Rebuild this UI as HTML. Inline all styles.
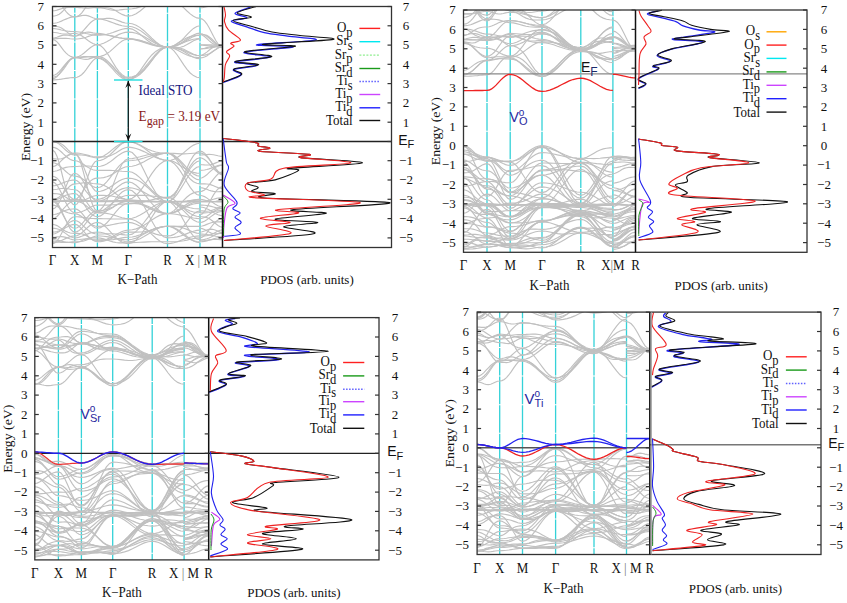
<!DOCTYPE html>
<html><head><meta charset="utf-8"><style>
html,body{margin:0;padding:0;background:#fff;}
body{width:847px;height:603px;position:relative;overflow:hidden;font-family:"Liberation Serif", serif;}
</style></head><body>
<svg width="847" height="603" viewBox="0 0 847 603" style="position:absolute;left:0;top:0"><rect width="847" height="603" fill="#fff"/><line x1="74.8" y1="6.5" x2="74.8" y2="247.5" stroke="#34d2d8" stroke-width="1.3" stroke-dasharray="27.6 1" stroke-dashoffset="21.3"/><line x1="97.4" y1="6.5" x2="97.4" y2="247.5" stroke="#34d2d8" stroke-width="1.3" stroke-dasharray="27.6 1" stroke-dashoffset="21.3"/><line x1="128.3" y1="6.5" x2="128.3" y2="247.5" stroke="#34d2d8" stroke-width="1.3" stroke-dasharray="27.6 1" stroke-dashoffset="21.3"/><line x1="167.5" y1="6.5" x2="167.5" y2="247.5" stroke="#34d2d8" stroke-width="1.3" stroke-dasharray="27.6 1" stroke-dashoffset="21.3"/><line x1="200.0" y1="6.5" x2="200.0" y2="247.5" stroke="#34d2d8" stroke-width="1.3" stroke-dasharray="27.6 1" stroke-dashoffset="21.3"/><line x1="487.0" y1="10.0" x2="487.0" y2="252.3" stroke="#34d2d8" stroke-width="1.3" stroke-dasharray="27.6 1" stroke-dashoffset="21.3"/><line x1="510.2" y1="10.0" x2="510.2" y2="252.3" stroke="#34d2d8" stroke-width="1.3" stroke-dasharray="27.6 1" stroke-dashoffset="21.3"/><line x1="542.0" y1="10.0" x2="542.0" y2="252.3" stroke="#34d2d8" stroke-width="1.3" stroke-dasharray="27.6 1" stroke-dashoffset="21.3"/><line x1="580.8" y1="10.0" x2="580.8" y2="252.3" stroke="#34d2d8" stroke-width="1.3" stroke-dasharray="27.6 1" stroke-dashoffset="21.3"/><line x1="612.9" y1="10.0" x2="612.9" y2="252.3" stroke="#34d2d8" stroke-width="1.3" stroke-dasharray="27.6 1" stroke-dashoffset="21.3"/><line x1="58.4" y1="317.6" x2="58.4" y2="559.9" stroke="#34d2d8" stroke-width="1.3" stroke-dasharray="27.6 1" stroke-dashoffset="21.3"/><line x1="81.4" y1="317.6" x2="81.4" y2="559.9" stroke="#34d2d8" stroke-width="1.3" stroke-dasharray="27.6 1" stroke-dashoffset="21.3"/><line x1="112.7" y1="317.6" x2="112.7" y2="559.9" stroke="#34d2d8" stroke-width="1.3" stroke-dasharray="27.6 1" stroke-dashoffset="21.3"/><line x1="152.2" y1="317.6" x2="152.2" y2="559.9" stroke="#34d2d8" stroke-width="1.3" stroke-dasharray="27.6 1" stroke-dashoffset="21.3"/><line x1="184.1" y1="317.6" x2="184.1" y2="559.9" stroke="#34d2d8" stroke-width="1.3" stroke-dasharray="27.6 1" stroke-dashoffset="21.3"/><line x1="499.7" y1="312.1" x2="499.7" y2="554.5" stroke="#34d2d8" stroke-width="1.3" stroke-dasharray="27.6 1" stroke-dashoffset="21.3"/><line x1="522.5" y1="312.1" x2="522.5" y2="554.5" stroke="#34d2d8" stroke-width="1.3" stroke-dasharray="27.6 1" stroke-dashoffset="21.3"/><line x1="555.6" y1="312.1" x2="555.6" y2="554.5" stroke="#34d2d8" stroke-width="1.3" stroke-dasharray="27.6 1" stroke-dashoffset="21.3"/><line x1="594.0" y1="312.1" x2="594.0" y2="554.5" stroke="#34d2d8" stroke-width="1.3" stroke-dasharray="27.6 1" stroke-dashoffset="21.3"/><line x1="626.5" y1="312.1" x2="626.5" y2="554.5" stroke="#34d2d8" stroke-width="1.3" stroke-dasharray="27.6 1" stroke-dashoffset="21.3"/><clipPath id="cb0"><rect x="52.5" y="6.5" width="170.0" height="241.0"/></clipPath><g clip-path="url(#cb0)" fill="none" stroke="#c0c0c0" stroke-width="1.15"><path d="M52.5 79.8L54.7 79.8L57.0 79.6L59.2 79.4L61.4 79.1L63.6 78.7L65.9 78.4L68.1 78.1L70.3 77.8L72.6 77.6L74.8 77.6L77.1 77.3L79.3 76.3L81.6 74.7L83.8 72.5L86.1 69.6L88.4 66.4L90.6 63.3L92.9 60.6L95.1 58.8L97.4 58.1L100.5 58.7L103.6 60.2L106.7 62.7L109.8 65.8L112.9 69.2L115.9 72.6L119.0 75.6L122.1 78.0L125.2 79.6L128.3 80.1L132.2 78.9L136.1 75.6L140.1 70.8L144.0 65.2L147.9 59.7L151.8 55.0L155.7 51.4L159.7 48.9L163.6 47.5L167.5 47.1L170.8 48.1L174.0 50.9L177.2 55.0L180.5 59.9L183.8 64.9L187.0 69.4L190.2 73.0L193.5 75.6L196.8 77.2L200.0 77.7M200.0 57.9L202.2 57.7L204.5 57.0L206.8 55.9L209.0 54.4L211.2 52.8L213.5 51.0L215.8 49.4L218.0 48.0L220.2 47.1L222.5 46.8"/><path d="M52.5 78.9L54.7 78.3L57.0 76.6L59.2 73.9L61.4 70.8L63.6 67.4L65.9 64.3L68.1 61.6L70.3 59.6L72.6 58.4L74.8 58.0L77.1 57.9L79.3 57.8L81.6 57.5L83.8 57.3L86.1 57.0L88.4 56.8L90.6 56.6L92.9 56.5L95.1 56.5L97.4 56.4L100.5 56.9L103.6 58.1L106.7 60.2L109.8 63.1L112.9 66.5L115.9 70.1L119.0 73.7L122.1 76.7L125.2 78.7L128.3 79.4L132.2 78.8L136.1 77.1L140.1 74.3L144.0 70.4L147.9 65.6L151.8 60.5L155.7 55.4L159.7 51.1L163.6 48.3L167.5 47.2L170.8 47.4L174.0 47.8L177.2 48.6L180.5 49.8L183.8 51.5L187.0 53.4L190.2 55.4L193.5 57.2L196.8 58.4L200.0 58.8M200.0 55.4L202.2 55.4L204.5 55.1L206.8 54.6L209.0 53.7L211.2 52.5L213.5 51.0L215.8 49.5L218.0 48.1L220.2 47.1L222.5 46.7"/><path d="M52.5 77.3L54.7 76.9L57.0 76.0L59.2 74.3L61.4 72.0L63.6 69.1L65.9 65.9L68.1 62.6L70.3 59.9L72.6 58.0L74.8 57.3L77.1 57.3L79.3 57.1L81.6 56.8L83.8 56.6L86.1 56.6L88.4 56.7L90.6 57.0L92.9 57.3L95.1 57.6L97.4 57.7L100.5 58.1L103.6 59.4L106.7 61.4L109.8 64.1L112.9 67.2L115.9 70.4L119.0 73.5L122.1 76.0L125.2 77.6L128.3 78.2L132.2 77.6L136.1 75.6L140.1 72.5L144.0 68.4L147.9 63.7L151.8 58.8L155.7 54.1L159.7 50.3L163.6 47.9L167.5 47.0L170.8 47.4L174.0 48.4L177.2 50.0L180.5 51.7L183.8 53.5L187.0 55.0L190.2 56.2L193.5 57.0L196.8 57.4L200.0 57.6M200.0 48.7L202.2 48.7L204.5 48.6L206.8 48.4L209.0 48.0L211.2 47.6L213.5 47.2L215.8 46.7L218.0 46.3L220.2 46.1L222.5 46.0"/><path d="M52.5 75.4L54.7 75.0L57.0 73.7L59.2 71.7L61.4 69.2L63.6 66.4L65.9 63.6L68.1 61.1L70.3 59.1L72.6 57.8L74.8 57.4L77.1 57.1L79.3 56.3L81.6 54.9L83.8 53.2L86.1 51.3L88.4 49.3L90.6 47.5L92.9 46.0L95.1 45.0L97.4 44.7L100.5 45.6L103.6 48.3L106.7 52.4L109.8 57.3L112.9 62.5L115.9 67.4L119.0 71.6L122.1 74.7L125.2 76.7L128.3 77.3L132.2 76.9L136.1 75.6L140.1 73.4L144.0 70.0L147.9 65.7L151.8 60.6L155.7 55.5L159.7 51.1L163.6 48.1L167.5 47.0L170.8 47.0L174.0 47.1L177.2 47.4L180.5 48.2L183.8 49.3L187.0 50.9L190.2 52.6L193.5 54.2L196.8 55.3L200.0 55.8M200.0 44.7L202.2 44.7L204.5 44.7L206.8 44.7L209.0 44.8L211.2 44.9L213.5 45.1L215.8 45.3L218.0 45.5L220.2 45.7L222.5 45.7"/><path d="M52.5 39.5L54.7 40.1L57.0 41.9L59.2 44.4L61.4 47.4L63.6 50.3L65.9 52.9L68.1 54.9L70.3 56.3L72.6 57.1L74.8 57.3L77.1 57.5L79.3 58.1L81.6 58.8L83.8 59.3L86.1 59.4L88.4 59.1L90.6 58.4L92.9 57.6L95.1 57.0L97.4 56.8L100.5 56.4L103.6 55.4L106.7 53.8L109.8 51.6L112.9 48.9L115.9 46.1L119.0 43.4L122.1 41.1L125.2 39.6L128.3 39.1L132.2 39.3L136.1 40.1L140.1 41.1L144.0 42.4L147.9 43.7L151.8 44.9L155.7 45.9L159.7 46.6L163.6 47.0L167.5 47.2L170.8 47.3L174.0 47.5L177.2 47.6L180.5 47.2L183.8 46.2L187.0 44.6L190.2 42.7L193.5 40.8L196.8 39.4L200.0 38.8M200.0 34.2L202.2 34.3L204.5 34.7L206.8 35.4L209.0 36.7L211.2 38.5L213.5 40.7L215.8 43.0L218.0 45.1L220.2 46.6L222.5 47.1"/><path d="M52.5 38.9L54.7 38.8L57.0 38.6L59.2 38.4L61.4 38.3L63.6 38.3L65.9 38.3L68.1 38.5L70.3 38.8L72.6 39.0L74.8 39.0L77.1 39.0L79.3 38.7L81.6 38.4L83.8 37.9L86.1 37.2L88.4 36.4L90.6 35.7L92.9 35.0L95.1 34.6L97.4 34.4L100.5 34.5L103.6 34.7L106.7 35.0L109.8 35.5L112.9 36.1L115.9 36.9L119.0 37.7L122.1 38.3L125.2 38.8L128.3 39.0L132.2 39.1L136.1 39.6L140.1 40.4L144.0 41.5L147.9 42.7L151.8 44.0L155.7 45.2L159.7 46.3L163.6 46.9L167.5 47.2L170.8 46.7L174.0 45.5L177.2 43.6L180.5 41.5L183.8 39.5L187.0 37.8L190.2 36.6L193.5 35.7L196.8 35.3L200.0 35.2M200.0 33.8L202.2 34.1L204.5 34.9L206.8 36.3L209.0 38.0L211.2 40.0L213.5 42.0L215.8 43.9L218.0 45.4L220.2 46.4L222.5 46.8"/><path d="M52.5 38.2L54.7 37.9L57.0 37.3L59.2 36.4L61.4 35.6L63.6 35.1L65.9 35.0L68.1 35.2L70.3 35.6L72.6 35.9L74.8 36.0L77.1 35.7L79.3 35.0L81.6 33.9L83.8 33.0L86.1 32.3L88.4 32.2L90.6 32.4L92.9 32.9L95.1 33.3L97.4 33.4L100.5 33.6L103.6 34.1L106.7 34.8L109.8 35.6L112.9 36.4L115.9 37.1L119.0 37.7L122.1 38.1L125.2 38.3L128.3 38.4L132.2 38.7L136.1 39.5L140.1 40.6L144.0 41.9L147.9 43.3L151.8 44.5L155.7 45.5L159.7 46.3L163.6 46.7L167.5 46.8L170.8 46.6L174.0 46.0L177.2 44.9L180.5 43.3L183.8 41.3L187.0 39.0L190.2 36.8L193.5 34.9L196.8 33.6L200.0 33.1M200.0 45.2L202.2 45.3L204.5 45.4L206.8 45.6L209.0 45.8L211.2 45.9L213.5 46.0L215.8 46.0L218.0 46.0L220.2 45.9L222.5 45.9"/><path d="M52.5 32.3L54.7 32.5L57.0 32.8L59.2 33.3L61.4 33.7L63.6 34.0L65.9 34.0L68.1 33.9L70.3 33.7L72.6 33.5L74.8 33.4L77.1 33.7L79.3 34.5L81.6 35.7L83.8 37.3L86.1 39.0L88.4 40.8L90.6 42.3L92.9 43.6L95.1 44.4L97.4 44.7L100.5 44.3L103.6 43.3L106.7 41.8L109.8 39.9L112.9 37.9L115.9 36.0L119.0 34.4L122.1 33.2L125.2 32.4L128.3 32.1L132.2 32.4L136.1 33.3L140.1 34.7L144.0 36.5L147.9 38.8L151.8 41.2L155.7 43.5L159.7 45.4L163.6 46.6L167.5 47.1L170.8 46.7L174.0 45.7L177.2 43.8L180.5 41.3L183.8 38.2L187.0 34.7L190.2 31.3L193.5 28.4L196.8 26.5L200.0 25.8M200.0 49.0L202.2 48.8L204.5 48.3L206.8 47.6L209.0 47.0L211.2 46.6L213.5 46.6L215.8 46.8L218.0 47.1L220.2 47.5L222.5 47.6"/><path d="M52.5 28.5L54.7 28.6L57.0 29.0L59.2 29.4L61.4 30.0L63.6 30.5L65.9 30.9L68.1 31.2L70.3 31.4L72.6 31.5L74.8 31.6L77.1 31.7L79.3 32.0L81.6 32.4L83.8 32.9L86.1 33.5L88.4 34.0L90.6 34.5L92.9 34.9L95.1 35.1L97.4 35.1L100.5 35.1L103.6 34.8L106.7 34.3L109.8 33.5L112.9 32.5L115.9 31.4L119.0 30.3L122.1 29.3L125.2 28.6L128.3 28.4L132.2 29.1L136.1 31.2L140.1 34.2L144.0 37.6L147.9 40.8L151.8 43.4L155.7 45.3L159.7 46.4L163.6 47.0L167.5 47.1L170.8 46.9L174.0 46.2L177.2 45.1L180.5 43.8L183.8 42.5L187.0 41.2L190.2 40.1L193.5 39.3L196.8 38.8L200.0 38.6M200.0 34.5L202.2 35.0L204.5 36.5L206.8 38.5L209.0 40.6L211.2 42.5L213.5 43.9L215.8 44.7L218.0 45.1L220.2 45.2L222.5 45.2"/><path d="M52.5 26.1L54.7 26.2L57.0 26.5L59.2 27.0L61.4 28.0L63.6 29.4L65.9 31.1L68.1 32.9L70.3 34.5L72.6 35.7L74.8 36.1L77.1 35.7L79.3 34.4L81.6 32.5L83.8 30.1L86.1 27.5L88.4 24.9L90.6 22.5L92.9 20.7L95.1 19.5L97.4 19.1L100.5 19.0L103.6 18.7L106.7 18.4L109.8 18.4L112.9 18.8L115.9 19.7L119.0 20.9L122.1 22.1L125.2 23.0L128.3 23.3L132.2 23.8L136.1 25.2L140.1 27.6L144.0 30.7L147.9 34.3L151.8 38.1L155.7 41.7L159.7 44.7L163.6 46.6L167.5 47.3L170.8 47.4L174.0 47.8L177.2 48.4L180.5 49.3L183.8 50.5L187.0 51.9L190.2 53.4L193.5 54.6L196.8 55.5L200.0 55.8M200.0 55.5L202.2 55.1L204.5 53.8L206.8 52.1L209.0 50.2L211.2 48.6L213.5 47.3L215.8 46.5L218.0 46.1L220.2 46.0L222.5 45.9"/><path d="M52.5 23.3L54.7 23.2L57.0 22.7L59.2 22.0L61.4 21.1L63.6 20.1L65.9 19.1L68.1 18.2L70.3 17.4L72.6 16.9L74.8 16.8L77.1 16.6L79.3 16.1L81.6 15.6L83.8 15.3L86.1 15.4L88.4 15.9L90.6 16.8L92.9 17.8L95.1 18.5L97.4 18.8L100.5 19.0L103.6 19.6L106.7 20.5L109.8 21.6L112.9 22.8L115.9 23.9L119.0 24.9L122.1 25.7L125.2 26.2L128.3 26.3L132.2 26.8L136.1 28.2L140.1 30.4L144.0 33.2L147.9 36.4L151.8 39.7L155.7 42.7L159.7 45.2L163.6 46.7L167.5 47.3L170.8 47.1L174.0 46.5L177.2 45.5L180.5 44.0L183.8 42.2L187.0 40.2L190.2 38.3L193.5 36.6L196.8 35.5L200.0 35.1M200.0 18.4L202.2 19.1L204.5 20.9L206.8 23.8L209.0 27.5L211.2 31.8L213.5 36.3L215.8 40.5L218.0 43.9L220.2 46.1L222.5 46.9"/><path d="M52.5 10.8L54.7 10.7L57.0 10.1L59.2 9.4L61.4 8.7L63.6 8.0L65.9 7.6L68.1 7.4L70.3 7.3L72.6 7.3L74.8 7.3L77.1 7.4L79.3 7.6L81.6 7.8L83.8 8.0L86.1 8.1L88.4 8.1L90.6 7.9L92.9 7.7L95.1 7.5L97.4 7.4L100.5 7.6L103.6 8.2L106.7 9.0L109.8 9.7L112.9 10.2L115.9 10.3L119.0 10.0L122.1 9.6L125.2 9.2L128.3 9.1L132.2 8.8L136.1 8.1L140.1 6.9L144.0 5.5L147.9 3.9L151.8 2.3L155.7 0.8L159.7 -0.4L163.6 -1.1L167.5 -1.4L170.8 -1.0L174.0 0.3L177.2 2.3L180.5 4.9L183.8 7.9L187.0 11.0L190.2 13.9L193.5 16.3L196.8 17.9L200.0 18.4M200.0 7.8L202.2 7.7L204.5 7.3L206.8 6.8L209.0 6.2L211.2 5.4L213.5 4.5L215.8 3.8L218.0 3.1L220.2 2.7L222.5 2.5"/><path d="M52.5 -3.2L54.7 -2.6L57.0 -0.8L59.2 1.9L61.4 5.1L63.6 8.4L65.9 11.3L68.1 13.8L70.3 15.6L72.6 16.6L74.8 17.0L77.1 16.5L79.3 15.2L81.6 13.1L83.8 10.2L86.1 6.9L88.4 3.3L90.6 -0.1L92.9 -2.9L95.1 -4.7L97.4 -5.4L100.5 -5.3L103.6 -5.0L106.7 -4.7L109.8 -4.3L112.9 -3.9L115.9 -3.7L119.0 -3.5L122.1 -3.4L125.2 -3.3L128.3 -3.3L132.2 -2.8L136.1 -1.5L140.1 0.2L144.0 1.7L147.9 2.7L151.8 2.9L155.7 2.5L159.7 1.7L163.6 1.0L167.5 0.7L170.8 0.9L174.0 1.6L177.2 2.5L180.5 3.6L183.8 4.6L187.0 5.4L190.2 6.1L193.5 6.4L196.8 6.7L200.0 6.7M200.0 -3.2L202.2 -3.3L204.5 -3.7L206.8 -4.2L209.0 -4.5L211.2 -4.4L213.5 -3.9L215.8 -3.0L218.0 -2.1L220.2 -1.4L222.5 -1.2"/><path d="M52.5 16.1L54.7 16.0L57.0 15.3L59.2 14.2L61.4 12.5L63.6 10.3L65.9 7.7L68.1 5.0L70.3 2.7L72.6 1.1L74.8 0.6L77.1 0.8L79.3 1.4L81.6 2.3L83.8 3.3L86.1 4.5L88.4 5.6L90.6 6.5L92.9 7.2L95.1 7.6L97.4 7.8L100.5 7.7L103.6 7.7L106.7 7.8L109.8 8.3L112.9 9.3L115.9 10.8L119.0 12.7L122.1 14.4L125.2 15.6L128.3 16.1L132.2 15.5L136.1 13.7L140.1 11.0L144.0 7.7L147.9 4.3L151.8 1.1L155.7 -1.6L159.7 -3.6L163.6 -4.8L167.5 -5.2L170.8 -5.3L174.0 -5.5L177.2 -5.7L180.5 -5.8L183.8 -5.7L187.0 -5.2L190.2 -4.6L193.5 -3.9L196.8 -3.4L200.0 -3.2M200.0 2.2L202.2 2.0L204.5 1.6L206.8 0.9L209.0 -0.0L211.2 -1.1L213.5 -2.2L215.8 -3.2L218.0 -4.0L220.2 -4.6L222.5 -4.7"/><path d="M52.5 202.0L54.7 201.9L57.0 201.8L59.2 201.5L61.4 201.1L63.6 200.8L65.9 200.4L68.1 200.1L70.3 199.8L72.6 199.6L74.8 199.6L77.1 199.6L79.3 199.7L81.6 199.9L83.8 200.1L86.1 200.3L88.4 200.5L90.6 200.7L92.9 200.9L95.1 201.0L97.4 201.0L100.5 201.0L103.6 201.1L106.7 201.1L109.8 201.1L112.9 201.1L115.9 201.1L119.0 201.1L122.1 201.1L125.2 201.1L128.3 201.1L132.2 201.1L136.1 201.1L140.1 201.2L144.0 201.3L147.9 201.3L151.8 201.4L155.7 201.5L159.7 201.6L163.6 201.6L167.5 201.6L170.8 201.6L174.0 201.5L177.2 201.4L180.5 201.3L183.8 201.2L187.0 201.1L190.2 200.9L193.5 200.8L196.8 200.8L200.0 200.8M200.0 201.2L202.2 201.2L204.5 201.2L206.8 201.3L209.0 201.3L211.2 201.4L213.5 201.5L215.8 201.5L218.0 201.6L220.2 201.6L222.5 201.6"/><path d="M52.5 201.3L54.7 201.3L57.0 201.3L59.2 201.3L61.4 201.3L63.6 201.3L65.9 201.3L68.1 201.3L70.3 201.3L72.6 201.3L74.8 201.3L77.1 201.3L79.3 201.3L81.6 201.4L83.8 201.4L86.1 201.5L88.4 201.5L90.6 201.5L92.9 201.6L95.1 201.6L97.4 201.6L100.5 201.6L103.6 201.6L106.7 201.6L109.8 201.7L112.9 201.7L115.9 201.7L119.0 201.7L122.1 201.7L125.2 201.7L128.3 201.7L132.2 201.7L136.1 201.7L140.1 201.7L144.0 201.7L147.9 201.7L151.8 201.7L155.7 201.6L159.7 201.6L163.6 201.6L167.5 201.6L170.8 201.6L174.0 201.6L177.2 201.5L180.5 201.5L183.8 201.5L187.0 201.4L190.2 201.4L193.5 201.3L196.8 201.3L200.0 201.3M200.0 201.6L202.2 201.6L204.5 201.6L206.8 201.6L209.0 201.6L211.2 201.6L213.5 201.6L215.8 201.6L218.0 201.6L220.2 201.6L222.5 201.6"/><path d="M52.5 200.6L54.7 200.6L57.0 200.7L59.2 200.7L61.4 200.8L63.6 200.8L65.9 200.9L68.1 201.0L70.3 201.0L72.6 201.0L74.8 201.0L77.1 201.0L79.3 201.1L81.6 201.1L83.8 201.1L86.1 201.1L88.4 201.2L90.6 201.2L92.9 201.2L95.1 201.2L97.4 201.2L100.5 201.2L103.6 201.1L106.7 201.0L109.8 200.9L112.9 200.8L115.9 200.6L119.0 200.5L122.1 200.4L125.2 200.3L128.3 200.3L132.2 200.4L136.1 200.4L140.1 200.6L144.0 200.8L147.9 201.0L151.8 201.2L155.7 201.3L159.7 201.5L163.6 201.6L167.5 201.6L170.8 201.6L174.0 201.7L177.2 201.7L180.5 201.8L183.8 201.8L187.0 201.9L190.2 202.0L193.5 202.0L196.8 202.1L200.0 202.1M200.0 201.6L202.2 201.6L204.5 201.6L206.8 201.6L209.0 201.6L211.2 201.6L213.5 201.6L215.8 201.6L218.0 201.6L220.2 201.6L222.5 201.6"/><path d="M52.5 241.7L54.7 241.8L57.0 242.0L59.2 242.2L61.4 242.4L63.6 242.5L65.9 242.4L68.1 242.2L70.3 242.0L72.6 241.8L74.8 241.7L77.1 241.7L79.3 241.7L81.6 241.5L83.8 241.0L86.1 240.3L88.4 239.3L90.6 238.1L92.9 237.0L95.1 236.2L97.4 235.9L100.5 236.0L103.6 236.2L106.7 236.6L109.8 237.1L112.9 237.7L115.9 238.3L119.0 238.9L122.1 239.4L125.2 239.7L128.3 239.8L132.2 239.3L136.1 238.1L140.1 236.2L144.0 234.1L147.9 231.9L151.8 229.9L155.7 228.3L159.7 227.2L163.6 226.5L167.5 226.3L170.8 226.6L174.0 227.7L177.2 229.3L180.5 231.4L183.8 233.9L187.0 236.5L190.2 238.9L193.5 240.9L196.8 242.2L200.0 242.7M200.0 239.8L202.2 239.7L204.5 239.4L206.8 238.8L209.0 238.0L211.2 237.0L213.5 235.8L215.8 234.6L218.0 233.6L220.2 232.9L222.5 232.7"/><path d="M52.5 239.8L54.7 239.9L57.0 240.2L59.2 240.6L61.4 241.1L63.6 241.6L65.9 242.0L68.1 242.3L70.3 242.5L72.6 242.6L74.8 242.7L77.1 242.4L79.3 241.8L81.6 240.8L83.8 239.8L86.1 239.0L88.4 238.3L90.6 238.0L92.9 237.9L95.1 237.9L97.4 237.9L100.5 238.1L103.6 238.9L106.7 239.9L109.8 241.0L112.9 241.9L115.9 242.5L119.0 242.8L122.1 242.8L125.2 242.7L128.3 242.7L132.2 242.6L136.1 242.5L140.1 242.3L144.0 242.1L147.9 241.9L151.8 241.8L155.7 241.7L159.7 241.7L163.6 241.7L167.5 241.7L170.8 241.7L174.0 241.7L177.2 241.6L180.5 241.3L183.8 240.8L187.0 240.1L190.2 239.3L193.5 238.6L196.8 238.1L200.0 237.9M200.0 241.7L202.2 241.6L204.5 241.4L206.8 240.9L209.0 240.3L211.2 239.7L213.5 238.9L215.8 238.3L218.0 237.7L220.2 237.3L222.5 237.2"/><path d="M52.5 237.3L54.7 237.2L57.0 236.9L59.2 236.7L61.4 236.6L63.6 236.9L65.9 237.4L68.1 238.2L70.3 239.0L72.6 239.6L74.8 239.8L77.1 239.7L79.3 239.5L81.6 239.2L83.8 239.0L86.1 238.9L88.4 239.0L90.6 239.2L92.9 239.5L95.1 239.7L97.4 239.8L100.5 239.8L103.6 239.9L106.7 240.0L109.8 239.9L112.9 239.6L115.9 239.2L119.0 238.5L122.1 237.9L125.2 237.4L128.3 237.3L132.2 237.0L136.1 236.1L140.1 234.8L144.0 233.2L147.9 231.5L151.8 229.9L155.7 228.4L159.7 227.3L163.6 226.5L167.5 226.3L170.8 226.8L174.0 228.2L177.2 230.3L180.5 232.8L183.8 235.3L187.0 237.6L190.2 239.4L193.5 240.7L196.8 241.5L200.0 241.7M200.0 235.9L202.2 235.9L204.5 235.9L206.8 235.8L209.0 235.3L211.2 234.6L213.5 233.5L215.8 232.2L218.0 231.1L220.2 230.2L222.5 229.9"/><path d="M52.5 224.4L54.7 224.7L57.0 225.6L59.2 227.0L61.4 228.6L63.6 230.1L65.9 231.4L68.1 232.3L70.3 233.0L72.6 233.3L74.8 233.4L77.1 233.4L79.3 233.5L81.6 233.8L83.8 234.4L86.1 235.5L88.4 237.0L90.6 238.6L92.9 240.2L95.1 241.3L97.4 241.7L100.5 241.6L103.6 241.1L106.7 240.3L109.8 239.2L112.9 237.8L115.9 236.3L119.0 234.7L122.1 233.3L125.2 232.4L128.3 232.1L132.2 232.1L136.1 232.1L140.1 232.0L144.0 231.7L147.9 231.0L151.8 229.9L155.7 228.6L159.7 227.5L163.6 226.6L167.5 226.3L170.8 226.3L174.0 226.3L177.2 226.4L180.5 226.4L183.8 226.4L187.0 226.4L190.2 226.4L193.5 226.3L196.8 226.3L200.0 226.3M200.0 237.9L202.2 237.3L204.5 235.6L206.8 233.0L209.0 230.0L211.2 227.0L213.5 224.1L215.8 221.8L218.0 220.1L220.2 219.1L222.5 218.7"/><path d="M52.5 228.2L54.7 228.4L57.0 228.8L59.2 229.5L61.4 230.6L63.6 232.0L65.9 233.6L68.1 235.2L70.3 236.6L72.6 237.5L74.8 237.9L77.1 237.7L79.3 237.1L81.6 236.3L83.8 235.4L86.1 234.5L88.4 233.6L90.6 232.9L92.9 232.5L95.1 232.2L97.4 232.1L100.5 232.3L103.6 233.0L106.7 234.1L109.8 235.5L112.9 237.0L115.9 238.5L119.0 239.8L122.1 240.8L125.2 241.5L128.3 241.7L132.2 241.4L136.1 240.3L140.1 238.7L144.0 236.6L147.9 234.2L151.8 231.8L155.7 229.6L159.7 227.8L163.6 226.7L167.5 226.3L170.8 226.3L174.0 226.4L177.2 226.6L180.5 227.2L183.8 228.2L187.0 229.4L190.2 230.8L193.5 232.2L196.8 233.1L200.0 233.4M200.0 226.3L202.2 226.0L204.5 225.4L206.8 224.4L209.0 223.5L211.2 222.7L213.5 222.1L215.8 221.9L218.0 221.8L220.2 221.9L222.5 221.9"/><path d="M52.5 242.7L54.7 242.5L57.0 242.1L59.2 241.4L61.4 240.5L63.6 239.5L65.9 238.4L68.1 237.5L70.3 236.6L72.6 236.1L74.8 235.9L77.1 235.6L79.3 234.5L81.6 233.0L83.8 231.0L86.1 228.9L88.4 226.8L90.6 225.0L92.9 223.6L95.1 222.7L97.4 222.4L100.5 223.1L103.6 225.0L106.7 227.8L109.8 231.2L112.9 234.6L115.9 237.7L119.0 240.3L122.1 242.2L125.2 243.3L128.3 243.6L132.2 242.7L136.1 240.1L140.1 235.8L144.0 230.2L147.9 223.8L151.8 217.2L155.7 211.1L159.7 206.0L163.6 202.8L167.5 201.6L170.8 202.0L174.0 203.2L177.2 205.2L180.5 207.8L183.8 210.9L187.0 214.2L190.2 217.4L193.5 220.1L196.8 221.8L200.0 222.4M200.0 240.8L202.2 240.7L204.5 240.5L206.8 240.2L209.0 239.9L211.2 239.6L213.5 239.5L215.8 239.5L218.0 239.5L220.2 239.6L222.5 239.6"/><path d="M52.5 232.1L54.7 232.0L57.0 231.6L59.2 230.9L61.4 230.0L63.6 228.9L65.9 227.6L68.1 226.4L70.3 225.3L72.6 224.6L74.8 224.4L77.1 224.9L79.3 226.5L81.6 228.8L83.8 231.5L86.1 234.2L88.4 236.6L90.6 238.4L92.9 239.7L95.1 240.5L97.4 240.8L100.5 240.6L103.6 240.1L106.7 239.2L109.8 237.9L112.9 236.4L115.9 234.6L119.0 232.9L122.1 231.5L125.2 230.5L128.3 230.1L132.2 229.8L136.1 228.9L140.1 227.3L144.0 225.2L147.9 222.7L151.8 220.1L155.7 217.5L159.7 215.4L163.6 214.1L167.5 213.6L170.8 213.7L174.0 214.0L177.2 214.5L180.5 215.1L183.8 215.9L187.0 216.7L190.2 217.4L193.5 218.0L196.8 218.4L200.0 218.6M200.0 222.4L202.2 222.1L204.5 221.2L206.8 219.8L209.0 218.1L211.2 216.4L213.5 214.7L215.8 213.3L218.0 212.3L220.2 211.7L222.5 211.4"/><path d="M52.5 234.0L54.7 233.7L57.0 232.8L59.2 231.5L61.4 229.7L63.6 227.6L65.9 225.5L68.1 223.5L70.3 221.9L72.6 220.9L74.8 220.5L77.1 221.0L79.3 222.2L81.6 224.1L83.8 226.3L86.1 228.5L88.4 230.4L90.6 232.0L92.9 233.1L95.1 233.8L97.4 234.0L100.5 234.0L103.6 233.9L106.7 233.7L109.8 233.7L112.9 233.8L115.9 234.0L119.0 234.3L122.1 234.6L125.2 234.9L128.3 235.0L132.2 234.1L136.1 231.4L140.1 227.4L144.0 222.5L147.9 217.3L151.8 212.2L155.7 207.8L159.7 204.4L163.6 202.3L167.5 201.6L170.8 202.5L174.0 205.3L177.2 209.5L180.5 214.8L183.8 220.7L187.0 226.6L190.2 231.9L193.5 236.1L196.8 238.9L200.0 239.8M200.0 234.0L202.2 234.1L204.5 234.2L206.8 234.5L209.0 234.8L211.2 235.3L213.5 235.7L215.8 236.2L218.0 236.5L220.2 236.8L222.5 236.9"/><path d="M52.5 243.6L54.7 242.9L57.0 240.8L59.2 237.7L61.4 233.7L63.6 229.5L65.9 225.4L68.1 221.8L70.3 219.0L72.6 217.3L74.8 216.7L77.1 216.7L79.3 216.9L81.6 217.3L83.8 217.6L86.1 217.9L88.4 218.2L90.6 218.4L92.9 218.5L95.1 218.6L97.4 218.6L100.5 218.6L103.6 218.7L106.7 218.8L109.8 218.9L112.9 219.0L115.9 219.0L119.0 219.0L122.1 219.0L125.2 219.0L128.3 219.0L132.2 219.5L136.1 221.0L140.1 223.5L144.0 226.7L147.9 230.4L151.8 234.3L155.7 238.0L159.7 241.0L163.6 243.0L167.5 243.6L170.8 243.4L174.0 242.7L177.2 241.7L180.5 240.5L183.8 239.3L187.0 238.1L190.2 237.2L193.5 236.5L196.8 236.1L200.0 235.9M200.0 228.2L202.2 228.6L204.5 229.5L206.8 230.8L209.0 232.1L211.2 233.1L213.5 233.7L215.8 233.8L218.0 233.7L220.2 233.5L222.5 233.4"/><path d="M52.5 205.1L54.7 205.4L57.0 206.3L59.2 207.7L61.4 209.2L63.6 210.7L65.9 211.9L68.1 212.8L70.3 213.4L72.6 213.7L74.8 213.8L77.1 214.1L79.3 215.0L81.6 216.5L83.8 218.3L86.1 220.3L88.4 222.2L90.6 223.9L92.9 225.2L95.1 226.0L97.4 226.3L100.5 226.2L103.6 226.0L106.7 225.6L109.8 225.1L112.9 224.5L115.9 223.9L119.0 223.3L122.1 222.9L125.2 222.5L128.3 222.4L132.2 222.9L136.1 224.2L140.1 226.2L144.0 228.4L147.9 230.7L151.8 232.6L155.7 234.1L159.7 235.1L163.6 235.7L167.5 235.9L170.8 235.6L174.0 234.4L177.2 232.4L180.5 229.5L183.8 225.9L187.0 221.8L190.2 217.6L193.5 214.1L196.8 211.7L200.0 210.9M200.0 216.7L202.2 216.7L204.5 217.0L206.8 217.6L209.0 218.6L211.2 220.0L213.5 221.8L215.8 223.7L218.0 225.5L220.2 226.7L222.5 227.1"/><path d="M52.5 218.6L54.7 218.0L57.0 216.5L59.2 214.2L61.4 211.4L63.6 208.6L65.9 206.1L68.1 204.0L70.3 202.4L72.6 201.5L74.8 201.2L77.1 201.4L79.3 201.9L81.6 202.8L83.8 204.0L86.1 205.7L88.4 207.6L90.6 209.6L92.9 211.2L95.1 212.4L97.4 212.8L100.5 212.9L103.6 213.0L106.7 213.4L109.8 214.0L112.9 214.8L115.9 215.8L119.0 216.8L122.1 217.7L125.2 218.4L128.3 218.6L132.2 218.2L136.1 217.0L140.1 215.1L144.0 212.8L147.9 210.1L151.8 207.5L155.7 205.1L159.7 203.2L163.6 202.0L167.5 201.6L170.8 202.0L174.0 203.0L177.2 204.4L180.5 206.2L183.8 208.0L187.0 209.6L190.2 211.0L193.5 212.0L196.8 212.6L200.0 212.8M200.0 232.1L202.2 231.8L204.5 231.0L206.8 230.1L209.0 229.4L211.2 229.1L213.5 229.5L215.8 230.3L218.0 231.3L220.2 232.1L222.5 232.4"/><path d="M52.5 199.9L54.7 200.6L57.0 202.7L59.2 206.1L61.4 210.4L63.6 215.3L65.9 220.3L68.1 225.0L70.3 228.8L72.6 231.2L74.8 232.1L77.1 231.6L79.3 230.4L81.6 228.4L83.8 225.8L86.1 222.9L88.4 219.9L90.6 217.1L92.9 214.8L95.1 213.3L97.4 212.8L100.5 212.6L103.6 211.9L106.7 210.8L109.8 209.3L112.9 207.5L115.9 205.4L119.0 203.5L122.1 201.8L125.2 200.7L128.3 200.3L132.2 200.4L136.1 200.6L140.1 201.0L144.0 201.3L147.9 201.6L151.8 201.7L155.7 201.8L159.7 201.7L163.6 201.6L167.5 201.6L170.8 201.9L174.0 202.5L177.2 203.5L180.5 204.7L183.8 205.9L187.0 207.0L190.2 207.8L193.5 208.5L196.8 208.8L200.0 208.9M200.0 207.0L202.2 207.2L204.5 207.8L206.8 208.7L209.0 209.8L211.2 211.1L213.5 212.5L215.8 213.7L218.0 214.7L220.2 215.4L222.5 215.6"/><path d="M52.5 201.2L54.7 202.0L57.0 204.4L59.2 207.8L61.4 212.0L63.6 216.3L65.9 220.3L68.1 223.7L70.3 226.2L72.6 227.7L74.8 228.2L77.1 227.7L79.3 226.3L81.6 224.2L83.8 221.6L86.1 218.9L88.4 216.2L90.6 214.0L92.9 212.3L95.1 211.2L97.4 210.9L100.5 210.7L103.6 210.2L106.7 209.4L109.8 208.3L112.9 206.9L115.9 205.3L119.0 203.7L122.1 202.4L125.2 201.5L128.3 201.2L132.2 201.6L136.1 202.5L140.1 204.0L144.0 205.8L147.9 207.7L151.8 209.6L155.7 211.2L159.7 212.5L163.6 213.3L167.5 213.6L170.8 213.2L174.0 212.2L177.2 210.5L180.5 208.5L183.8 206.3L187.0 204.1L190.2 202.2L193.5 200.6L196.8 199.6L200.0 199.3M200.0 218.6L202.2 218.3L204.5 217.5L206.8 216.2L209.0 214.7L211.2 213.0L213.5 211.5L215.8 210.2L218.0 209.2L220.2 208.6L222.5 208.4"/><path d="M52.5 214.7L54.7 214.5L57.0 213.9L59.2 213.0L61.4 212.0L63.6 211.0L65.9 210.2L68.1 209.6L70.3 209.2L72.6 209.0L74.8 208.9L77.1 209.4L79.3 210.8L81.6 212.9L83.8 215.6L86.1 218.6L88.4 221.6L90.6 224.3L92.9 226.4L95.1 227.8L97.4 228.2L100.5 227.6L103.6 225.8L106.7 223.0L109.8 219.6L112.9 215.7L115.9 211.9L119.0 208.4L122.1 205.7L125.2 204.0L128.3 203.4L132.2 203.4L136.1 203.6L140.1 204.0L144.0 204.9L147.9 206.2L151.8 208.0L155.7 210.0L159.7 211.8L163.6 213.1L167.5 213.6L170.8 213.3L174.0 212.4L177.2 211.1L180.5 209.6L183.8 207.9L187.0 206.4L190.2 205.0L193.5 204.0L196.8 203.4L200.0 203.2M200.0 212.8L202.2 212.8L204.5 212.8L206.8 212.7L209.0 212.5L211.2 212.2L213.5 211.8L215.8 211.3L218.0 210.9L220.2 210.6L222.5 210.5"/><path d="M52.5 200.3L54.7 200.0L57.0 199.4L59.2 198.5L61.4 197.4L63.6 196.3L65.9 195.3L68.1 194.5L70.3 194.0L72.6 193.6L74.8 193.5L77.1 194.3L79.3 196.5L81.6 199.8L83.8 203.7L86.1 207.5L88.4 210.8L90.6 213.4L92.9 215.3L95.1 216.3L97.4 216.7L100.5 215.9L103.6 213.8L106.7 210.6L109.8 206.7L112.9 202.5L115.9 198.4L119.0 194.8L122.1 192.0L125.2 190.3L128.3 189.7L132.2 190.8L136.1 194.2L140.1 199.4L144.0 206.1L147.9 213.5L151.8 221.0L155.7 227.8L159.7 233.2L163.6 236.7L167.5 237.9L170.8 237.8L174.0 237.4L177.2 236.9L180.5 236.0L183.8 234.9L187.0 233.6L190.2 232.3L193.5 231.2L196.8 230.4L200.0 230.1M200.0 199.3L202.2 199.5L204.5 200.0L206.8 200.7L209.0 201.2L211.2 201.6L213.5 201.5L215.8 201.2L218.0 200.8L220.2 200.4L222.5 200.3"/><path d="M52.5 189.7L54.7 189.5L57.0 189.2L59.2 188.8L61.4 188.5L63.6 188.3L65.9 188.5L68.1 188.8L70.3 189.2L72.6 189.5L74.8 189.7L77.1 190.3L79.3 192.0L81.6 194.6L83.8 197.8L86.1 201.3L88.4 204.7L90.6 207.6L92.9 209.9L95.1 211.3L97.4 211.8L100.5 211.3L103.6 209.9L106.7 207.8L109.8 205.3L112.9 202.7L115.9 200.2L119.0 198.2L122.1 196.7L125.2 195.8L128.3 195.4L132.2 195.4L136.1 195.4L140.1 195.3L144.0 195.4L147.9 195.7L151.8 196.0L155.7 196.5L159.7 197.0L163.6 197.3L167.5 197.4L170.8 198.0L174.0 199.7L177.2 202.2L180.5 205.2L183.8 208.3L187.0 211.2L190.2 213.5L193.5 215.3L196.8 216.3L200.0 216.7M200.0 210.9L202.2 210.9L204.5 211.1L206.8 211.2L209.0 211.0L211.2 210.6L213.5 209.8L215.8 208.8L218.0 207.9L220.2 207.2L222.5 206.9"/><path d="M52.5 193.5L54.7 193.6L57.0 193.7L59.2 194.1L61.4 194.8L63.6 195.9L65.9 197.2L68.1 198.7L70.3 200.0L72.6 200.9L74.8 201.2L77.1 201.2L79.3 201.0L81.6 200.6L83.8 200.0L86.1 199.2L88.4 198.2L90.6 197.2L92.9 196.3L95.1 195.7L97.4 195.4L100.5 195.4L103.6 195.4L106.7 195.5L109.8 195.8L112.9 196.3L115.9 197.0L119.0 197.8L122.1 198.6L125.2 199.1L128.3 199.3L132.2 198.3L136.1 195.5L140.1 191.2L144.0 185.7L147.9 179.7L151.8 173.7L155.7 168.4L159.7 164.2L163.6 161.5L167.5 160.5L170.8 161.3L174.0 163.4L177.2 166.9L180.5 171.4L183.8 176.7L187.0 182.2L190.2 187.4L193.5 191.7L196.8 194.5L200.0 195.4M200.0 195.4L202.2 195.7L204.5 196.6L206.8 197.9L209.0 199.6L211.2 201.3L213.5 203.0L215.8 204.6L218.0 205.7L220.2 206.5L222.5 206.7"/><path d="M52.5 185.8L54.7 185.6L57.0 185.1L59.2 184.4L61.4 183.5L63.6 182.6L65.9 181.7L68.1 181.0L70.3 180.5L72.6 180.1L74.8 180.0L77.1 180.7L79.3 182.5L81.6 185.1L83.8 188.3L86.1 191.4L88.4 194.2L90.6 196.5L92.9 198.1L95.1 199.0L97.4 199.3L100.5 198.9L103.6 197.9L106.7 196.1L109.8 193.9L112.9 191.2L115.9 188.5L119.0 185.9L122.1 183.8L125.2 182.4L128.3 181.9L132.2 182.8L136.1 185.3L140.1 189.0L144.0 193.7L147.9 198.6L151.8 203.4L155.7 207.6L159.7 210.9L163.6 212.9L167.5 213.6L170.8 213.3L174.0 212.5L177.2 211.2L180.5 209.6L183.8 207.7L187.0 205.8L190.2 204.0L193.5 202.5L196.8 201.6L200.0 201.2M200.0 201.2L202.2 201.2L204.5 201.0L206.8 200.8L209.0 200.3L211.2 199.8L213.5 199.2L215.8 198.6L218.0 198.0L220.2 197.7L222.5 197.5"/><path d="M52.5 208.9L54.7 208.2L57.0 205.9L59.2 202.4L61.4 197.7L63.6 192.3L65.9 186.7L68.1 181.4L70.3 177.1L72.6 174.3L74.8 173.3L77.1 173.9L79.3 175.7L81.6 178.6L83.8 182.3L86.1 186.6L88.4 191.0L90.6 195.0L92.9 198.3L95.1 200.5L97.4 201.2L100.5 200.9L103.6 199.9L106.7 198.3L109.8 196.3L112.9 194.2L115.9 192.2L119.0 190.3L122.1 188.9L125.2 188.0L128.3 187.7L132.2 188.0L136.1 189.0L140.1 190.4L144.0 192.3L147.9 194.4L151.8 196.6L155.7 198.6L159.7 200.2L163.6 201.2L167.5 201.6L170.8 201.7L174.0 201.8L177.2 201.9L180.5 201.8L183.8 201.6L187.0 201.1L190.2 200.5L193.5 199.9L196.8 199.5L200.0 199.3M200.0 187.7L202.2 187.9L204.5 188.5L206.8 189.3L209.0 190.2L211.2 190.9L213.5 191.4L215.8 191.6L218.0 191.7L220.2 191.6L222.5 191.6"/><path d="M52.5 199.3L54.7 199.0L57.0 198.3L59.2 197.0L61.4 195.1L63.6 192.9L65.9 190.4L68.1 187.9L70.3 185.8L72.6 184.4L74.8 183.9L77.1 183.8L79.3 183.5L81.6 183.1L83.8 182.8L86.1 182.7L88.4 182.8L90.6 183.1L92.9 183.5L95.1 183.8L97.4 183.9L100.5 184.2L103.6 185.2L106.7 186.7L109.8 188.7L112.9 191.1L115.9 193.7L119.0 196.1L122.1 198.1L125.2 199.4L128.3 199.9L132.2 200.3L136.1 201.4L140.1 203.2L144.0 205.3L147.9 207.4L151.8 209.5L155.7 211.2L159.7 212.5L163.6 213.3L167.5 213.6L170.8 212.8L174.0 210.6L177.2 207.5L180.5 203.8L183.8 200.2L187.0 197.0L190.2 194.5L193.5 192.9L196.8 191.9L200.0 191.6M200.0 205.1L202.2 205.1L204.5 205.3L206.8 205.5L209.0 205.9L211.2 206.4L213.5 207.0L215.8 207.6L218.0 208.1L220.2 208.5L222.5 208.6"/><path d="M52.5 181.9L54.7 182.8L57.0 185.1L59.2 188.7L61.4 193.1L63.6 198.0L65.9 202.7L68.1 206.8L70.3 210.1L72.6 212.1L74.8 212.8L77.1 212.7L79.3 212.3L81.6 211.7L83.8 210.8L86.1 209.7L88.4 208.4L90.6 207.2L92.9 206.1L95.1 205.3L97.4 205.1L100.5 205.1L103.6 205.1L106.7 205.1L109.8 205.0L112.9 204.8L115.9 204.6L119.0 204.3L122.1 204.1L125.2 203.9L128.3 203.9L132.2 203.7L136.1 203.3L140.1 202.7L144.0 201.9L147.9 200.9L151.8 199.9L155.7 198.9L159.7 198.1L163.6 197.6L167.5 197.4L170.8 196.5L174.0 194.0L177.2 190.0L180.5 185.0L183.8 179.3L187.0 173.6L190.2 168.5L193.5 164.3L196.8 161.7L200.0 160.7M200.0 214.7L202.2 213.9L204.5 211.4L206.8 207.8L209.0 203.5L211.2 199.0L213.5 194.9L215.8 191.5L218.0 188.9L220.2 187.4L222.5 186.9"/><path d="M52.5 176.2L54.7 176.7L57.0 178.2L59.2 180.7L61.4 183.8L63.6 187.4L65.9 191.0L68.1 194.3L70.3 197.0L72.6 198.7L74.8 199.3L77.1 198.5L79.3 196.4L81.6 193.3L83.8 189.8L86.1 186.2L88.4 183.2L90.6 180.9L92.9 179.3L95.1 178.4L97.4 178.1L100.5 178.0L103.6 177.6L106.7 176.8L109.8 175.6L112.9 174.0L115.9 172.0L119.0 170.0L122.1 168.2L125.2 167.0L128.3 166.5L132.2 166.2L136.1 165.2L140.1 163.6L144.0 161.7L147.9 159.6L151.8 157.6L155.7 155.8L159.7 154.4L163.6 153.5L167.5 153.2L170.8 154.2L174.0 156.9L177.2 160.9L180.5 165.8L183.8 170.7L187.0 175.2L190.2 179.0L193.5 181.7L196.8 183.3L200.0 183.9M200.0 191.6L202.2 191.1L204.5 189.9L206.8 187.8L209.0 185.2L211.2 182.2L213.5 179.1L215.8 176.3L218.0 174.0L220.2 172.5L222.5 171.9"/><path d="M52.5 162.7L54.7 163.0L57.0 164.0L59.2 165.5L61.4 167.4L63.6 169.4L65.9 171.5L68.1 173.4L70.3 174.9L72.6 175.8L74.8 176.2L77.1 176.4L79.3 177.1L81.6 178.3L83.8 179.8L86.1 181.5L88.4 183.4L90.6 185.1L92.9 186.5L95.1 187.4L97.4 187.7L100.5 187.0L103.6 185.0L106.7 181.9L109.8 178.1L112.9 173.9L115.9 169.8L119.0 166.1L122.1 163.2L125.2 161.4L128.3 160.7L132.2 160.5L136.1 160.0L140.1 159.1L144.0 158.0L147.9 156.8L151.8 155.6L155.7 154.6L159.7 153.9L163.6 153.4L167.5 153.2L170.8 153.8L174.0 155.3L177.2 157.8L180.5 161.0L183.8 164.5L187.0 168.1L190.2 171.3L193.5 173.9L196.8 175.6L200.0 176.2M200.0 178.1L202.2 177.7L204.5 176.5L206.8 174.8L209.0 172.7L211.2 170.6L213.5 168.8L215.8 167.2L218.0 166.1L220.2 165.5L222.5 165.2"/><path d="M52.5 171.5L54.7 171.3L57.0 170.7L59.2 169.9L61.4 169.0L63.6 168.1L65.9 167.4L68.1 167.0L70.3 166.7L72.6 166.6L74.8 166.5L77.1 166.5L79.3 166.3L81.6 166.2L83.8 166.0L86.1 166.0L88.4 166.0L90.6 166.2L92.9 166.3L95.1 166.5L97.4 166.5L100.5 166.2L103.6 165.4L106.7 164.0L109.8 162.1L112.9 159.8L115.9 157.3L119.0 154.9L122.1 152.9L125.2 151.6L128.3 151.1L132.2 152.5L136.1 156.6L140.1 162.9L144.0 170.4L147.9 178.4L151.8 186.0L155.7 192.5L159.7 197.5L163.6 200.6L167.5 201.6L170.8 200.7L174.0 198.1L177.2 194.1L180.5 189.1L183.8 183.7L187.0 178.3L190.2 173.5L193.5 169.7L196.8 167.3L200.0 166.5M200.0 164.6L202.2 164.7L204.5 164.9L206.8 165.0L209.0 165.0L211.2 164.6L213.5 163.9L215.8 162.9L218.0 162.0L220.2 161.3L222.5 161.1"/><path d="M52.5 141.8L54.7 141.9L57.0 142.2L59.2 142.8L61.4 143.9L63.6 145.5L65.9 147.6L68.1 149.9L70.3 152.0L72.6 153.5L74.8 154.0L77.1 155.0L79.3 157.7L81.6 162.0L83.8 167.4L86.1 173.3L88.4 179.0L90.6 184.1L92.9 188.2L95.1 190.7L97.4 191.6L100.5 191.3L103.6 190.4L106.7 189.1L109.8 187.3L112.9 185.2L115.9 183.1L119.0 181.1L122.1 179.5L125.2 178.5L128.3 178.1L132.2 178.5L136.1 179.6L140.1 181.5L144.0 184.2L147.9 187.7L151.8 191.5L155.7 195.3L159.7 198.6L163.6 200.8L167.5 201.6L170.8 200.3L174.0 196.5L177.2 190.7L180.5 183.5L183.8 175.6L187.0 167.9L190.2 161.0L193.5 155.7L196.8 152.3L200.0 151.1M200.0 170.4L202.2 170.3L204.5 170.0L206.8 169.5L209.0 168.9L211.2 168.1L213.5 167.2L215.8 166.3L218.0 165.6L220.2 165.1L222.5 165.0"/><path d="M52.5 166.5L54.7 166.1L57.0 164.8L59.2 162.9L61.4 160.7L63.6 158.5L65.9 156.6L68.1 155.1L70.3 154.2L72.6 153.6L74.8 153.4L77.1 154.9L79.3 159.0L81.6 165.5L83.8 173.6L86.1 182.5L88.4 191.4L90.6 199.3L92.9 205.5L95.1 209.5L97.4 210.9L100.5 209.7L103.6 206.1L106.7 200.6L109.8 193.5L112.9 185.5L115.9 177.4L119.0 170.0L122.1 164.0L125.2 160.1L128.3 158.8L132.2 158.6L136.1 157.8L140.1 156.8L144.0 155.7L147.9 154.7L151.8 154.0L155.7 153.5L159.7 153.3L163.6 153.2L167.5 153.2L170.8 153.9L174.0 155.8L177.2 158.8L180.5 162.6L183.8 166.8L187.0 170.9L190.2 174.6L193.5 177.5L196.8 179.4L200.0 180.0M200.0 183.9L202.2 183.9L204.5 183.9L206.8 184.0L209.0 184.3L211.2 184.9L213.5 185.7L215.8 186.7L218.0 187.6L220.2 188.3L222.5 188.6"/><path d="M52.5 147.2L54.7 147.6L57.0 148.6L59.2 150.1L61.4 152.0L63.6 154.1L65.9 156.2L68.1 158.0L70.3 159.5L72.6 160.4L74.8 160.7L77.1 161.0L79.3 161.9L81.6 163.1L83.8 164.6L86.1 166.2L88.4 167.6L90.6 168.8L92.9 169.7L95.1 170.2L97.4 170.4L100.5 170.4L103.6 170.3L106.7 170.3L109.8 170.4L112.9 170.5L115.9 170.7L119.0 171.0L122.1 171.3L125.2 171.5L128.3 171.5L132.2 172.3L136.1 174.5L140.1 177.9L144.0 181.9L147.9 186.2L151.8 190.2L155.7 193.7L159.7 196.3L163.6 197.9L167.5 198.5L170.8 197.5L174.0 194.5L177.2 190.0L180.5 184.2L183.8 177.9L187.0 171.7L190.2 166.1L193.5 161.6L196.8 158.8L200.0 157.8M200.0 153.0L202.2 153.4L204.5 154.6L206.8 156.5L209.0 159.0L211.2 162.1L213.5 165.3L215.8 168.5L218.0 171.1L220.2 172.9L222.5 173.5"/><path d="M52.5 158.8L54.7 158.9L57.0 159.0L59.2 159.0L61.4 158.7L63.6 158.0L65.9 156.9L68.1 155.6L70.3 154.3L72.6 153.4L74.8 153.0L77.1 153.1L79.3 153.3L81.6 153.7L83.8 154.2L86.1 154.8L88.4 155.4L90.6 156.0L92.9 156.5L95.1 156.8L97.4 156.9L100.5 156.9L103.6 156.9L106.7 156.6L109.8 155.9L112.9 154.6L115.9 152.9L119.0 150.9L122.1 149.1L125.2 147.7L128.3 147.2L132.2 147.6L136.1 148.5L140.1 149.9L144.0 151.6L147.9 153.6L151.8 155.6L155.7 157.4L159.7 158.9L163.6 159.8L167.5 160.2L170.8 160.6L174.0 161.8L177.2 163.6L180.5 165.7L183.8 167.8L187.0 169.7L190.2 171.3L193.5 172.4L196.8 173.1L200.0 173.3M200.0 155.0L202.2 154.9L204.5 154.7L206.8 154.5L209.0 154.4L211.2 154.5L213.5 154.8L215.8 155.3L218.0 155.8L220.2 156.2L222.5 156.3"/><path d="M52.5 150.1L54.7 151.7L57.0 156.3L59.2 163.2L61.4 171.5L63.6 180.3L65.9 188.5L68.1 195.5L70.3 200.8L72.6 204.0L74.8 205.1L77.1 203.9L79.3 200.5L81.6 195.2L83.8 188.7L86.1 181.8L88.4 175.0L90.6 169.1L92.9 164.6L95.1 161.7L97.4 160.7L100.5 160.4L103.6 159.2L106.7 157.4L109.8 154.9L112.9 152.0L115.9 149.0L119.0 146.0L122.1 143.6L125.2 142.0L128.3 141.5L132.2 141.9L136.1 143.2L140.1 145.1L144.0 147.2L147.9 149.2L151.8 150.8L155.7 152.0L159.7 152.7L163.6 153.1L167.5 153.2L170.8 153.3L174.0 153.4L177.2 153.6L180.5 153.8L183.8 153.8L187.0 153.7L190.2 153.5L193.5 153.3L196.8 153.1L200.0 153.0M200.0 157.8L202.2 158.3L204.5 159.5L206.8 161.4L209.0 163.7L211.2 166.2L213.5 168.7L215.8 170.8L218.0 172.4L220.2 173.5L222.5 173.8"/><path d="M52.5 141.5L54.7 141.8L57.0 142.7L59.2 144.1L61.4 146.0L63.6 148.1L65.9 150.2L68.1 152.1L70.3 153.6L72.6 154.6L74.8 155.0L77.1 154.9L79.3 154.9L81.6 155.0L83.8 155.2L86.1 155.5L88.4 156.1L90.6 156.7L92.9 157.3L95.1 157.7L97.4 157.8L100.5 157.4L103.6 156.1L106.7 154.1L109.8 151.7L112.9 149.1L115.9 146.7L119.0 144.7L122.1 143.1L125.2 142.2L128.3 141.8L132.2 142.3L136.1 143.5L140.1 145.5L144.0 148.1L147.9 151.0L151.8 153.9L155.7 156.5L159.7 158.7L163.6 160.1L167.5 160.5L170.8 160.2L174.0 159.2L177.2 157.5L180.5 155.2L183.8 152.6L187.0 149.9L190.2 147.3L193.5 145.1L196.8 143.7L200.0 143.2M200.0 151.1L202.2 151.6L204.5 153.1L206.8 155.5L209.0 158.6L211.2 162.2L213.5 166.0L215.8 169.5L218.0 172.4L220.2 174.3L222.5 175.0"/></g><clipPath id="cb1"><rect x="463.5" y="10.0" width="172.0" height="242.3"/></clipPath><g clip-path="url(#cb1)" fill="none" stroke="#c0c0c0" stroke-width="1.15"><path d="M463.5 76.3L465.9 76.2L468.2 76.2L470.6 76.1L472.9 76.0L475.2 75.8L477.6 75.6L479.9 75.3L482.3 75.1L484.6 75.0L487.0 74.9L489.3 74.3L491.6 72.7L494.0 70.3L496.3 67.4L498.6 64.3L500.9 61.5L503.2 59.2L505.6 57.4L507.9 56.4L510.2 56.0L513.4 56.2L516.6 56.8L519.7 58.0L522.9 60.0L526.1 62.8L529.3 66.3L532.5 69.9L535.6 73.2L538.8 75.4L542.0 76.3L545.9 75.5L549.8 73.2L553.6 69.8L557.5 65.7L561.4 61.4L565.3 57.4L569.2 53.9L573.0 51.3L576.9 49.7L580.8 49.1L584.0 49.7L587.2 51.6L590.4 54.4L593.6 57.9L596.8 61.9L600.1 65.8L603.3 69.3L606.5 72.0L609.7 73.8L612.9 74.4M612.9 60.8L615.2 60.5L617.4 59.6L619.7 58.3L621.9 56.7L624.2 54.9L626.5 53.2L628.7 51.7L631.0 50.6L633.2 49.9L635.5 49.6"/><path d="M463.5 75.1L465.9 74.7L468.2 73.8L470.6 72.3L472.9 70.4L475.2 68.2L477.6 66.0L479.9 63.9L482.3 62.2L484.6 61.1L487.0 60.7L489.3 60.6L491.6 60.2L494.0 59.7L496.3 59.1L498.6 58.6L500.9 58.3L503.2 58.0L505.6 57.9L507.9 57.9L510.2 57.9L513.4 58.4L516.6 60.1L519.7 62.6L522.9 65.5L526.1 68.5L529.3 71.3L532.5 73.6L535.6 75.2L538.8 76.2L542.0 76.6L545.9 75.9L549.8 74.0L553.6 71.1L557.5 67.5L561.4 63.6L565.3 59.7L569.2 56.4L573.0 53.7L576.9 52.1L580.8 51.5L584.0 51.7L587.2 52.3L590.4 53.3L593.6 54.6L596.8 56.3L600.1 58.0L603.3 59.8L606.5 61.2L609.7 62.2L612.9 62.6M612.9 58.7L615.2 58.4L617.4 57.5L619.7 56.1L621.9 54.7L624.2 53.4L626.5 52.4L628.7 51.7L631.0 51.4L633.2 51.2L635.5 51.2"/><path d="M463.5 74.3L465.9 74.0L468.2 73.3L470.6 72.1L472.9 70.5L475.2 68.4L477.6 66.0L479.9 63.7L482.3 61.8L484.6 60.4L487.0 60.0L489.3 59.9L491.6 59.6L494.0 59.3L496.3 59.0L498.6 58.8L500.9 58.7L503.2 58.8L505.6 58.9L507.9 59.0L510.2 59.1L513.4 59.4L516.6 60.5L519.7 62.3L522.9 64.5L526.1 67.1L529.3 69.8L532.5 72.3L535.6 74.4L538.8 75.7L542.0 76.2L545.9 75.7L549.8 74.1L553.6 71.5L557.5 68.1L561.4 64.1L565.3 59.9L569.2 55.9L573.0 52.6L576.9 50.4L580.8 49.6L584.0 50.2L587.2 51.6L590.4 53.6L593.6 55.6L596.8 57.4L600.1 58.5L603.3 59.0L606.5 59.1L609.7 59.0L612.9 58.9M612.9 50.2L615.2 50.3L617.4 50.4L619.7 50.6L621.9 50.7L624.2 50.6L626.5 50.4L628.7 50.1L631.0 49.8L633.2 49.5L635.5 49.4"/><path d="M463.5 70.4L465.9 70.0L468.2 68.9L470.6 67.4L472.9 65.6L475.2 63.9L477.6 62.5L479.9 61.5L482.3 60.8L484.6 60.5L487.0 60.4L489.3 60.1L491.6 59.1L494.0 57.6L496.3 55.6L498.6 53.4L500.9 51.0L503.2 48.9L505.6 47.1L507.9 46.0L510.2 45.6L513.4 45.9L516.6 47.1L519.7 49.1L522.9 52.2L526.1 56.4L529.3 61.2L532.5 66.1L535.6 70.5L538.8 73.5L542.0 74.5L545.9 73.8L549.8 71.8L553.6 68.8L557.5 65.1L561.4 61.2L565.3 57.5L569.2 54.3L573.0 51.9L576.9 50.4L580.8 49.9L584.0 50.2L587.2 51.2L590.4 52.6L593.6 54.3L596.8 55.9L600.1 57.3L603.3 58.4L606.5 59.2L609.7 59.6L612.9 59.8M612.9 47.4L615.2 47.3L617.4 47.2L619.7 47.0L621.9 46.7L624.2 46.4L626.5 46.1L628.7 45.8L631.0 45.5L633.2 45.3L635.5 45.3"/><path d="M463.5 42.2L465.9 42.5L468.2 43.4L470.6 44.9L472.9 46.8L475.2 49.2L477.6 51.7L479.9 54.0L482.3 56.0L484.6 57.3L487.0 57.7L489.3 57.7L491.6 57.4L494.0 57.1L496.3 56.8L498.6 56.7L500.9 56.7L503.2 56.8L505.6 57.0L507.9 57.2L510.2 57.2L513.4 56.9L516.6 55.9L519.7 54.3L522.9 52.2L526.1 49.9L529.3 47.5L532.5 45.2L535.6 43.5L538.8 42.3L542.0 41.9L545.9 42.0L549.8 42.2L553.6 42.6L557.5 43.3L561.4 44.1L565.3 45.2L569.2 46.2L573.0 47.1L576.9 47.8L580.8 48.0L584.0 47.3L587.2 45.5L590.4 43.1L593.6 40.7L596.8 38.9L600.1 38.0L603.3 38.0L606.5 38.5L609.7 39.1L612.9 39.3M612.9 36.7L615.2 36.9L617.4 37.5L619.7 38.4L621.9 39.9L624.2 41.8L626.5 43.9L628.7 46.1L631.0 48.0L633.2 49.3L635.5 49.8"/><path d="M463.5 39.6L465.9 39.6L468.2 39.6L470.6 39.6L472.9 39.7L475.2 39.8L477.6 40.0L479.9 40.2L482.3 40.4L484.6 40.5L487.0 40.6L489.3 40.5L491.6 40.2L494.0 39.7L496.3 39.0L498.6 38.2L500.9 37.1L503.2 36.1L505.6 35.2L507.9 34.6L510.2 34.4L513.4 34.8L516.6 35.9L519.7 37.4L522.9 39.0L526.1 40.2L529.3 40.9L532.5 41.0L535.6 40.9L538.8 40.6L542.0 40.5L545.9 40.7L549.8 41.3L553.6 42.4L557.5 43.7L561.4 45.3L565.3 46.9L569.2 48.4L573.0 49.7L576.9 50.5L580.8 50.8L584.0 50.5L587.2 49.6L590.4 48.3L593.6 46.5L596.8 44.5L600.1 42.3L603.3 40.2L606.5 38.5L609.7 37.4L612.9 37.0M612.9 37.0L615.2 37.3L617.4 38.1L619.7 39.3L621.9 40.8L624.2 42.5L626.5 44.1L628.7 45.6L631.0 46.8L633.2 47.6L635.5 47.8"/><path d="M463.5 39.6L465.9 39.6L468.2 39.8L470.6 39.9L472.9 40.0L475.2 40.0L477.6 39.8L479.9 39.5L482.3 39.2L484.6 38.9L487.0 38.8L489.3 38.6L491.6 38.2L494.0 37.5L496.3 36.9L498.6 36.4L500.9 36.2L503.2 36.3L505.6 36.4L507.9 36.6L510.2 36.7L513.4 36.6L516.6 36.3L519.7 36.1L522.9 36.0L526.1 36.2L529.3 36.8L532.5 37.6L535.6 38.5L538.8 39.1L542.0 39.3L545.9 39.7L549.8 40.7L553.6 42.2L557.5 43.9L561.4 45.6L565.3 47.1L569.2 48.3L573.0 49.2L576.9 49.7L580.8 49.8L584.0 49.6L587.2 49.0L590.4 47.8L593.6 46.1L596.8 43.8L600.1 41.1L603.3 38.3L606.5 35.8L609.7 34.1L612.9 33.5M612.9 48.4L615.2 48.4L617.4 48.2L619.7 48.1L621.9 47.9L624.2 47.9L626.5 48.0L628.7 48.1L631.0 48.3L633.2 48.5L635.5 48.5"/><path d="M463.5 34.9L465.9 34.7L468.2 34.3L470.6 33.8L472.9 33.5L475.2 33.6L477.6 34.1L479.9 35.0L482.3 35.9L484.6 36.6L487.0 36.8L489.3 36.9L491.6 37.3L494.0 37.8L496.3 38.6L498.6 39.6L500.9 40.7L503.2 41.8L505.6 42.8L507.9 43.5L510.2 43.7L513.4 43.3L516.6 42.3L519.7 40.8L522.9 39.0L526.1 37.1L529.3 35.4L532.5 34.0L535.6 33.0L538.8 32.4L542.0 32.2L545.9 32.8L549.8 34.6L553.6 37.3L557.5 40.3L561.4 43.3L565.3 45.9L569.2 47.8L573.0 49.1L576.9 49.9L580.8 50.1L584.0 49.6L587.2 48.2L590.4 45.9L593.6 42.8L596.8 39.3L600.1 35.6L603.3 32.2L606.5 29.4L609.7 27.5L612.9 26.9M612.9 53.3L615.2 53.1L617.4 52.4L619.7 51.5L621.9 50.4L624.2 49.5L626.5 48.7L628.7 48.1L631.0 47.8L633.2 47.7L635.5 47.6"/><path d="M463.5 29.0L465.9 29.1L468.2 29.3L470.6 29.6L472.9 30.2L475.2 30.9L477.6 31.7L479.9 32.6L482.3 33.4L484.6 33.9L487.0 34.1L489.3 34.1L491.6 34.4L494.0 34.7L496.3 35.2L498.6 35.7L500.9 36.2L503.2 36.7L505.6 37.0L507.9 37.3L510.2 37.4L513.4 37.1L516.6 36.3L519.7 35.2L522.9 34.0L526.1 32.7L529.3 31.7L532.5 30.9L535.6 30.4L538.8 30.1L542.0 30.0L545.9 30.4L549.8 31.4L553.6 33.0L557.5 35.2L561.4 38.0L565.3 41.0L569.2 44.0L573.0 46.5L576.9 48.2L580.8 48.8L584.0 48.6L587.2 48.0L590.4 47.1L593.6 46.1L596.8 44.9L600.1 43.8L603.3 42.8L606.5 42.1L609.7 41.6L612.9 41.4M612.9 37.4L615.2 37.7L617.4 38.7L619.7 40.2L621.9 41.9L624.2 43.5L626.5 45.0L628.7 46.1L631.0 46.9L633.2 47.4L635.5 47.5"/><path d="M463.5 28.7L465.9 29.2L468.2 30.3L470.6 31.9L472.9 33.7L475.2 35.2L477.6 36.3L479.9 37.0L482.3 37.3L484.6 37.3L487.0 37.3L489.3 36.9L491.6 35.6L494.0 33.7L496.3 31.3L498.6 28.7L500.9 26.1L503.2 23.9L505.6 22.2L507.9 21.1L510.2 20.7L513.4 20.9L516.6 21.3L519.7 21.8L522.9 22.5L526.1 23.3L529.3 24.0L532.5 24.6L535.6 25.0L538.8 25.3L542.0 25.4L545.9 26.1L549.8 28.0L553.6 30.9L557.5 34.6L561.4 38.6L565.3 42.6L569.2 46.2L573.0 49.0L576.9 50.8L580.8 51.4L584.0 51.4L587.2 51.4L590.4 51.7L593.6 52.3L596.8 53.2L600.1 54.6L603.3 56.0L606.5 57.4L609.7 58.4L612.9 58.7M612.9 58.2L615.2 58.0L617.4 57.6L619.7 56.9L621.9 55.8L624.2 54.5L626.5 52.9L628.7 51.4L631.0 50.0L633.2 49.1L635.5 48.8"/><path d="M463.5 25.8L465.9 25.7L468.2 25.3L470.6 24.7L472.9 23.9L475.2 22.9L477.6 21.9L479.9 20.9L482.3 20.0L484.6 19.5L487.0 19.3L489.3 19.3L491.6 19.2L494.0 19.3L496.3 19.5L498.6 19.9L500.9 20.5L503.2 21.3L505.6 22.0L507.9 22.5L510.2 22.7L513.4 22.9L516.6 23.6L519.7 24.5L522.9 25.4L526.1 26.2L529.3 26.8L532.5 27.0L535.6 27.1L538.8 27.1L542.0 27.1L545.9 27.9L549.8 30.2L553.6 33.6L557.5 37.4L561.4 41.0L565.3 43.9L569.2 46.0L573.0 47.3L576.9 48.0L580.8 48.2L584.0 48.0L587.2 47.5L590.4 46.6L593.6 45.3L596.8 43.7L600.1 42.0L603.3 40.3L606.5 38.9L609.7 37.9L612.9 37.6M612.9 20.1L615.2 20.7L617.4 22.5L619.7 25.3L621.9 29.2L624.2 33.7L626.5 38.4L628.7 42.9L631.0 46.6L633.2 49.0L635.5 49.9"/><path d="M463.5 13.9L465.9 13.8L468.2 13.8L470.6 13.6L472.9 13.3L475.2 12.7L477.6 12.0L479.9 11.3L482.3 10.5L484.6 10.0L487.0 9.8L489.3 9.8L491.6 9.8L494.0 9.6L496.3 9.4L498.6 9.1L500.9 8.7L503.2 8.4L505.6 8.0L507.9 7.8L510.2 7.7L513.4 8.1L516.6 9.0L519.7 10.3L522.9 11.5L526.1 12.3L529.3 12.5L532.5 12.3L535.6 11.7L538.8 11.3L542.0 11.1L545.9 10.7L549.8 9.6L553.6 8.1L557.5 6.4L561.4 4.9L565.3 3.7L569.2 3.0L573.0 2.7L576.9 2.6L580.8 2.5L584.0 3.2L587.2 5.1L590.4 7.9L593.6 11.0L596.8 14.0L600.1 16.4L603.3 18.1L606.5 19.2L609.7 19.8L612.9 20.0M612.9 10.3L615.2 10.3L617.4 10.2L619.7 9.9L621.9 9.5L624.2 8.9L626.5 8.0L628.7 7.1L631.0 6.2L633.2 5.6L635.5 5.4"/><path d="M463.5 -1.7L465.9 -1.1L468.2 0.5L470.6 3.1L472.9 6.4L475.2 9.9L477.6 13.4L479.9 16.5L482.3 18.9L484.6 20.5L487.0 21.0L489.3 20.2L491.6 17.8L494.0 14.4L496.3 10.6L498.6 6.9L500.9 3.8L503.2 1.5L505.6 0.0L507.9 -0.8L510.2 -1.0L513.4 -1.0L516.6 -1.0L519.7 -0.9L522.9 -0.7L526.1 -0.5L529.3 -0.2L532.5 0.0L535.6 0.3L538.8 0.4L542.0 0.5L545.9 0.6L549.8 1.0L553.6 1.4L557.5 1.8L561.4 2.0L565.3 2.0L569.2 1.8L573.0 1.6L576.9 1.4L580.8 1.3L584.0 1.7L587.2 2.7L590.4 4.2L593.6 5.8L596.8 7.1L600.1 8.0L603.3 8.4L606.5 8.4L609.7 8.3L612.9 8.3M612.9 -0.5L615.2 -0.4L617.4 -0.2L619.7 0.2L621.9 0.6L624.2 0.9L626.5 1.2L628.7 1.4L631.0 1.4L633.2 1.5L635.5 1.5"/><path d="M463.5 17.3L465.9 17.1L468.2 16.4L470.6 15.2L472.9 13.4L475.2 11.1L477.6 8.4L479.9 5.6L482.3 3.3L484.6 1.6L487.0 1.1L489.3 1.4L491.6 2.3L494.0 3.6L496.3 5.1L498.6 6.7L500.9 8.1L503.2 9.1L505.6 9.9L507.9 10.3L510.2 10.5L513.4 10.6L516.6 11.1L519.7 11.9L522.9 12.9L526.1 14.0L529.3 15.1L532.5 16.2L535.6 17.0L538.8 17.6L542.0 17.8L545.9 17.0L549.8 14.8L553.6 11.6L557.5 7.7L561.4 3.9L565.3 0.4L569.2 -2.5L573.0 -4.5L576.9 -5.7L580.8 -6.1L584.0 -5.9L587.2 -5.1L590.4 -4.2L593.6 -3.2L596.8 -2.4L600.1 -1.9L603.3 -1.8L606.5 -1.8L609.7 -2.0L612.9 -2.0M612.9 4.9L615.2 4.5L617.4 3.3L619.7 1.7L621.9 -0.0L624.2 -1.6L626.5 -2.7L628.7 -3.3L631.0 -3.6L633.2 -3.6L635.5 -3.6"/><path d="M463.5 41.9L465.9 42.1L468.2 42.5L470.6 42.9L472.9 43.0L475.2 42.6L477.6 41.6L479.9 40.2L482.3 38.7L484.6 37.7L487.0 37.3L489.3 37.2L491.6 37.0L494.0 37.0L496.3 37.4L498.6 38.4L500.9 40.0L503.2 41.9L505.6 43.8L507.9 45.2L510.2 45.7L513.4 45.5L516.6 44.9L519.7 43.8L522.9 42.4L526.1 40.6L529.3 38.7L532.5 36.7L535.6 35.1L538.8 34.0L542.0 33.6L545.9 34.1L549.8 35.3L553.6 37.2L557.5 39.5L561.4 42.0L565.3 44.4L569.2 46.4L573.0 48.0L576.9 49.0L580.8 49.3L584.0 49.1L587.2 48.4L590.4 47.2L593.6 45.6L596.8 43.8L600.1 41.7L603.3 39.8L606.5 38.2L609.7 37.2L612.9 36.8M612.9 56.2L615.2 56.0L617.4 55.4L619.7 54.6L621.9 53.6L624.2 52.6L626.5 51.6L628.7 50.9L631.0 50.3L633.2 49.9L635.5 49.8"/><path d="M463.5 42.5L465.9 42.8L468.2 43.8L470.6 45.4L472.9 47.3L475.2 49.5L477.6 51.6L479.9 53.5L482.3 55.1L484.6 56.1L487.0 56.4L489.3 55.9L491.6 54.6L494.0 52.5L496.3 49.8L498.6 46.7L500.9 43.5L503.2 40.5L505.6 38.1L507.9 36.5L510.2 36.0L513.4 36.3L516.6 37.0L519.7 38.0L522.9 39.2L526.1 40.4L529.3 41.3L532.5 42.0L535.6 42.4L538.8 42.6L542.0 42.7L545.9 42.9L549.8 43.7L553.6 44.8L557.5 46.2L561.4 47.5L565.3 48.7L569.2 49.6L573.0 50.2L576.9 50.6L580.8 50.7L584.0 50.1L587.2 48.5L590.4 45.9L593.6 42.7L596.8 39.1L600.1 35.6L603.3 32.4L606.5 29.9L609.7 28.3L612.9 27.8M612.9 31.1L615.2 31.6L617.4 33.1L619.7 35.2L621.9 37.9L624.2 40.7L626.5 43.3L628.7 45.5L631.0 47.2L633.2 48.3L635.5 48.6"/><path d="M463.5 13.8L465.9 13.8L468.2 13.9L470.6 13.9L472.9 13.8L475.2 13.5L477.6 13.0L479.9 12.4L482.3 11.8L484.6 11.4L487.0 11.2L489.3 11.5L491.6 12.1L494.0 12.9L496.3 13.6L498.6 14.0L500.9 13.9L503.2 13.5L505.6 12.9L507.9 12.5L510.2 12.3L513.4 12.4L516.6 12.7L519.7 13.3L522.9 14.0L526.1 14.8L529.3 15.6L532.5 16.4L535.6 17.0L538.8 17.4L542.0 17.5L545.9 17.0L549.8 15.7L553.6 13.6L557.5 11.1L561.4 8.5L565.3 6.0L569.2 3.9L573.0 2.3L576.9 1.4L580.8 1.0L584.0 1.3L587.2 2.1L590.4 3.1L593.6 4.2L596.8 5.1L600.1 5.7L603.3 6.0L606.5 6.1L609.7 6.1L612.9 6.0M612.9 -2.1L615.2 -2.3L617.4 -2.9L619.7 -3.8L621.9 -4.7L624.2 -5.3L626.5 -5.7L628.7 -5.8L631.0 -5.6L633.2 -5.5L635.5 -5.4"/><path d="M463.5 10.3L465.9 9.9L468.2 8.5L470.6 6.3L472.9 3.6L475.2 0.5L477.6 -2.5L479.9 -5.2L482.3 -7.4L484.6 -8.8L487.0 -9.3L489.3 -8.8L491.6 -7.4L494.0 -5.2L496.3 -2.5L498.6 0.7L500.9 3.8L503.2 6.7L505.6 9.0L507.9 10.5L510.2 11.0L513.4 11.5L516.6 12.8L519.7 14.6L522.9 16.5L526.1 18.1L529.3 19.3L532.5 19.9L535.6 20.0L538.8 20.0L542.0 20.0L545.9 19.5L549.8 18.3L553.6 16.4L557.5 14.3L561.4 12.0L565.3 9.9L569.2 8.3L573.0 7.0L576.9 6.3L580.8 6.0L584.0 5.7L587.2 4.6L590.4 3.2L593.6 1.7L596.8 0.3L600.1 -0.6L603.3 -1.1L606.5 -1.3L609.7 -1.3L612.9 -1.3M612.9 -3.0L615.2 -3.3L617.4 -4.3L619.7 -5.5L621.9 -6.6L624.2 -7.2L626.5 -7.3L628.7 -6.8L631.0 -6.1L633.2 -5.5L635.5 -5.2"/><path d="M463.5 43.4L465.9 43.6L468.2 44.1L470.6 45.0L472.9 45.9L475.2 46.7L477.6 47.3L479.9 47.8L482.3 48.0L484.6 48.2L487.0 48.2L489.3 48.4L491.6 49.0L494.0 49.9L496.3 51.0L498.6 52.2L500.9 53.5L503.2 54.6L505.6 55.4L507.9 56.0L510.2 56.2L513.4 55.4L516.6 53.2L519.7 49.8L522.9 45.8L526.1 41.5L529.3 37.5L532.5 34.0L535.6 31.4L538.8 29.8L542.0 29.3L545.9 29.7L549.8 31.0L553.6 33.1L557.5 35.9L561.4 39.1L565.3 42.5L569.2 45.7L573.0 48.4L576.9 50.1L580.8 50.7L584.0 50.5L587.2 49.8L590.4 48.7L593.6 47.2L596.8 45.4L600.1 43.3L603.3 41.3L606.5 39.6L609.7 38.5L612.9 38.1M612.9 43.1L615.2 43.2L617.4 43.6L619.7 44.2L621.9 44.9L624.2 45.8L626.5 46.7L628.7 47.5L631.0 48.2L633.2 48.6L635.5 48.8"/><path d="M463.5 35.6L465.9 35.3L468.2 34.3L470.6 32.8L472.9 31.2L475.2 29.7L477.6 28.5L479.9 27.7L482.3 27.2L484.6 27.0L487.0 27.0L489.3 26.7L491.6 26.0L494.0 25.0L496.3 23.9L498.6 22.8L500.9 21.9L503.2 21.2L505.6 20.8L507.9 20.5L510.2 20.5L513.4 20.6L516.6 21.1L519.7 21.8L522.9 22.6L526.1 23.5L529.3 24.5L532.5 25.3L535.6 26.0L538.8 26.4L542.0 26.5L545.9 27.0L549.8 28.2L553.6 30.3L557.5 33.2L561.4 36.8L565.3 40.6L569.2 44.3L573.0 47.5L576.9 49.6L580.8 50.4L584.0 50.6L587.2 51.3L590.4 52.1L593.6 52.9L596.8 53.3L600.1 53.3L603.3 52.9L606.5 52.3L609.7 51.8L612.9 51.6M612.9 52.2L615.2 52.0L617.4 51.4L619.7 50.5L621.9 49.6L624.2 48.7L626.5 47.9L628.7 47.3L631.0 46.9L633.2 46.7L635.5 46.6"/><path d="M463.5 24.2L465.9 23.9L468.2 22.7L470.6 20.9L472.9 18.4L475.2 15.4L477.6 12.3L479.9 9.4L482.3 6.9L484.6 5.2L487.0 4.7L489.3 4.7L491.6 4.9L494.0 5.1L496.3 5.2L498.6 5.3L500.9 5.3L503.2 5.2L505.6 5.1L507.9 4.9L510.2 4.9L513.4 5.3L516.6 6.3L519.7 8.1L522.9 10.6L526.1 13.5L529.3 16.7L532.5 19.8L535.6 22.4L538.8 24.2L542.0 24.8L545.9 23.8L549.8 20.9L553.6 16.8L557.5 11.9L561.4 7.0L565.3 2.6L569.2 -0.9L573.0 -3.3L576.9 -4.8L580.8 -5.2L584.0 -5.3L587.2 -5.6L590.4 -6.0L593.6 -6.3L596.8 -6.5L600.1 -6.6L603.3 -6.6L606.5 -6.5L609.7 -6.4L612.9 -6.3M612.9 -2.4L615.2 -2.7L617.4 -3.6L619.7 -5.0L621.9 -6.7L624.2 -8.5L626.5 -10.3L628.7 -11.8L631.0 -13.1L633.2 -13.8L635.5 -14.1"/><path d="M463.5 6.7L465.9 6.8L468.2 7.0L470.6 7.5L472.9 8.5L475.2 10.1L477.6 12.2L479.9 14.5L482.3 16.7L484.6 18.2L487.0 18.7L489.3 17.9L491.6 15.7L494.0 12.2L496.3 8.1L498.6 3.8L500.9 -0.4L503.2 -3.9L505.6 -6.5L507.9 -8.2L510.2 -8.7L513.4 -8.4L516.6 -7.4L519.7 -6.3L522.9 -5.3L526.1 -4.8L529.3 -4.9L532.5 -5.6L535.6 -6.5L538.8 -7.3L542.0 -7.6L545.9 -7.1L549.8 -5.7L553.6 -3.6L557.5 -1.1L561.4 1.5L565.3 4.0L569.2 6.0L573.0 7.6L576.9 8.5L580.8 8.9L584.0 8.9L587.2 9.2L590.4 9.4L593.6 9.6L596.8 9.6L600.1 9.5L603.3 9.1L606.5 8.8L609.7 8.5L612.9 8.4M612.9 -3.2L615.2 -2.9L617.4 -2.3L619.7 -1.3L621.9 -0.3L624.2 0.7L626.5 1.5L628.7 2.1L631.0 2.4L633.2 2.6L635.5 2.6"/><path d="M463.5 -2.6L465.9 -2.0L468.2 -0.1L470.6 2.5L472.9 5.6L475.2 8.5L477.6 11.1L479.9 13.0L482.3 14.2L484.6 14.9L487.0 15.1L489.3 14.4L491.6 12.4L494.0 9.4L496.3 5.7L498.6 1.8L500.9 -1.9L503.2 -5.1L505.6 -7.5L507.9 -9.0L510.2 -9.5L513.4 -9.4L516.6 -9.0L519.7 -8.4L522.9 -7.6L526.1 -6.7L529.3 -5.7L532.5 -4.8L535.6 -4.0L538.8 -3.5L542.0 -3.3L545.9 -3.5L549.8 -3.8L553.6 -4.1L557.5 -4.0L561.4 -3.5L565.3 -2.4L569.2 -1.0L573.0 0.5L576.9 1.5L580.8 1.9L584.0 1.9L587.2 1.9L590.4 1.8L593.6 1.7L596.8 1.5L600.1 1.2L603.3 0.9L606.5 0.6L609.7 0.4L612.9 0.3M612.9 -5.1L615.2 -4.9L617.4 -4.5L619.7 -3.9L621.9 -3.1L624.2 -2.1L626.5 -1.0L628.7 -0.1L631.0 0.7L633.2 1.3L635.5 1.4"/><path d="M463.5 9.6L465.9 9.6L468.2 9.7L470.6 9.6L472.9 9.4L475.2 9.0L477.6 8.3L479.9 7.6L482.3 6.9L484.6 6.3L487.0 6.1L489.3 5.6L491.6 4.1L494.0 1.9L496.3 -0.6L498.6 -3.2L500.9 -5.4L503.2 -7.1L505.6 -8.3L507.9 -8.9L510.2 -9.2L513.4 -9.2L516.6 -9.1L519.7 -8.9L522.9 -8.3L526.1 -7.2L529.3 -5.8L532.5 -4.2L535.6 -2.7L538.8 -1.7L542.0 -1.3L545.9 -1.4L549.8 -1.9L553.6 -2.3L557.5 -2.5L561.4 -2.2L565.3 -1.4L569.2 -0.2L573.0 1.0L576.9 2.0L580.8 2.3L584.0 2.4L587.2 2.6L590.4 3.2L593.6 4.1L596.8 5.4L600.1 7.0L603.3 8.7L606.5 10.3L609.7 11.4L612.9 11.8M612.9 1.0L615.2 1.0L617.4 1.2L619.7 1.5L621.9 1.7L624.2 1.7L626.5 1.6L628.7 1.4L631.0 1.1L633.2 0.9L635.5 0.8"/><path d="M463.5 39.0L465.9 38.8L468.2 38.3L470.6 37.8L472.9 37.4L475.2 37.3L477.6 37.6L479.9 38.1L482.3 38.8L484.6 39.4L487.0 39.6L489.3 39.5L491.6 39.4L494.0 39.2L496.3 38.7L498.6 37.8L500.9 36.8L503.2 35.6L505.6 34.5L507.9 33.7L510.2 33.4L513.4 33.5L516.6 33.8L519.7 34.1L522.9 34.4L526.1 34.5L529.3 34.5L532.5 34.3L535.6 34.0L538.8 33.8L542.0 33.8L545.9 34.1L549.8 35.1L553.6 36.7L557.5 38.7L561.4 40.8L565.3 42.9L569.2 44.7L573.0 46.2L576.9 47.1L580.8 47.4L584.0 46.9L587.2 45.8L590.4 44.2L593.6 42.7L596.8 41.6L600.1 41.2L603.3 41.4L606.5 41.9L609.7 42.4L612.9 42.6M612.9 43.6L615.2 43.8L617.4 44.4L619.7 45.2L621.9 46.1L624.2 46.9L626.5 47.5L628.7 47.8L631.0 48.0L633.2 48.0L635.5 48.1"/><path d="M463.5 7.7L465.9 7.7L468.2 7.8L470.6 7.7L472.9 7.5L475.2 6.9L477.6 6.1L479.9 5.1L482.3 4.2L484.6 3.5L487.0 3.3L489.3 2.8L491.6 1.5L494.0 -0.5L496.3 -2.9L498.6 -5.5L500.9 -8.0L503.2 -10.3L505.6 -12.0L507.9 -13.0L510.2 -13.4L513.4 -13.2L516.6 -12.5L519.7 -11.3L522.9 -9.6L526.1 -7.3L529.3 -4.6L532.5 -1.9L535.6 0.5L538.8 2.1L542.0 2.7L545.9 2.3L549.8 1.4L553.6 -0.0L557.5 -1.6L561.4 -3.3L565.3 -4.7L569.2 -5.9L573.0 -6.7L576.9 -7.1L580.8 -7.3L584.0 -6.8L587.2 -5.4L590.4 -3.2L593.6 -0.3L596.8 3.2L600.1 6.8L603.3 10.2L606.5 13.0L609.7 14.9L612.9 15.5M612.9 2.2L615.2 2.4L617.4 2.9L619.7 3.7L621.9 4.5L624.2 5.1L626.5 5.5L628.7 5.7L631.0 5.7L633.2 5.6L635.5 5.6"/><path d="M463.5 205.0L465.9 205.0L468.2 204.9L470.6 204.8L472.9 204.7L475.2 204.5L477.6 204.4L479.9 204.2L482.3 204.1L484.6 204.1L487.0 204.0L489.3 204.0L491.6 204.1L494.0 204.2L496.3 204.3L498.6 204.4L500.9 204.5L503.2 204.6L505.6 204.6L507.9 204.7L510.2 204.7L513.4 204.7L516.6 204.8L519.7 204.8L522.9 204.9L526.1 204.9L529.3 205.0L532.5 205.1L535.6 205.1L538.8 205.1L542.0 205.2L545.9 205.2L549.8 205.2L553.6 205.2L557.5 205.2L561.4 205.3L565.3 205.3L569.2 205.3L573.0 205.4L576.9 205.4L580.8 205.4L584.0 205.4L587.2 205.3L590.4 205.1L593.6 204.9L596.8 204.7L600.1 204.5L603.3 204.3L606.5 204.1L609.7 204.0L612.9 204.0M612.9 203.8L615.2 203.8L617.4 203.9L619.7 204.1L621.9 204.3L624.2 204.6L626.5 204.8L628.7 205.1L631.0 205.2L633.2 205.4L635.5 205.4"/><path d="M463.5 205.2L465.9 205.2L468.2 205.1L470.6 205.0L472.9 204.7L475.2 204.5L477.6 204.3L479.9 204.1L482.3 203.9L484.6 203.8L487.0 203.8L489.3 203.8L491.6 203.9L494.0 204.1L496.3 204.3L498.6 204.5L500.9 204.7L503.2 204.9L505.6 205.0L507.9 205.1L510.2 205.1L513.4 205.1L516.6 205.1L519.7 205.1L522.9 205.0L526.1 204.9L529.3 204.9L532.5 204.8L535.6 204.8L538.8 204.7L542.0 204.7L545.9 204.7L549.8 204.8L553.6 204.9L557.5 204.9L561.4 205.1L565.3 205.2L569.2 205.3L573.0 205.3L576.9 205.4L580.8 205.4L584.0 205.4L587.2 205.3L590.4 205.3L593.6 205.2L596.8 205.1L600.1 205.0L603.3 204.9L606.5 204.8L609.7 204.8L612.9 204.8M612.9 204.9L615.2 204.9L617.4 204.9L619.7 205.0L621.9 205.1L624.2 205.1L626.5 205.2L628.7 205.3L631.0 205.3L633.2 205.4L635.5 205.4"/><path d="M463.5 204.6L465.9 204.6L468.2 204.7L470.6 204.8L472.9 204.9L475.2 205.1L477.6 205.2L479.9 205.4L482.3 205.5L484.6 205.6L487.0 205.6L489.3 205.6L491.6 205.6L494.0 205.5L496.3 205.4L498.6 205.4L500.9 205.3L503.2 205.2L505.6 205.2L507.9 205.1L510.2 205.1L513.4 205.1L516.6 205.0L519.7 204.9L522.9 204.7L526.1 204.6L529.3 204.4L532.5 204.2L535.6 204.1L538.8 204.0L542.0 204.0L545.9 204.0L549.8 204.1L553.6 204.3L557.5 204.5L561.4 204.7L565.3 204.9L569.2 205.1L573.0 205.3L576.9 205.4L580.8 205.4L584.0 205.4L587.2 205.4L590.4 205.4L593.6 205.4L596.8 205.4L600.1 205.4L603.3 205.4L606.5 205.4L609.7 205.4L612.9 205.4M612.9 204.2L615.2 204.3L617.4 204.3L619.7 204.5L621.9 204.6L624.2 204.8L626.5 205.0L628.7 205.2L631.0 205.3L633.2 205.4L635.5 205.4"/><path d="M463.5 248.6L465.9 248.5L468.2 248.1L470.6 247.5L472.9 246.8L475.2 246.0L477.6 245.4L479.9 244.9L482.3 244.5L484.6 244.3L487.0 244.2L489.3 244.2L491.6 244.4L494.0 244.7L496.3 245.1L498.6 245.5L500.9 246.1L503.2 246.6L505.6 247.1L507.9 247.4L510.2 247.5L513.4 247.7L516.6 248.0L519.7 248.4L522.9 248.8L526.1 248.9L529.3 248.7L532.5 248.2L535.6 247.7L538.8 247.3L542.0 247.2L545.9 247.0L549.8 246.3L553.6 245.2L557.5 243.6L561.4 241.5L565.3 239.2L569.2 236.8L573.0 234.8L576.9 233.5L580.8 233.0L584.0 233.2L587.2 233.7L590.4 234.7L593.6 235.9L596.8 237.4L600.1 239.0L603.3 240.5L606.5 241.7L609.7 242.6L612.9 242.8M612.9 247.8L615.2 247.5L617.4 246.5L619.7 245.1L621.9 243.4L624.2 241.6L626.5 239.9L628.7 238.5L631.0 237.5L633.2 236.9L635.5 236.7"/><path d="M463.5 249.1L465.9 249.1L468.2 249.1L470.6 249.0L472.9 248.9L475.2 248.6L477.6 248.3L479.9 247.9L482.3 247.5L484.6 247.3L487.0 247.2L489.3 247.0L491.6 246.6L494.0 246.2L496.3 245.7L498.6 245.4L500.9 245.3L503.2 245.4L505.6 245.6L507.9 245.8L510.2 245.9L513.4 245.7L516.6 245.4L519.7 245.1L522.9 245.0L526.1 245.1L529.3 245.6L532.5 246.4L535.6 247.2L538.8 247.8L542.0 248.0L545.9 247.5L549.8 245.8L553.6 243.3L557.5 240.2L561.4 236.9L565.3 233.8L569.2 231.0L573.0 228.9L576.9 227.6L580.8 227.2L584.0 227.5L587.2 228.5L590.4 230.2L593.6 232.6L596.8 235.5L600.1 238.7L603.3 241.8L606.5 244.5L609.7 246.3L612.9 246.9M612.9 249.4L615.2 249.2L617.4 248.8L619.7 248.1L621.9 247.1L624.2 245.9L626.5 244.5L628.7 243.1L631.0 242.0L633.2 241.2L635.5 240.9"/><path d="M463.5 246.6L465.9 246.7L468.2 246.8L470.6 247.0L472.9 247.1L475.2 246.9L477.6 246.5L479.9 245.9L482.3 245.3L484.6 244.8L487.0 244.7L489.3 244.6L491.6 244.4L494.0 244.3L496.3 244.4L498.6 244.7L500.9 245.4L503.2 246.2L505.6 247.0L507.9 247.5L510.2 247.8L513.4 247.7L516.6 247.6L519.7 247.4L522.9 247.1L526.1 246.6L529.3 246.1L532.5 245.6L535.6 245.1L538.8 244.8L542.0 244.7L545.9 244.4L549.8 243.5L553.6 241.9L557.5 239.9L561.4 237.4L565.3 234.7L569.2 232.2L573.0 230.0L576.9 228.5L580.8 228.0L584.0 228.4L587.2 229.7L590.4 231.6L593.6 233.9L596.8 236.4L600.1 238.7L603.3 240.8L606.5 242.3L609.7 243.3L612.9 243.6M612.9 243.1L615.2 243.0L617.4 242.9L619.7 242.7L621.9 242.5L624.2 242.3L626.5 242.2L628.7 242.1L631.0 242.0L633.2 242.0L635.5 242.0"/><path d="M463.5 235.9L465.9 236.0L468.2 236.2L470.6 236.6L472.9 237.0L475.2 237.3L477.6 237.6L479.9 237.7L482.3 237.8L484.6 237.9L487.0 237.9L489.3 238.1L491.6 238.6L494.0 239.5L496.3 240.6L498.6 241.7L500.9 242.8L503.2 243.8L505.6 244.6L507.9 245.0L510.2 245.2L513.4 245.1L516.6 244.7L519.7 244.0L522.9 243.2L526.1 242.2L529.3 241.0L532.5 240.0L535.6 239.1L538.8 238.5L542.0 238.3L545.9 237.7L549.8 235.8L553.6 232.9L557.5 229.4L561.4 225.6L565.3 221.9L569.2 218.7L573.0 216.2L576.9 214.6L580.8 214.0L584.0 214.8L587.2 217.1L590.4 220.7L593.6 225.1L596.8 230.0L600.1 235.0L603.3 239.4L606.5 242.9L609.7 245.2L612.9 245.9M612.9 246.8L615.2 246.5L617.4 245.8L619.7 244.6L621.9 243.2L624.2 241.6L626.5 240.1L628.7 238.6L631.0 237.5L633.2 236.8L635.5 236.6"/><path d="M463.5 241.7L465.9 241.9L468.2 242.3L470.6 242.8L472.9 243.6L475.2 244.4L477.6 245.2L479.9 245.9L482.3 246.5L484.6 246.9L487.0 247.0L489.3 247.0L491.6 246.8L494.0 246.5L496.3 246.1L498.6 245.5L500.9 244.9L503.2 244.4L505.6 243.9L507.9 243.5L510.2 243.4L513.4 243.4L516.6 243.2L519.7 243.1L522.9 242.9L526.1 242.7L529.3 242.7L532.5 242.7L535.6 242.7L538.8 242.7L542.0 242.7L545.9 241.8L549.8 239.2L553.6 235.3L557.5 230.7L561.4 225.9L565.3 221.5L569.2 217.9L573.0 215.2L576.9 213.6L580.8 213.1L584.0 213.5L587.2 214.8L590.4 217.1L593.6 220.1L596.8 223.9L600.1 228.0L603.3 232.0L606.5 235.3L609.7 237.6L612.9 238.4M612.9 244.6L615.2 244.4L617.4 243.7L619.7 242.5L621.9 240.9L624.2 239.1L626.5 237.1L628.7 235.2L631.0 233.6L633.2 232.6L635.5 232.2"/><path d="M463.5 244.9L465.9 244.6L468.2 243.6L470.6 242.1L472.9 240.6L475.2 239.2L477.6 238.1L479.9 237.4L482.3 237.0L484.6 236.9L487.0 236.9L489.3 237.1L491.6 237.6L494.0 238.5L496.3 239.6L498.6 240.8L500.9 242.0L503.2 243.0L505.6 243.8L507.9 244.3L510.2 244.5L513.4 244.2L516.6 243.3L519.7 242.1L522.9 240.8L526.1 239.6L529.3 238.6L532.5 238.0L535.6 237.7L538.8 237.5L542.0 237.5L545.9 237.0L549.8 235.5L553.6 233.1L557.5 230.1L561.4 226.6L565.3 223.1L569.2 219.8L573.0 217.2L576.9 215.5L580.8 214.9L584.0 215.6L587.2 217.8L590.4 221.0L593.6 225.0L596.8 229.3L600.1 233.4L603.3 236.9L606.5 239.7L609.7 241.4L612.9 241.9M612.9 245.5L615.2 245.3L617.4 244.5L619.7 243.4L621.9 241.9L624.2 240.4L626.5 238.8L628.7 237.4L631.0 236.3L633.2 235.7L635.5 235.4"/><path d="M463.5 247.1L465.9 246.6L468.2 245.3L470.6 243.5L472.9 241.7L475.2 240.5L477.6 239.9L479.9 240.1L482.3 240.5L484.6 241.1L487.0 241.3L489.3 241.3L491.6 241.3L494.0 241.4L496.3 241.8L498.6 242.3L500.9 243.1L503.2 243.9L505.6 244.7L507.9 245.3L510.2 245.5L513.4 245.7L516.6 246.1L519.7 246.5L522.9 246.7L526.1 246.5L529.3 245.8L532.5 244.7L535.6 243.6L538.8 242.8L542.0 242.5L545.9 242.1L549.8 241.2L553.6 239.7L557.5 237.8L561.4 235.6L565.3 233.4L569.2 231.4L573.0 229.7L576.9 228.7L580.8 228.3L584.0 228.3L587.2 228.2L590.4 228.1L593.6 228.2L596.8 228.6L600.1 229.2L603.3 230.0L606.5 230.7L609.7 231.3L612.9 231.5M612.9 241.2L615.2 240.9L617.4 240.1L619.7 238.9L621.9 237.2L624.2 235.4L626.5 233.5L628.7 231.8L631.0 230.5L633.2 229.6L635.5 229.3"/><path d="M463.5 235.1L465.9 235.0L468.2 234.8L470.6 234.5L472.9 234.4L475.2 234.4L477.6 234.6L479.9 235.0L482.3 235.5L484.6 235.8L487.0 235.9L489.3 236.1L491.6 236.6L494.0 237.3L496.3 238.1L498.6 238.8L500.9 239.3L503.2 239.7L505.6 240.0L507.9 240.1L510.2 240.1L513.4 239.8L516.6 239.1L519.7 238.0L522.9 236.7L526.1 235.3L529.3 233.9L532.5 232.7L535.6 231.8L538.8 231.3L542.0 231.1L545.9 231.3L549.8 232.0L553.6 232.8L557.5 233.6L561.4 234.1L565.3 234.1L569.2 233.8L573.0 233.3L576.9 232.9L580.8 232.7L584.0 232.8L587.2 233.0L590.4 233.3L593.6 233.7L596.8 234.0L600.1 234.3L603.3 234.5L606.5 234.6L609.7 234.6L612.9 234.7M612.9 247.5L615.2 247.6L617.4 247.5L619.7 247.3L621.9 246.9L624.2 246.1L626.5 244.9L628.7 243.6L631.0 242.4L633.2 241.6L635.5 241.2"/><path d="M463.5 231.3L465.9 231.6L468.2 232.5L470.6 233.8L472.9 235.5L475.2 237.4L477.6 239.4L479.9 241.2L482.3 242.7L484.6 243.6L487.0 244.0L489.3 243.8L491.6 243.3L494.0 242.6L496.3 241.8L498.6 241.0L500.9 240.2L503.2 239.6L505.6 239.2L507.9 238.9L510.2 238.8L513.4 238.4L516.6 237.3L519.7 235.5L522.9 233.2L526.1 230.6L529.3 227.9L532.5 225.5L535.6 223.6L538.8 222.3L542.0 221.9L545.9 222.1L549.8 222.8L553.6 224.0L557.5 225.4L561.4 227.0L565.3 228.6L569.2 230.1L573.0 231.2L576.9 232.0L580.8 232.3L584.0 232.2L587.2 231.8L590.4 231.3L593.6 230.6L596.8 229.7L600.1 228.9L603.3 228.1L606.5 227.4L609.7 227.0L612.9 226.8M612.9 239.4L615.2 239.1L617.4 238.4L619.7 237.3L621.9 235.8L624.2 234.2L626.5 232.6L628.7 231.1L631.0 230.0L633.2 229.2L635.5 229.0"/><path d="M463.5 228.7L465.9 228.7L468.2 228.7L470.6 228.8L472.9 229.1L475.2 229.7L477.6 230.5L479.9 231.4L482.3 232.2L484.6 232.8L487.0 233.0L489.3 233.2L491.6 233.6L494.0 234.2L496.3 234.9L498.6 235.4L500.9 235.8L503.2 236.0L505.6 236.1L507.9 236.1L510.2 236.0L513.4 235.6L516.6 234.5L519.7 232.9L522.9 231.4L526.1 230.1L529.3 229.3L532.5 229.0L535.6 229.1L538.8 229.3L542.0 229.4L545.9 229.2L549.8 228.6L553.6 227.7L557.5 226.5L561.4 225.0L565.3 223.4L569.2 221.9L573.0 220.6L576.9 219.7L580.8 219.4L584.0 220.0L587.2 221.8L590.4 224.6L593.6 228.2L596.8 232.3L600.1 236.6L603.3 240.6L606.5 243.9L609.7 246.0L612.9 246.8M612.9 240.6L615.2 240.3L617.4 239.4L619.7 238.0L621.9 236.3L624.2 234.5L626.5 232.8L628.7 231.2L631.0 230.1L633.2 229.3L635.5 229.1"/><path d="M463.5 223.8L465.9 223.6L468.2 223.0L470.6 222.1L472.9 221.1L475.2 220.2L477.6 219.5L479.9 219.0L482.3 218.7L484.6 218.5L487.0 218.5L489.3 219.0L491.6 220.7L494.0 223.3L496.3 226.9L498.6 231.1L500.9 235.5L503.2 239.8L505.6 243.3L507.9 245.7L510.2 246.5L513.4 245.8L516.6 243.9L519.7 241.0L522.9 237.4L526.1 233.5L529.3 229.7L532.5 226.3L535.6 223.7L538.8 222.0L542.0 221.4L545.9 221.1L549.8 220.3L553.6 219.0L557.5 217.4L561.4 215.6L565.3 213.9L569.2 212.3L573.0 211.1L576.9 210.3L580.8 210.0L584.0 210.7L587.2 212.5L590.4 215.5L593.6 219.3L596.8 223.6L600.1 228.0L603.3 232.0L606.5 235.3L609.7 237.4L612.9 238.1M612.9 236.5L615.2 236.1L617.4 235.1L619.7 233.6L621.9 232.0L624.2 230.3L626.5 228.9L628.7 227.9L631.0 227.2L633.2 226.9L635.5 226.8"/><path d="M463.5 223.5L465.9 223.5L468.2 223.6L470.6 223.8L472.9 224.2L475.2 224.7L477.6 225.3L479.9 225.9L482.3 226.5L484.6 226.9L487.0 227.1L489.3 227.1L491.6 227.3L494.0 227.7L496.3 228.3L498.6 229.1L500.9 230.2L503.2 231.2L505.6 232.2L507.9 232.9L510.2 233.1L513.4 233.3L516.6 233.6L519.7 234.2L522.9 235.0L526.1 236.0L529.3 237.2L532.5 238.4L535.6 239.4L538.8 240.0L542.0 240.3L545.9 239.7L549.8 237.8L553.6 235.0L557.5 231.5L561.4 227.5L565.3 223.6L569.2 220.1L573.0 217.3L576.9 215.5L580.8 214.8L584.0 214.8L587.2 214.8L590.4 214.9L593.6 215.5L596.8 216.5L600.1 218.1L603.3 220.0L606.5 221.7L609.7 223.0L612.9 223.4M612.9 233.3L615.2 233.1L617.4 232.6L619.7 231.8L621.9 230.9L624.2 230.0L626.5 229.1L628.7 228.3L631.0 227.8L633.2 227.4L635.5 227.3"/><path d="M463.5 239.2L465.9 239.2L468.2 239.3L470.6 239.5L472.9 239.7L475.2 239.9L477.6 240.1L479.9 240.4L482.3 240.6L484.6 240.7L487.0 240.7L489.3 240.5L491.6 239.9L494.0 239.1L496.3 238.4L498.6 238.0L500.9 237.9L503.2 238.2L505.6 238.6L507.9 238.9L510.2 239.1L513.4 238.7L516.6 237.5L519.7 235.6L522.9 233.3L526.1 230.6L529.3 227.9L532.5 225.4L535.6 223.4L538.8 222.1L542.0 221.7L545.9 221.3L549.8 220.3L553.6 218.7L557.5 217.1L561.4 215.5L565.3 214.1L569.2 213.2L573.0 212.6L576.9 212.3L580.8 212.2L584.0 212.6L587.2 213.9L590.4 215.8L593.6 218.2L596.8 220.7L600.1 223.1L603.3 225.1L606.5 226.7L609.7 227.6L612.9 227.9M612.9 236.4L615.2 235.6L617.4 233.4L619.7 230.2L621.9 226.7L624.2 223.5L626.5 220.9L628.7 219.2L631.0 218.2L633.2 217.8L635.5 217.7"/><path d="M463.5 216.6L465.9 216.6L468.2 216.8L470.6 217.1L472.9 217.6L475.2 218.4L477.6 219.4L479.9 220.5L482.3 221.5L484.6 222.1L487.0 222.4L489.3 222.8L491.6 224.1L494.0 226.0L496.3 228.4L498.6 231.0L500.9 233.4L503.2 235.6L505.6 237.3L507.9 238.3L510.2 238.7L513.4 238.0L516.6 236.2L519.7 233.2L522.9 229.2L526.1 224.5L529.3 219.6L532.5 214.9L535.6 211.0L538.8 208.4L542.0 207.5L545.9 207.6L549.8 207.8L553.6 208.1L557.5 208.5L561.4 209.1L565.3 209.8L569.2 210.6L573.0 211.2L576.9 211.7L580.8 211.8L584.0 212.0L587.2 212.6L590.4 213.6L593.6 214.8L596.8 216.3L600.1 217.8L603.3 219.2L606.5 220.4L609.7 221.2L612.9 221.4M612.9 239.2L615.2 238.8L617.4 237.8L619.7 236.1L621.9 234.1L624.2 232.1L626.5 230.1L628.7 228.5L631.0 227.3L633.2 226.6L635.5 226.3"/><path d="M463.5 219.8L465.9 219.9L468.2 220.2L470.6 221.0L472.9 222.5L475.2 224.6L477.6 227.3L479.9 230.3L482.3 232.9L484.6 234.8L487.0 235.5L489.3 235.2L491.6 234.6L494.0 233.6L496.3 232.4L498.6 231.0L500.9 229.7L503.2 228.4L505.6 227.5L507.9 226.9L510.2 226.6L513.4 226.6L516.6 226.3L519.7 225.9L522.9 225.2L526.1 224.4L529.3 223.3L532.5 222.2L535.6 221.3L538.8 220.6L542.0 220.4L545.9 220.2L549.8 219.7L553.6 219.0L557.5 218.1L561.4 217.1L565.3 216.3L569.2 215.6L573.0 215.1L576.9 214.7L580.8 214.6L584.0 214.6L587.2 214.4L590.4 214.2L593.6 214.1L596.8 214.1L600.1 214.3L603.3 214.6L606.5 214.9L609.7 215.2L612.9 215.3M612.9 239.2L615.2 239.0L617.4 238.3L619.7 237.1L621.9 235.5L624.2 233.5L626.5 231.4L628.7 229.2L631.0 227.4L633.2 226.2L635.5 225.8"/><path d="M463.5 204.7L465.9 205.0L468.2 205.8L470.6 207.2L472.9 208.9L475.2 210.9L477.6 213.0L479.9 215.0L482.3 216.6L484.6 217.6L487.0 218.0L489.3 217.9L491.6 217.7L494.0 217.5L496.3 217.5L498.6 218.1L500.9 219.0L503.2 220.2L505.6 221.5L507.9 222.4L510.2 222.7L513.4 222.7L516.6 222.8L519.7 222.8L522.9 222.7L526.1 222.5L529.3 222.2L532.5 221.8L535.6 221.4L538.8 221.1L542.0 221.0L545.9 220.7L549.8 220.1L553.6 219.1L557.5 217.9L561.4 216.7L565.3 215.6L569.2 214.6L573.0 213.9L576.9 213.5L580.8 213.3L584.0 213.5L587.2 214.0L590.4 214.6L593.6 215.4L596.8 216.2L600.1 216.9L603.3 217.4L606.5 217.8L609.7 218.0L612.9 218.1M612.9 223.2L615.2 223.1L617.4 222.6L619.7 221.8L621.9 220.8L624.2 219.8L626.5 218.8L628.7 217.9L631.0 217.2L633.2 216.8L635.5 216.6"/><path d="M463.5 232.8L465.9 232.1L468.2 230.3L470.6 227.4L472.9 223.9L475.2 220.2L477.6 216.6L479.9 213.6L482.3 211.2L484.6 209.8L487.0 209.3L489.3 209.9L491.6 211.7L494.0 214.7L496.3 218.4L498.6 222.7L500.9 227.1L503.2 231.2L505.6 234.5L507.9 236.7L510.2 237.4L513.4 236.6L516.6 234.2L519.7 230.4L522.9 225.8L526.1 220.8L529.3 215.9L532.5 211.5L535.6 208.1L538.8 206.0L542.0 205.2L545.9 205.4L549.8 205.9L553.6 206.7L557.5 208.0L561.4 209.5L565.3 211.2L569.2 212.8L573.0 214.3L576.9 215.2L580.8 215.6L584.0 215.8L587.2 216.4L590.4 217.1L593.6 217.7L596.8 217.9L600.1 217.7L603.3 217.2L606.5 216.5L609.7 215.9L612.9 215.7M612.9 220.5L615.2 220.2L617.4 219.1L619.7 217.5L621.9 215.4L624.2 213.0L626.5 210.7L628.7 208.5L631.0 206.8L633.2 205.7L635.5 205.3"/><path d="M463.5 206.5L465.9 206.9L468.2 208.1L470.6 210.1L472.9 212.8L475.2 215.8L477.6 219.1L479.9 222.1L482.3 224.6L484.6 226.3L487.0 226.9L489.3 226.9L491.6 227.0L494.0 227.2L496.3 227.6L498.6 228.2L500.9 229.0L503.2 229.9L505.6 230.8L507.9 231.4L510.2 231.6L513.4 231.0L516.6 229.1L519.7 226.3L522.9 222.8L526.1 219.0L529.3 215.2L532.5 211.9L535.6 209.3L538.8 207.6L542.0 207.1L545.9 207.0L549.8 206.8L553.6 206.6L557.5 206.6L561.4 207.0L565.3 207.7L569.2 208.7L573.0 209.7L576.9 210.4L580.8 210.7L584.0 210.8L587.2 211.1L590.4 211.6L593.6 212.3L596.8 213.1L600.1 214.0L603.3 214.9L606.5 215.6L609.7 216.1L612.9 216.3M612.9 227.7L615.2 227.6L617.4 227.1L619.7 226.3L621.9 225.2L624.2 223.8L626.5 222.3L628.7 220.9L631.0 219.7L633.2 218.9L635.5 218.6"/><path d="M463.5 207.9L465.9 208.2L468.2 209.1L470.6 210.4L472.9 211.7L475.2 212.9L477.6 213.7L479.9 214.2L482.3 214.3L484.6 214.3L487.0 214.3L489.3 214.5L491.6 215.1L494.0 216.0L496.3 217.1L498.6 218.4L500.9 219.8L503.2 221.0L505.6 222.1L507.9 222.7L510.2 222.9L513.4 222.8L516.6 222.1L519.7 221.0L522.9 219.3L526.1 217.1L529.3 214.5L532.5 211.8L535.6 209.4L538.8 207.8L542.0 207.2L545.9 207.3L549.8 207.4L553.6 207.8L557.5 208.6L561.4 209.8L565.3 211.5L569.2 213.3L573.0 215.0L576.9 216.2L580.8 216.6L584.0 217.2L587.2 219.0L590.4 221.6L593.6 224.7L596.8 227.9L600.1 230.8L603.3 233.2L606.5 234.9L609.7 235.9L612.9 236.2M612.9 219.3L615.2 219.2L617.4 218.9L619.7 218.5L621.9 217.9L624.2 217.3L626.5 216.7L628.7 216.2L631.0 215.8L633.2 215.5L635.5 215.4"/><path d="M463.5 204.6L465.9 204.4L468.2 204.0L470.6 203.5L472.9 203.2L475.2 203.2L477.6 203.6L479.9 204.3L482.3 205.1L484.6 205.7L487.0 206.0L489.3 206.6L491.6 208.3L494.0 211.0L496.3 214.5L498.6 218.4L500.9 222.3L503.2 225.8L505.6 228.7L507.9 230.5L510.2 231.1L513.4 230.5L516.6 228.8L519.7 226.1L522.9 222.8L526.1 219.0L529.3 215.3L532.5 212.0L535.6 209.4L538.8 207.7L542.0 207.1L545.9 207.1L549.8 206.9L553.6 206.7L557.5 206.6L561.4 206.5L565.3 206.7L569.2 206.9L573.0 207.1L576.9 207.4L580.8 207.4L584.0 207.6L587.2 208.0L590.4 208.7L593.6 209.7L596.8 210.8L600.1 212.1L603.3 213.3L606.5 214.3L609.7 215.0L612.9 215.2M612.9 218.2L615.2 218.6L617.4 219.6L619.7 220.9L621.9 222.2L624.2 223.2L626.5 223.7L628.7 223.8L631.0 223.6L633.2 223.4L635.5 223.3"/><path d="M463.5 199.6L465.9 199.7L468.2 200.1L470.6 200.8L472.9 202.2L475.2 204.1L477.6 206.5L479.9 209.0L482.3 211.3L484.6 212.9L487.0 213.5L489.3 213.7L491.6 214.4L494.0 215.4L496.3 216.5L498.6 217.6L500.9 218.5L503.2 219.2L505.6 219.6L507.9 219.8L510.2 219.9L513.4 219.4L516.6 218.3L519.7 216.6L522.9 214.6L526.1 212.6L529.3 210.8L532.5 209.4L535.6 208.3L538.8 207.7L542.0 207.5L545.9 207.3L549.8 206.7L553.6 205.8L557.5 204.6L561.4 203.3L565.3 202.0L569.2 200.9L573.0 200.0L576.9 199.4L580.8 199.2L584.0 199.6L587.2 201.0L590.4 202.9L593.6 205.1L596.8 207.4L600.1 209.4L603.3 211.0L606.5 212.1L609.7 212.7L612.9 212.9M612.9 229.3L615.2 229.1L617.4 228.6L619.7 227.9L621.9 226.9L624.2 226.0L626.5 225.0L628.7 224.2L631.0 223.6L633.2 223.2L635.5 223.1"/><path d="M463.5 203.9L465.9 204.1L468.2 204.6L470.6 205.4L472.9 206.0L475.2 206.4L477.6 206.4L479.9 206.1L482.3 205.6L484.6 205.3L487.0 205.1L489.3 205.4L491.6 206.4L494.0 207.8L496.3 209.5L498.6 211.3L500.9 213.0L503.2 214.5L505.6 215.6L507.9 216.3L510.2 216.5L513.4 216.0L516.6 214.6L519.7 212.5L522.9 210.1L526.1 208.0L529.3 206.2L532.5 205.0L535.6 204.3L538.8 204.0L542.0 203.9L545.9 203.8L549.8 203.7L553.6 203.6L557.5 203.6L561.4 203.9L565.3 204.3L569.2 204.9L573.0 205.5L576.9 205.9L580.8 206.0L584.0 206.1L587.2 206.4L590.4 206.8L593.6 207.3L596.8 207.8L600.1 208.4L603.3 208.9L606.5 209.2L609.7 209.5L612.9 209.6M612.9 219.2L615.2 218.9L617.4 218.0L619.7 216.7L621.9 215.3L624.2 214.0L626.5 213.0L628.7 212.3L631.0 211.9L633.2 211.7L635.5 211.7"/><path d="M463.5 195.2L465.9 195.5L468.2 196.3L470.6 197.7L472.9 199.7L475.2 202.3L477.6 205.2L479.9 208.1L482.3 210.7L484.6 212.4L487.0 213.0L489.3 213.1L491.6 213.5L494.0 214.0L496.3 214.7L498.6 215.3L500.9 215.8L503.2 216.3L505.6 216.6L507.9 216.7L510.2 216.8L513.4 216.2L516.6 214.6L519.7 212.2L522.9 209.3L526.1 206.4L529.3 203.8L532.5 201.6L535.6 200.1L538.8 199.2L542.0 198.8L545.9 199.0L549.8 199.5L553.6 200.3L557.5 201.7L561.4 203.6L565.3 205.9L569.2 208.3L573.0 210.4L576.9 211.8L580.8 212.3L584.0 212.4L587.2 212.5L590.4 212.7L593.6 212.9L596.8 213.1L600.1 213.3L603.3 213.5L606.5 213.6L609.7 213.7L612.9 213.7M612.9 216.2L615.2 215.9L617.4 215.2L619.7 214.2L621.9 213.0L624.2 211.8L626.5 210.7L628.7 209.9L631.0 209.3L633.2 209.0L635.5 208.8"/><path d="M463.5 189.8L465.9 190.2L468.2 191.3L470.6 192.9L472.9 194.9L475.2 197.1L477.6 199.1L479.9 200.9L482.3 202.3L484.6 203.2L487.0 203.5L489.3 203.7L491.6 204.5L494.0 205.7L496.3 207.3L498.6 209.3L500.9 211.4L503.2 213.5L505.6 215.3L507.9 216.4L510.2 216.8L513.4 216.6L516.6 215.8L519.7 214.5L522.9 212.9L526.1 211.0L529.3 209.0L532.5 207.2L535.6 205.7L538.8 204.7L542.0 204.3L545.9 204.4L549.8 204.7L553.6 205.0L557.5 205.2L561.4 205.2L565.3 204.9L569.2 204.5L573.0 204.0L576.9 203.6L580.8 203.5L584.0 203.8L587.2 204.7L590.4 206.1L593.6 207.5L596.8 208.9L600.1 209.9L603.3 210.6L606.5 211.0L609.7 211.1L612.9 211.2M612.9 230.3L615.2 230.0L617.4 229.3L619.7 228.1L621.9 226.6L624.2 225.1L626.5 223.6L628.7 222.4L631.0 221.4L633.2 220.8L635.5 220.6"/><path d="M463.5 213.3L465.9 212.8L468.2 211.5L470.6 209.3L472.9 206.7L475.2 203.7L477.6 200.7L479.9 198.0L482.3 195.9L484.6 194.5L487.0 194.1L489.3 194.4L491.6 195.5L494.0 197.1L496.3 199.3L498.6 201.8L500.9 204.5L503.2 206.9L505.6 208.9L507.9 210.2L510.2 210.7L513.4 210.7L516.6 210.7L519.7 210.6L522.9 210.3L526.1 209.9L529.3 209.2L532.5 208.4L535.6 207.7L538.8 207.2L542.0 207.0L545.9 207.1L549.8 207.3L553.6 207.4L557.5 207.5L561.4 207.3L565.3 206.8L569.2 206.1L573.0 205.5L576.9 205.0L580.8 204.8L584.0 205.1L587.2 206.1L590.4 207.4L593.6 209.0L596.8 210.6L600.1 212.0L603.3 213.1L606.5 213.9L609.7 214.3L612.9 214.5M612.9 214.1L615.2 213.9L617.4 213.4L619.7 212.7L621.9 211.7L624.2 210.7L626.5 209.7L628.7 208.9L631.0 208.2L633.2 207.8L635.5 207.7"/><path d="M463.5 200.3L465.9 200.5L468.2 200.9L470.6 201.5L472.9 202.2L475.2 203.0L477.6 203.7L479.9 204.3L482.3 204.7L484.6 204.9L487.0 205.0L489.3 205.2L491.6 205.7L494.0 206.6L496.3 208.0L498.6 209.7L500.9 211.6L503.2 213.6L505.6 215.4L507.9 216.5L510.2 216.9L513.4 216.7L516.6 216.0L519.7 214.7L522.9 212.7L526.1 210.1L529.3 207.0L532.5 203.8L535.6 201.1L538.8 199.2L542.0 198.5L545.9 198.7L549.8 199.4L553.6 200.4L557.5 201.5L561.4 202.6L565.3 203.5L569.2 204.2L573.0 204.6L576.9 204.9L580.8 204.9L584.0 205.1L587.2 205.4L590.4 206.0L593.6 206.6L596.8 207.2L600.1 207.6L603.3 207.9L606.5 208.1L609.7 208.2L612.9 208.2M612.9 216.8L615.2 216.6L617.4 216.1L619.7 215.4L621.9 214.4L624.2 213.2L626.5 212.0L628.7 210.9L631.0 210.0L633.2 209.4L635.5 209.2"/><path d="M463.5 183.2L465.9 184.1L468.2 186.6L470.6 190.5L472.9 195.0L475.2 199.5L477.6 203.7L479.9 207.0L482.3 209.4L484.6 210.9L487.0 211.4L489.3 211.4L491.6 211.5L494.0 211.6L496.3 211.6L498.6 211.5L500.9 211.3L503.2 211.1L505.6 210.8L507.9 210.7L510.2 210.6L513.4 210.2L516.6 209.1L519.7 207.6L522.9 206.0L526.1 204.6L529.3 203.7L532.5 203.2L535.6 203.1L538.8 203.2L542.0 203.2L545.9 203.3L549.8 203.5L553.6 203.9L557.5 204.7L561.4 205.7L565.3 207.1L569.2 208.5L573.0 209.7L576.9 210.6L580.8 210.9L584.0 210.6L587.2 209.8L590.4 208.7L593.6 207.5L596.8 206.4L600.1 205.7L603.3 205.4L606.5 205.3L609.7 205.4L612.9 205.4M612.9 206.4L615.2 206.0L617.4 204.7L619.7 202.6L621.9 200.1L624.2 197.4L626.5 194.7L628.7 192.3L631.0 190.5L633.2 189.3L635.5 188.9"/><path d="M463.5 177.9L465.9 178.5L468.2 180.2L470.6 182.9L472.9 186.1L475.2 189.5L477.6 192.8L479.9 195.7L482.3 197.8L484.6 199.2L487.0 199.7L489.3 200.4L491.6 202.4L494.0 205.2L496.3 208.3L498.6 211.2L500.9 213.4L503.2 214.9L505.6 215.7L507.9 216.1L510.2 216.2L513.4 215.9L516.6 215.1L519.7 213.8L522.9 212.1L526.1 210.2L529.3 208.2L532.5 206.3L535.6 204.8L538.8 203.7L542.0 203.4L545.9 203.5L549.8 203.8L553.6 204.2L557.5 204.7L561.4 205.2L565.3 205.6L569.2 205.9L573.0 206.0L576.9 206.1L580.8 206.2L584.0 206.2L587.2 206.2L590.4 206.2L593.6 206.1L596.8 205.9L600.1 205.6L603.3 205.2L606.5 204.8L609.7 204.6L612.9 204.5M612.9 194.8L615.2 195.1L617.4 195.8L619.7 196.9L621.9 198.2L624.2 199.5L626.5 200.7L628.7 201.7L631.0 202.4L633.2 202.9L635.5 203.0"/><path d="M463.5 197.2L465.9 197.3L468.2 197.5L470.6 198.0L472.9 198.8L475.2 199.8L477.6 201.1L479.9 202.4L482.3 203.6L484.6 204.4L487.0 204.7L489.3 204.7L491.6 204.9L494.0 205.0L496.3 205.0L498.6 204.9L500.9 204.5L503.2 204.1L505.6 203.6L507.9 203.3L510.2 203.1L513.4 203.1L516.6 202.8L519.7 202.2L522.9 201.4L526.1 200.1L529.3 198.6L532.5 196.9L535.6 195.4L538.8 194.4L542.0 194.0L545.9 194.6L549.8 196.1L553.6 198.3L557.5 200.7L561.4 202.8L565.3 204.4L569.2 205.4L573.0 205.9L576.9 206.1L580.8 206.1L584.0 205.8L587.2 205.0L590.4 203.7L593.6 202.1L596.8 200.5L600.1 199.0L603.3 197.7L606.5 196.8L609.7 196.2L612.9 196.0M612.9 204.6L615.2 204.1L617.4 202.8L619.7 200.9L621.9 198.5L624.2 196.1L626.5 193.8L628.7 191.9L631.0 190.5L633.2 189.7L635.5 189.4"/><path d="M463.5 186.3L465.9 186.1L468.2 185.8L470.6 185.2L472.9 184.6L475.2 183.9L477.6 183.2L479.9 182.5L482.3 182.1L484.6 181.8L487.0 181.7L489.3 182.2L491.6 184.0L494.0 186.6L496.3 189.9L498.6 193.4L500.9 196.9L503.2 200.0L505.6 202.4L507.9 203.9L510.2 204.4L513.4 204.1L516.6 203.0L519.7 201.2L522.9 198.9L526.1 196.2L529.3 193.5L532.5 190.9L535.6 188.8L538.8 187.4L542.0 186.9L545.9 187.2L549.8 188.2L553.6 189.7L557.5 191.8L561.4 194.3L565.3 197.0L569.2 199.6L573.0 201.7L576.9 203.2L580.8 203.7L584.0 203.7L587.2 203.8L590.4 204.0L593.6 204.1L596.8 204.2L600.1 204.1L603.3 204.1L606.5 204.0L609.7 203.9L612.9 203.8M612.9 209.6L615.2 209.6L617.4 209.6L619.7 209.4L621.9 208.9L624.2 208.0L626.5 206.9L628.7 205.7L631.0 204.5L633.2 203.6L635.5 203.3"/><path d="M463.5 169.6L465.9 170.0L468.2 171.3L470.6 173.2L472.9 175.7L475.2 178.4L477.6 181.2L479.9 183.8L482.3 185.8L484.6 187.1L487.0 187.6L489.3 187.9L491.6 189.1L494.0 190.9L496.3 193.4L498.6 196.5L500.9 199.8L503.2 203.1L505.6 205.8L507.9 207.7L510.2 208.3L513.4 207.6L516.6 205.4L519.7 202.1L522.9 198.2L526.1 194.1L529.3 190.3L532.5 187.1L535.6 184.7L538.8 183.3L542.0 182.8L545.9 183.0L549.8 183.5L553.6 184.3L557.5 185.4L561.4 186.8L565.3 188.3L569.2 189.8L573.0 191.1L576.9 192.0L580.8 192.3L584.0 192.5L587.2 193.3L590.4 194.4L593.6 196.1L596.8 198.0L600.1 200.1L603.3 202.2L606.5 203.9L609.7 205.1L612.9 205.5M612.9 203.5L615.2 203.5L617.4 203.4L619.7 203.2L621.9 202.6L624.2 201.7L626.5 200.4L628.7 199.0L631.0 197.7L633.2 196.7L635.5 196.4"/><path d="M463.5 178.5L465.9 178.7L468.2 179.4L470.6 180.4L472.9 181.6L475.2 182.7L477.6 183.8L479.9 184.6L482.3 185.2L484.6 185.6L487.0 185.7L489.3 186.0L491.6 186.8L494.0 188.0L496.3 189.5L498.6 191.2L500.9 192.7L503.2 194.1L505.6 195.1L507.9 195.8L510.2 196.0L513.4 196.2L516.6 196.8L519.7 197.6L522.9 198.8L526.1 200.1L529.3 201.5L532.5 202.8L535.6 203.9L538.8 204.6L542.0 204.8L545.9 204.0L549.8 201.6L553.6 197.8L557.5 193.0L561.4 187.5L565.3 182.0L569.2 176.9L573.0 172.9L576.9 170.2L580.8 169.3L584.0 170.2L587.2 172.6L590.4 176.5L593.6 181.4L596.8 186.8L600.1 192.2L603.3 197.1L606.5 201.0L609.7 203.5L612.9 204.3M612.9 190.5L615.2 190.6L617.4 191.0L619.7 191.6L621.9 192.3L624.2 193.2L626.5 194.0L628.7 194.8L631.0 195.4L633.2 195.8L635.5 196.0"/><path d="M463.5 176.9L465.9 176.9L468.2 177.1L470.6 177.4L472.9 177.7L475.2 178.0L477.6 178.3L479.9 178.6L482.3 178.7L484.6 178.8L487.0 178.9L489.3 179.0L491.6 179.5L494.0 180.3L496.3 181.7L498.6 183.7L500.9 186.0L503.2 188.4L505.6 190.5L507.9 192.0L510.2 192.5L513.4 192.6L516.6 192.9L519.7 193.3L522.9 193.9L526.1 194.7L529.3 195.6L532.5 196.5L535.6 197.2L538.8 197.7L542.0 197.9L545.9 196.9L549.8 194.0L553.6 189.5L557.5 184.2L561.4 178.6L565.3 173.4L569.2 169.0L573.0 165.7L576.9 163.6L580.8 162.9L584.0 163.6L587.2 165.7L590.4 168.8L593.6 172.6L596.8 176.7L600.1 180.6L603.3 184.1L606.5 186.7L609.7 188.4L612.9 189.0M612.9 190.5L615.2 190.4L617.4 190.1L619.7 189.5L621.9 188.8L624.2 187.8L626.5 186.7L628.7 185.6L631.0 184.7L633.2 184.1L635.5 183.9"/><path d="M463.5 169.5L465.9 169.8L468.2 170.6L470.6 171.8L472.9 173.4L475.2 175.2L477.6 177.1L479.9 178.9L482.3 180.3L484.6 181.3L487.0 181.6L489.3 181.5L491.6 181.5L494.0 181.6L496.3 182.3L498.6 183.6L500.9 185.7L503.2 188.1L505.6 190.4L507.9 192.0L510.2 192.6L513.4 192.2L516.6 191.0L519.7 189.1L522.9 186.7L526.1 184.0L529.3 181.3L532.5 178.8L535.6 176.8L538.8 175.5L542.0 175.1L545.9 174.8L549.8 173.9L553.6 172.6L557.5 171.1L561.4 169.6L565.3 168.3L569.2 167.3L573.0 166.7L576.9 166.3L580.8 166.1L584.0 166.9L587.2 169.1L590.4 172.6L593.6 177.3L596.8 182.8L600.1 188.6L603.3 194.1L606.5 198.6L609.7 201.6L612.9 202.7M612.9 183.1L615.2 182.9L617.4 182.4L619.7 181.7L621.9 180.8L624.2 179.8L626.5 178.8L628.7 178.0L631.0 177.4L633.2 177.0L635.5 176.8"/><path d="M463.5 167.5L465.9 167.9L468.2 169.1L470.6 171.2L472.9 173.9L475.2 177.1L477.6 180.6L479.9 183.9L482.3 186.6L484.6 188.4L487.0 189.1L489.3 189.3L491.6 189.8L494.0 190.7L496.3 191.7L498.6 192.7L500.9 193.7L503.2 194.6L505.6 195.2L507.9 195.6L510.2 195.7L513.4 195.0L516.6 193.1L519.7 190.1L522.9 186.5L526.1 182.6L529.3 178.8L532.5 175.5L535.6 173.0L538.8 171.4L542.0 170.8L545.9 170.7L549.8 170.4L553.6 169.9L557.5 169.6L561.4 169.5L565.3 169.7L569.2 170.1L573.0 170.6L576.9 171.1L580.8 171.2L584.0 171.5L587.2 172.4L590.4 173.9L593.6 175.8L596.8 177.9L600.1 180.2L603.3 182.3L606.5 184.0L609.7 185.1L612.9 185.5M612.9 187.8L615.2 188.0L617.4 188.5L619.7 189.4L621.9 190.5L624.2 191.9L626.5 193.4L628.7 194.9L631.0 196.1L633.2 196.9L635.5 197.2"/><path d="M463.5 160.0L465.9 160.4L468.2 161.4L470.6 162.8L472.9 164.5L475.2 166.2L477.6 167.8L479.9 169.1L482.3 170.0L484.6 170.5L487.0 170.7L489.3 171.1L491.6 172.2L494.0 174.1L496.3 176.4L498.6 179.1L500.9 181.8L503.2 184.3L505.6 186.4L507.9 187.7L510.2 188.2L513.4 187.8L516.6 186.9L519.7 185.4L522.9 183.5L526.1 181.5L529.3 179.5L532.5 177.7L535.6 176.3L538.8 175.4L542.0 175.1L545.9 176.0L549.8 178.5L553.6 182.3L557.5 187.0L561.4 191.9L565.3 196.5L569.2 200.5L573.0 203.6L576.9 205.4L580.8 206.1L584.0 205.2L587.2 202.9L590.4 199.4L593.6 195.3L596.8 191.2L600.1 187.5L603.3 184.6L606.5 182.5L609.7 181.3L612.9 180.9M612.9 210.1L615.2 210.1L617.4 209.8L619.7 209.4L621.9 208.7L624.2 207.9L626.5 206.8L628.7 205.8L631.0 204.9L633.2 204.2L635.5 204.0"/><path d="M463.5 172.9L465.9 172.8L468.2 172.5L470.6 171.8L472.9 170.9L475.2 169.6L477.6 168.0L479.9 166.4L482.3 165.0L484.6 164.1L487.0 163.7L489.3 164.5L491.6 166.9L494.0 170.7L496.3 175.6L498.6 181.0L500.9 186.6L503.2 191.7L505.6 195.8L507.9 198.4L510.2 199.4L513.4 198.7L516.6 196.8L519.7 193.7L522.9 189.7L526.1 185.2L529.3 180.6L532.5 176.3L535.6 172.9L538.8 170.6L542.0 169.8L545.9 169.6L549.8 169.1L553.6 168.2L557.5 167.1L561.4 166.0L565.3 164.9L569.2 163.9L573.0 163.2L576.9 162.8L580.8 162.6L584.0 162.8L587.2 163.3L590.4 164.2L593.6 165.4L596.8 166.8L600.1 168.3L603.3 169.8L606.5 171.1L609.7 171.9L612.9 172.2M612.9 167.9L615.2 167.7L617.4 167.4L619.7 166.9L621.9 166.3L624.2 165.6L626.5 164.9L628.7 164.3L631.0 163.8L633.2 163.5L635.5 163.4"/><path d="M463.5 162.5L465.9 163.3L468.2 165.6L470.6 169.2L472.9 173.9L475.2 179.1L477.6 184.3L479.9 189.2L482.3 193.0L484.6 195.5L487.0 196.4L489.3 195.8L491.6 194.0L494.0 191.2L496.3 187.6L498.6 183.6L500.9 179.5L503.2 175.7L505.6 172.8L507.9 170.8L510.2 170.2L513.4 170.1L516.6 169.9L519.7 169.6L522.9 169.1L526.1 168.5L529.3 167.7L532.5 167.0L535.6 166.3L538.8 165.8L542.0 165.7L545.9 166.6L549.8 169.4L553.6 173.8L557.5 179.2L561.4 185.2L565.3 191.1L569.2 196.4L573.0 200.6L576.9 203.3L580.8 204.2L584.0 203.2L587.2 200.4L590.4 195.8L593.6 190.1L596.8 183.8L600.1 177.4L603.3 171.7L606.5 167.1L609.7 164.1L612.9 163.1M612.9 199.0L615.2 198.6L617.4 197.2L619.7 195.2L621.9 192.6L624.2 189.8L626.5 187.0L628.7 184.6L631.0 182.6L633.2 181.4L635.5 181.0"/><path d="M463.5 151.8L465.9 152.0L468.2 152.6L470.6 153.4L472.9 154.4L475.2 155.5L477.6 156.5L479.9 157.4L482.3 158.0L484.6 158.4L487.0 158.5L489.3 159.4L491.6 161.8L494.0 165.5L496.3 170.2L498.6 175.4L500.9 180.5L503.2 185.2L505.6 188.8L507.9 191.2L510.2 192.0L513.4 191.4L516.6 189.4L519.7 186.4L522.9 182.5L526.1 178.0L529.3 173.5L532.5 169.3L535.6 166.0L538.8 163.8L542.0 163.0L545.9 163.0L549.8 163.1L553.6 163.3L557.5 163.4L561.4 163.5L565.3 163.5L569.2 163.5L573.0 163.5L576.9 163.5L580.8 163.4L584.0 164.1L587.2 166.2L590.4 169.6L593.6 174.1L596.8 179.3L600.1 184.9L603.3 190.2L606.5 194.6L609.7 197.5L612.9 198.6M612.9 173.7L615.2 173.3L617.4 172.3L619.7 171.0L621.9 169.6L624.2 168.4L626.5 167.7L628.7 167.4L631.0 167.4L633.2 167.5L635.5 167.6"/><path d="M463.5 154.2L465.9 154.4L468.2 155.2L470.6 156.3L472.9 157.4L475.2 158.5L477.6 159.3L479.9 159.8L482.3 160.0L484.6 160.1L487.0 160.2L489.3 160.4L491.6 161.2L494.0 162.5L496.3 164.3L498.6 166.5L500.9 169.0L503.2 171.4L505.6 173.5L507.9 174.8L510.2 175.3L513.4 174.8L516.6 173.4L519.7 171.4L522.9 168.9L526.1 166.5L529.3 164.3L532.5 162.5L535.6 161.2L538.8 160.5L542.0 160.2L545.9 161.2L549.8 163.9L553.6 168.1L557.5 173.4L561.4 179.3L565.3 185.2L569.2 190.5L573.0 194.6L576.9 197.3L580.8 198.2L584.0 197.4L587.2 195.0L590.4 191.5L593.6 187.5L596.8 183.5L600.1 180.1L603.3 177.4L606.5 175.5L609.7 174.5L612.9 174.2M612.9 161.0L615.2 160.7L617.4 159.8L619.7 158.7L621.9 157.7L624.2 157.0L626.5 156.8L628.7 157.0L631.0 157.5L633.2 157.9L635.5 158.1"/><path d="M463.5 154.1L465.9 154.2L468.2 154.2L470.6 154.5L472.9 155.0L475.2 156.0L477.6 157.3L479.9 158.7L482.3 160.1L484.6 161.0L487.0 161.4L489.3 161.3L491.6 161.1L494.0 160.9L496.3 160.8L498.6 160.8L500.9 161.0L503.2 161.4L505.6 161.7L507.9 162.0L510.2 162.1L513.4 163.1L516.6 165.9L519.7 170.0L522.9 174.8L526.1 179.7L529.3 184.2L532.5 187.9L535.6 190.5L538.8 192.1L542.0 192.6L545.9 191.6L549.8 188.8L553.6 184.5L557.5 179.3L561.4 173.9L565.3 168.9L569.2 164.8L573.0 161.7L576.9 159.8L580.8 159.1L584.0 159.6L587.2 160.9L590.4 163.0L593.6 165.6L596.8 168.4L600.1 171.1L603.3 173.5L606.5 175.4L609.7 176.6L612.9 177.0M612.9 159.1L615.2 159.2L617.4 159.3L619.7 159.6L621.9 159.9L624.2 160.1L626.5 160.3L628.7 160.4L631.0 160.4L633.2 160.4L635.5 160.4"/><path d="M463.5 145.7L465.9 146.7L468.2 149.7L470.6 154.2L472.9 159.5L475.2 164.8L477.6 169.8L479.9 173.8L482.3 176.7L484.6 178.5L487.0 179.0L489.3 179.2L491.6 179.6L494.0 180.2L496.3 180.8L498.6 181.5L500.9 182.0L503.2 182.3L505.6 182.6L507.9 182.7L510.2 182.7L513.4 181.7L516.6 178.7L519.7 174.2L522.9 168.7L526.1 163.0L529.3 157.5L532.5 152.8L535.6 149.2L538.8 147.0L542.0 146.2L545.9 147.3L549.8 150.6L553.6 155.6L557.5 162.2L561.4 169.7L565.3 177.4L569.2 184.5L573.0 190.2L576.9 194.0L580.8 195.3L584.0 194.5L587.2 192.1L590.4 188.3L593.6 183.6L596.8 178.3L600.1 173.0L603.3 168.2L606.5 164.4L609.7 161.9L612.9 161.0M612.9 157.9L615.2 157.8L617.4 157.6L619.7 157.4L621.9 157.2L624.2 157.1L626.5 157.3L628.7 157.6L631.0 158.0L633.2 158.3L635.5 158.4"/><path d="M463.5 161.6L465.9 161.5L468.2 161.3L470.6 161.0L472.9 160.5L475.2 159.9L477.6 159.2L479.9 158.5L482.3 157.9L484.6 157.6L487.0 157.4L489.3 157.6L491.6 158.1L494.0 158.9L496.3 160.0L498.6 161.2L500.9 162.4L503.2 163.6L505.6 164.6L507.9 165.2L510.2 165.4L513.4 164.9L516.6 163.4L519.7 161.1L522.9 158.4L526.1 155.5L529.3 152.8L532.5 150.4L535.6 148.6L538.8 147.4L542.0 147.0L545.9 148.3L549.8 152.0L553.6 157.9L557.5 165.5L561.4 174.1L565.3 182.9L569.2 191.0L573.0 197.6L576.9 201.9L580.8 203.4L584.0 202.3L587.2 199.3L590.4 194.4L593.6 188.2L596.8 181.0L600.1 173.7L603.3 166.8L606.5 161.2L609.7 157.6L612.9 156.3M612.9 156.4L615.2 156.5L617.4 156.9L619.7 157.3L621.9 157.7L624.2 157.9L626.5 158.0L628.7 157.9L631.0 157.6L633.2 157.4L635.5 157.4"/><path d="M463.5 146.8L465.9 147.3L468.2 148.6L470.6 150.6L472.9 152.6L475.2 154.4L477.6 155.8L479.9 156.6L482.3 156.9L484.6 157.0L487.0 157.0L489.3 157.2L491.6 157.7L494.0 158.5L496.3 159.4L498.6 160.1L500.9 160.7L503.2 161.0L505.6 161.2L507.9 161.3L510.2 161.3L513.4 161.0L516.6 160.2L519.7 158.9L522.9 157.1L526.1 155.0L529.3 152.8L532.5 150.7L535.6 148.9L538.8 147.8L542.0 147.4L545.9 147.7L549.8 148.5L553.6 149.9L557.5 151.5L561.4 153.3L565.3 155.0L569.2 156.5L573.0 157.7L576.9 158.4L580.8 158.7L584.0 158.3L587.2 157.1L590.4 155.3L593.6 153.4L596.8 151.5L600.1 150.0L603.3 148.9L606.5 148.2L609.7 147.9L612.9 147.8M612.9 158.9L615.2 158.6L617.4 158.1L619.7 157.4L621.9 156.9L624.2 156.8L626.5 157.2L628.7 158.0L631.0 159.0L633.2 159.7L635.5 160.0"/><path d="M463.5 145.7L465.9 146.1L468.2 147.2L470.6 149.0L472.9 151.1L475.2 153.4L477.6 155.6L479.9 157.5L482.3 158.9L484.6 159.8L487.0 160.1L489.3 160.2L491.6 160.4L494.0 160.6L496.3 160.9L498.6 161.1L500.9 161.2L503.2 161.3L505.6 161.4L507.9 161.4L510.2 161.4L513.4 161.0L516.6 159.8L519.7 157.9L522.9 155.7L526.1 153.2L529.3 150.8L532.5 148.7L535.6 147.1L538.8 146.0L542.0 145.7L545.9 146.1L549.8 147.2L553.6 148.9L557.5 151.2L561.4 153.7L565.3 156.3L569.2 158.7L573.0 160.6L576.9 161.9L580.8 162.3L584.0 162.4L587.2 162.6L590.4 162.8L593.6 163.2L596.8 163.6L600.1 163.9L603.3 164.3L606.5 164.5L609.7 164.7L612.9 164.7M612.9 156.3L615.2 156.2L617.4 156.1L619.7 156.1L621.9 156.3L624.2 156.7L626.5 157.4L628.7 158.3L631.0 159.2L633.2 159.8L635.5 160.1"/><path d="M463.5 150.0L465.9 150.2L468.2 150.7L470.6 151.4L472.9 152.4L475.2 153.5L477.6 154.6L479.9 155.5L482.3 156.3L484.6 156.8L487.0 157.0L489.3 157.4L491.6 158.6L494.0 160.5L496.3 162.7L498.6 165.0L500.9 167.2L503.2 169.1L505.6 170.5L507.9 171.4L510.2 171.7L513.4 171.2L516.6 169.8L519.7 167.6L522.9 164.9L526.1 162.0L529.3 159.1L532.5 156.5L535.6 154.4L538.8 153.1L542.0 152.7L545.9 152.8L549.8 153.3L553.6 154.0L557.5 154.9L561.4 155.7L565.3 156.6L569.2 157.2L573.0 157.8L576.9 158.1L580.8 158.2L584.0 158.2L587.2 158.4L590.4 158.5L593.6 158.6L596.8 158.5L600.1 158.3L603.3 157.9L606.5 157.6L609.7 157.3L612.9 157.2M612.9 162.4L615.2 162.4L617.4 162.2L619.7 162.1L621.9 162.0L624.2 162.0L626.5 162.2L628.7 162.5L631.0 162.8L633.2 163.0L635.5 163.1"/></g><clipPath id="cb2"><rect x="34.8" y="317.6" width="173.89999999999998" height="242.29999999999995"/></clipPath><g clip-path="url(#cb2)" fill="none" stroke="#c0c0c0" stroke-width="1.15"><path d="M34.8 383.5L37.2 383.7L39.5 384.2L41.9 384.8L44.2 385.3L46.6 385.6L49.0 385.6L51.3 385.4L53.7 385.0L56.0 384.7L58.4 384.6L60.7 384.1L63.0 382.8L65.3 380.9L67.6 378.4L69.9 375.7L72.2 373.1L74.5 370.8L76.8 369.0L79.1 367.9L81.4 367.5L84.5 367.9L87.7 368.9L90.8 370.7L93.9 373.0L97.1 375.8L100.2 378.7L103.3 381.5L106.4 383.8L109.6 385.4L112.7 385.9L116.7 385.2L120.6 383.0L124.5 379.8L128.5 375.7L132.4 371.3L136.4 367.1L140.3 363.3L144.3 360.3L148.2 358.4L152.2 357.8L155.4 358.6L158.6 361.0L161.8 364.6L165.0 368.7L168.1 373.0L171.3 376.9L174.5 380.1L177.7 382.4L180.9 383.8L184.1 384.3M184.1 368.3L186.6 368.1L189.0 367.5L191.5 366.4L193.9 365.0L196.4 363.2L198.9 361.3L201.3 359.5L203.8 357.9L206.2 356.8L208.7 356.5"/><path d="M34.8 384.1L37.2 383.7L39.5 382.4L41.9 380.4L44.2 378.0L46.6 375.3L49.0 372.6L51.3 370.3L53.7 368.4L56.0 367.2L58.4 366.8L60.7 366.9L63.0 367.1L65.3 367.3L67.6 367.5L69.9 367.5L72.2 367.3L74.5 367.0L76.8 366.6L79.1 366.4L81.4 366.3L84.5 366.9L87.7 368.7L90.8 371.3L93.9 374.3L97.1 377.3L100.2 379.8L103.3 381.7L106.4 383.0L109.6 383.8L112.7 384.0L116.7 383.3L120.6 381.4L124.5 378.4L128.5 374.6L132.4 370.4L136.4 366.1L140.3 362.3L144.3 359.2L148.2 357.2L152.2 356.5L155.4 357.1L158.6 358.7L161.8 360.9L165.0 363.3L168.1 365.4L171.3 367.0L174.5 368.0L177.7 368.4L180.9 368.5L184.1 368.5M184.1 365.5L186.6 365.0L189.0 363.6L191.5 361.6L193.9 359.6L196.4 358.0L198.9 357.0L201.3 356.8L203.8 356.9L206.2 357.2L208.7 357.3"/><path d="M34.8 384.5L37.2 384.2L39.5 383.4L41.9 382.1L44.2 380.1L46.6 377.6L49.0 374.8L51.3 372.0L53.7 369.6L56.0 367.9L58.4 367.3L60.7 367.5L63.0 368.0L65.3 368.6L67.6 369.1L69.9 369.4L72.2 369.3L74.5 369.0L76.8 368.5L79.1 368.2L81.4 368.0L84.5 368.4L87.7 369.6L90.8 371.5L93.9 373.7L97.1 376.2L100.2 378.6L103.3 380.6L106.4 382.3L109.6 383.3L112.7 383.6L116.7 383.0L120.6 381.2L124.5 378.3L128.5 374.6L132.4 370.4L136.4 366.2L140.3 362.4L144.3 359.4L148.2 357.4L152.2 356.7L155.4 356.8L158.6 357.2L161.8 357.9L165.0 359.1L168.1 360.7L171.3 362.7L174.5 364.8L177.7 366.7L180.9 368.0L184.1 368.5M184.1 359.4L186.6 359.2L189.0 358.6L191.5 357.8L193.9 357.0L196.4 356.4L198.9 356.2L201.3 356.3L203.8 356.5L206.2 356.8L208.7 356.9"/><path d="M34.8 380.1L37.2 379.7L39.5 378.6L41.9 376.9L44.2 374.9L46.6 372.9L49.0 371.0L51.3 369.5L53.7 368.3L56.0 367.6L58.4 367.4L60.7 367.1L63.0 366.2L65.3 364.8L67.6 363.0L69.9 361.1L72.2 359.1L74.5 357.3L76.8 355.8L79.1 354.9L81.4 354.6L84.5 355.4L87.7 357.9L90.8 361.6L93.9 366.0L97.1 370.7L100.2 375.1L103.3 378.8L106.4 381.6L109.6 383.3L112.7 383.9L116.7 383.5L120.6 382.5L124.5 380.7L128.5 378.0L132.4 374.3L136.4 370.1L140.3 365.7L144.3 361.8L148.2 359.2L152.2 358.2L155.4 358.5L158.6 359.3L161.8 360.5L165.0 361.9L168.1 363.3L171.3 364.5L174.5 365.4L177.7 366.0L180.9 366.4L184.1 366.5M184.1 355.0L186.6 354.7L189.0 353.9L191.5 353.0L193.9 352.3L196.4 352.0L198.9 352.4L201.3 353.2L203.8 354.3L206.2 355.1L208.7 355.4"/><path d="M34.8 350.5L37.2 351.0L39.5 352.4L41.9 354.4L44.2 356.9L46.6 359.5L49.0 362.0L51.3 364.1L53.7 365.7L56.0 366.6L58.4 367.0L60.7 366.7L63.0 366.1L65.3 365.3L67.6 364.7L69.9 364.5L72.2 364.8L74.5 365.5L76.8 366.4L79.1 367.1L81.4 367.3L84.5 366.9L87.7 365.5L90.8 363.4L93.9 360.8L97.1 358.0L100.2 355.3L103.3 352.9L106.4 351.1L109.6 350.0L112.7 349.6L116.7 349.7L120.6 350.3L124.5 351.1L128.5 352.1L132.4 353.3L136.4 354.5L140.3 355.6L144.3 356.5L148.2 357.1L152.2 357.3L155.4 357.1L158.6 356.5L161.8 355.6L165.0 354.4L168.1 353.2L171.3 351.9L174.5 350.8L177.7 349.9L180.9 349.3L184.1 349.1M184.1 343.6L186.6 344.0L189.0 345.0L191.5 346.6L193.9 348.5L196.4 350.5L198.9 352.4L201.3 353.9L203.8 355.0L206.2 355.7L208.7 356.0"/><path d="M34.8 348.4L37.2 348.2L39.5 347.9L41.9 347.6L44.2 347.4L46.6 347.4L49.0 347.6L51.3 348.1L53.7 348.6L56.0 349.0L58.4 349.2L60.7 349.1L63.0 348.6L65.3 348.0L67.6 347.2L69.9 346.4L72.2 345.7L74.5 345.1L76.8 344.6L79.1 344.3L81.4 344.2L84.5 344.3L87.7 344.4L90.8 344.7L93.9 345.1L97.1 345.7L100.2 346.4L103.3 347.1L106.4 347.7L109.6 348.2L112.7 348.3L116.7 348.4L120.6 348.8L124.5 349.4L128.5 350.2L132.4 351.3L136.4 352.7L140.3 354.0L144.3 355.1L148.2 355.9L152.2 356.2L155.4 355.5L158.6 353.4L161.8 350.7L165.0 347.8L168.1 345.6L171.3 344.2L174.5 343.7L177.7 343.9L180.9 344.2L184.1 344.4M184.1 344.8L186.6 345.2L189.0 346.3L191.5 348.0L193.9 350.0L196.4 352.0L198.9 353.8L201.3 355.3L203.8 356.3L206.2 357.0L208.7 357.2"/><path d="M34.8 348.5L37.2 348.4L39.5 348.1L41.9 347.8L44.2 347.3L46.6 346.7L49.0 346.2L51.3 345.8L53.7 345.4L56.0 345.2L58.4 345.1L60.7 345.2L63.0 345.3L65.3 345.5L67.6 345.5L69.9 345.3L72.2 345.0L74.5 344.5L76.8 343.9L79.1 343.5L81.4 343.4L84.5 343.8L87.7 344.8L90.8 346.2L93.9 347.5L97.1 348.4L100.2 348.7L103.3 348.5L106.4 347.9L109.6 347.4L112.7 347.2L116.7 347.6L120.6 348.8L124.5 350.4L128.5 352.2L132.4 353.9L136.4 355.2L140.3 356.0L144.3 356.5L148.2 356.7L152.2 356.7L155.4 356.5L158.6 355.8L161.8 354.7L165.0 353.2L168.1 351.3L171.3 349.2L174.5 347.1L177.7 345.4L180.9 344.2L184.1 343.8M184.1 354.8L186.6 355.0L189.0 355.5L191.5 356.0L193.9 356.5L196.4 356.7L198.9 356.6L201.3 356.3L203.8 355.8L206.2 355.5L208.7 355.3"/><path d="M34.8 341.5L37.2 341.6L39.5 341.7L41.9 341.9L44.2 342.3L46.6 342.7L49.0 343.2L51.3 343.8L53.7 344.2L56.0 344.6L58.4 344.7L60.7 344.7L63.0 344.9L65.3 345.4L67.6 346.2L69.9 347.5L72.2 349.2L74.5 351.0L76.8 352.7L79.1 353.9L81.4 354.3L84.5 354.0L87.7 353.2L90.8 351.9L93.9 350.3L97.1 348.5L100.2 346.6L103.3 345.0L106.4 343.6L109.6 342.8L112.7 342.5L116.7 343.0L120.6 344.6L124.5 347.0L128.5 349.7L132.4 352.5L136.4 354.9L140.3 356.7L144.3 358.0L148.2 358.8L152.2 359.0L155.4 358.7L158.6 357.6L161.8 355.7L165.0 353.0L168.1 349.6L171.3 345.9L174.5 342.1L177.7 339.0L180.9 336.8L184.1 336.0M184.1 360.6L186.6 360.9L189.0 361.5L191.5 362.2L193.9 362.7L196.4 362.6L198.9 361.9L201.3 360.7L203.8 359.4L206.2 358.4L208.7 358.0"/><path d="M34.8 336.6L37.2 336.8L39.5 337.2L41.9 337.7L44.2 338.3L46.6 338.7L49.0 339.0L51.3 339.1L53.7 339.1L56.0 339.0L58.4 339.0L60.7 339.2L63.0 339.8L65.3 340.6L67.6 341.6L69.9 342.4L72.2 343.0L74.5 343.4L76.8 343.5L79.1 343.6L81.4 343.6L84.5 343.3L87.7 342.6L90.8 341.5L93.9 340.3L97.1 339.3L100.2 338.5L103.3 338.0L106.4 337.7L109.6 337.6L112.7 337.6L116.7 338.1L120.6 339.3L124.5 341.3L128.5 343.8L132.4 346.6L136.4 349.3L140.3 351.7L144.3 353.6L148.2 354.8L152.2 355.2L155.4 354.9L158.6 354.0L161.8 352.8L165.0 351.4L168.1 350.2L171.3 349.3L174.5 348.7L177.7 348.5L180.9 348.4L184.1 348.4M184.1 345.0L186.6 345.3L189.0 346.4L191.5 348.0L193.9 350.0L196.4 351.9L198.9 353.8L201.3 355.3L203.8 356.4L206.2 357.0L208.7 357.2"/><path d="M34.8 335.0L37.2 335.4L39.5 336.5L41.9 338.1L44.2 340.1L46.6 342.2L49.0 344.2L51.3 345.8L53.7 347.1L56.0 347.9L58.4 348.1L60.7 347.6L63.0 346.2L65.3 344.1L67.6 341.5L69.9 338.8L72.2 336.3L74.5 334.2L76.8 332.6L79.1 331.6L81.4 331.3L84.5 331.4L87.7 331.7L90.8 332.2L93.9 332.7L97.1 333.2L100.2 333.5L103.3 333.8L106.4 333.9L109.6 334.0L112.7 334.0L116.7 334.6L120.6 336.4L124.5 339.2L128.5 342.6L132.4 346.2L136.4 349.7L140.3 352.7L144.3 355.0L148.2 356.5L152.2 357.0L155.4 357.3L158.6 358.1L161.8 359.4L165.0 360.9L168.1 362.5L171.3 364.0L174.5 365.2L177.7 366.0L180.9 366.6L184.1 366.8M184.1 364.4L186.6 364.0L189.0 363.0L191.5 361.6L193.9 360.1L196.4 358.7L198.9 357.5L201.3 356.7L203.8 356.2L206.2 356.0L208.7 355.9"/><path d="M34.8 333.2L37.2 332.8L39.5 331.7L41.9 330.1L44.2 328.5L46.6 327.2L49.0 326.4L51.3 326.0L53.7 326.0L56.0 326.1L58.4 326.2L60.7 326.2L63.0 326.2L65.3 326.3L67.6 326.6L69.9 327.0L72.2 327.5L74.5 328.1L76.8 328.6L79.1 328.9L81.4 329.1L84.5 329.3L87.7 330.0L90.8 331.0L93.9 332.2L97.1 333.3L100.2 334.2L103.3 334.9L106.4 335.4L109.6 335.6L112.7 335.7L116.7 336.1L120.6 337.5L124.5 339.5L128.5 342.1L132.4 345.1L136.4 348.0L140.3 350.7L144.3 352.9L148.2 354.3L152.2 354.8L155.4 354.4L158.6 353.4L161.8 352.0L165.0 350.4L168.1 348.8L171.3 347.5L174.5 346.5L177.7 345.9L180.9 345.6L184.1 345.5M184.1 328.4L186.6 329.1L189.0 331.2L191.5 334.4L193.9 338.4L196.4 342.8L198.9 347.0L201.3 350.7L203.8 353.5L206.2 355.3L208.7 355.9"/><path d="M34.8 320.5L37.2 320.4L39.5 320.1L41.9 319.6L44.2 319.0L46.6 318.5L49.0 318.1L51.3 317.7L53.7 317.5L56.0 317.4L58.4 317.3L60.7 317.4L63.0 317.5L65.3 317.7L67.6 318.0L69.9 318.2L72.2 318.5L74.5 318.7L76.8 318.8L79.1 318.9L81.4 318.9L84.5 319.0L87.7 319.2L90.8 319.5L93.9 319.7L97.1 319.8L100.2 319.7L103.3 319.6L106.4 319.3L109.6 319.1L112.7 319.0L116.7 318.5L120.6 317.1L124.5 315.0L128.5 312.9L132.4 310.9L136.4 309.5L140.3 308.7L144.3 308.4L148.2 308.3L152.2 308.3L155.4 308.9L158.6 310.5L161.8 312.9L165.0 315.8L168.1 318.8L171.3 321.5L174.5 323.8L177.7 325.5L180.9 326.5L184.1 326.9M184.1 316.4L186.6 316.2L189.0 315.7L191.5 315.0L193.9 314.3L196.4 313.7L198.9 313.2L201.3 312.9L203.8 312.8L206.2 312.8L208.7 312.8"/><path d="M34.8 307.5L37.2 307.9L39.5 309.2L41.9 311.2L44.2 313.7L46.6 316.4L49.0 319.1L51.3 321.4L53.7 323.3L56.0 324.4L58.4 324.8L60.7 324.3L63.0 322.8L65.3 320.4L67.6 317.5L69.9 314.2L72.2 310.9L74.5 308.0L76.8 305.6L79.1 304.1L81.4 303.6L84.5 303.6L87.7 303.5L90.8 303.4L93.9 303.6L97.1 304.2L100.2 305.1L103.3 306.1L106.4 307.2L109.6 308.0L112.7 308.3L116.7 308.4L120.6 308.9L124.5 309.6L128.5 310.2L132.4 310.7L136.4 311.0L140.3 311.0L144.3 310.8L148.2 310.7L152.2 310.6L155.4 310.7L158.6 311.1L161.8 311.7L165.0 312.5L168.1 313.4L171.3 314.4L174.5 315.4L177.7 316.2L180.9 316.8L184.1 317.0M184.1 307.0L186.6 307.2L189.0 307.6L191.5 308.2L193.9 308.9L196.4 309.4L198.9 309.8L201.3 310.0L203.8 310.0L206.2 310.0L208.7 310.0"/><path d="M34.8 326.2L37.2 325.9L39.5 325.1L41.9 323.6L44.2 321.7L46.6 319.4L49.0 317.0L51.3 314.6L53.7 312.6L56.0 311.3L58.4 310.8L60.7 310.9L63.0 311.3L65.3 311.9L67.6 312.8L69.9 313.8L72.2 314.8L74.5 315.9L76.8 316.7L79.1 317.3L81.4 317.5L84.5 317.6L87.7 318.0L90.8 318.6L93.9 319.4L97.1 320.5L100.2 321.7L103.3 322.9L106.4 323.9L109.6 324.5L112.7 324.8L116.7 324.7L120.6 324.3L124.5 323.4L128.5 321.6L132.4 318.8L136.4 315.3L140.3 311.3L144.3 307.7L148.2 305.2L152.2 304.3L155.4 304.3L158.6 304.6L161.8 305.0L165.0 305.5L168.1 306.0L171.3 306.5L174.5 307.0L177.7 307.3L180.9 307.5L184.1 307.6M184.1 313.9L186.6 313.7L189.0 313.0L191.5 312.0L193.9 310.8L196.4 309.4L198.9 308.0L201.3 306.8L203.8 305.8L206.2 305.2L208.7 305.0"/><path d="M34.8 344.9L37.2 345.1L39.5 345.5L41.9 346.1L44.2 346.7L46.6 347.3L49.0 347.7L51.3 347.9L53.7 348.0L56.0 348.0L58.4 348.0L60.7 347.8L63.0 347.0L65.3 345.7L67.6 343.9L69.9 341.8L72.2 339.6L74.5 337.4L76.8 335.5L79.1 334.3L81.4 333.8L84.5 334.3L87.7 335.5L90.8 337.5L93.9 339.9L97.1 342.6L100.2 345.2L103.3 347.6L106.4 349.4L109.6 350.6L112.7 351.0L116.7 351.3L120.6 352.2L124.5 353.4L128.5 354.7L132.4 355.9L136.4 356.7L140.3 357.2L144.3 357.4L148.2 357.5L152.2 357.5L155.4 357.3L158.6 356.8L161.8 355.9L165.0 354.4L168.1 352.3L171.3 349.9L174.5 347.3L177.7 345.0L180.9 343.4L184.1 342.8M184.1 346.5L186.6 346.4L189.0 346.4L191.5 346.7L193.9 347.4L196.4 348.8L198.9 350.7L201.3 353.0L203.8 355.1L206.2 356.6L208.7 357.1"/><path d="M34.8 295.7L37.2 296.4L39.5 298.4L41.9 301.4L44.2 305.0L46.6 308.5L49.0 311.6L51.3 314.1L53.7 315.9L56.0 316.9L58.4 317.2L60.7 317.0L63.0 316.2L65.3 314.7L67.6 312.2L69.9 308.8L72.2 304.6L74.5 300.3L76.8 296.4L79.1 293.7L81.4 292.7L84.5 292.9L87.7 293.7L90.8 295.0L93.9 296.9L97.1 299.4L100.2 302.2L103.3 304.9L106.4 307.3L109.6 309.0L112.7 309.6L116.7 309.6L120.6 309.7L124.5 309.7L128.5 309.5L132.4 309.0L136.4 308.1L140.3 307.0L144.3 305.9L148.2 305.1L152.2 304.8L155.4 304.9L158.6 305.0L161.8 305.4L165.0 306.4L168.1 307.9L171.3 309.9L174.5 312.2L177.7 314.4L180.9 315.9L184.1 316.4M184.1 307.1L186.6 306.8L189.0 305.9L191.5 304.8L193.9 303.9L196.4 303.6L198.9 303.9L201.3 304.8L203.8 305.8L206.2 306.7L208.7 307.0"/><path d="M34.8 348.1L37.2 348.2L39.5 348.5L41.9 349.0L44.2 349.7L46.6 350.4L49.0 351.1L51.3 351.8L53.7 352.3L56.0 352.7L58.4 352.8L60.7 352.8L63.0 352.8L65.3 352.6L67.6 351.9L69.9 350.6L72.2 348.8L74.5 346.7L76.8 344.7L79.1 343.2L81.4 342.7L84.5 343.1L87.7 344.3L90.8 345.8L93.9 347.4L97.1 348.7L100.2 349.5L103.3 349.9L106.4 349.9L109.6 349.7L112.7 349.6L116.7 349.8L120.6 350.2L124.5 351.0L128.5 352.0L132.4 353.2L136.4 354.5L140.3 355.8L144.3 356.9L148.2 357.6L152.2 357.9L155.4 357.6L158.6 356.8L161.8 355.7L165.0 354.5L168.1 353.4L171.3 352.6L174.5 352.2L177.7 351.9L180.9 351.9L184.1 351.9M184.1 348.0L186.6 348.3L189.0 349.0L191.5 350.1L193.9 351.4L196.4 352.8L198.9 353.9L201.3 354.9L203.8 355.5L206.2 355.9L208.7 356.1"/><path d="M34.8 348.2L37.2 348.2L39.5 348.0L41.9 347.6L44.2 346.9L46.6 345.8L49.0 344.3L51.3 342.8L53.7 341.3L56.0 340.3L58.4 340.0L60.7 340.7L63.0 342.6L65.3 345.2L67.6 348.0L69.9 350.4L72.2 352.0L74.5 352.9L76.8 353.1L79.1 353.0L81.4 352.9L84.5 352.6L87.7 351.6L90.8 350.1L93.9 348.3L97.1 346.3L100.2 344.3L103.3 342.6L106.4 341.2L109.6 340.3L112.7 340.1L116.7 340.6L120.6 342.0L124.5 344.2L128.5 346.8L132.4 349.6L136.4 352.3L140.3 354.6L144.3 356.3L148.2 357.4L152.2 357.8L155.4 357.4L158.6 356.3L161.8 354.8L165.0 353.2L168.1 351.8L171.3 350.7L174.5 350.0L177.7 349.7L180.9 349.6L184.1 349.5M184.1 341.6L186.6 342.0L189.0 342.9L191.5 344.3L193.9 346.1L196.4 348.1L198.9 350.2L201.3 352.2L203.8 353.7L206.2 354.7L208.7 355.1"/><path d="M34.8 343.8L37.2 344.5L39.5 346.4L41.9 349.5L44.2 353.4L46.6 357.9L49.0 362.6L51.3 366.8L53.7 370.2L56.0 372.5L58.4 373.2L60.7 372.8L63.0 371.7L65.3 370.1L67.6 368.4L69.9 366.8L72.2 365.7L74.5 365.1L76.8 364.8L79.1 364.7L81.4 364.7L84.5 364.4L87.7 363.6L90.8 362.5L93.9 361.3L97.1 360.3L100.2 359.5L103.3 359.1L106.4 359.0L109.6 359.0L112.7 359.0L116.7 359.2L120.6 359.6L124.5 360.1L128.5 360.5L132.4 360.5L136.4 360.0L140.3 359.3L144.3 358.5L148.2 357.8L152.2 357.6L155.4 357.5L158.6 357.4L161.8 357.1L165.0 356.5L168.1 355.7L171.3 354.8L174.5 353.8L177.7 352.9L180.9 352.3L184.1 352.1M184.1 346.6L186.6 346.6L189.0 346.7L191.5 347.1L193.9 347.8L196.4 349.0L198.9 350.7L201.3 352.6L203.8 354.3L206.2 355.5L208.7 355.9"/><path d="M34.8 340.3L37.2 340.2L39.5 340.0L41.9 339.3L44.2 338.1L46.6 336.1L49.0 333.6L51.3 330.8L53.7 328.2L56.0 326.4L58.4 325.8L60.7 326.1L63.0 327.0L65.3 328.5L67.6 330.6L69.9 333.2L72.2 336.0L74.5 338.9L76.8 341.3L79.1 342.9L81.4 343.5L84.5 343.1L87.7 342.2L90.8 340.8L93.9 339.4L97.1 338.1L100.2 337.1L103.3 336.6L106.4 336.3L109.6 336.3L112.7 336.3L116.7 336.8L120.6 338.4L124.5 340.8L128.5 343.7L132.4 346.8L136.4 349.8L140.3 352.3L144.3 354.2L148.2 355.4L152.2 355.9L155.4 356.0L158.6 356.3L161.8 356.6L165.0 356.8L168.1 356.9L171.3 356.6L174.5 356.2L177.7 355.7L180.9 355.3L184.1 355.2M184.1 343.4L186.6 343.6L189.0 344.0L191.5 344.8L193.9 346.1L196.4 348.0L198.9 350.2L201.3 352.7L203.8 354.8L206.2 356.3L208.7 356.8"/><path d="M34.8 306.9L37.2 307.2L39.5 308.3L41.9 310.0L44.2 312.3L46.6 314.8L49.0 317.5L51.3 319.9L53.7 321.9L56.0 323.2L58.4 323.6L60.7 322.9L63.0 320.9L65.3 318.0L67.6 314.6L69.9 311.2L72.2 308.3L74.5 306.0L76.8 304.5L79.1 303.6L81.4 303.3L84.5 303.2L87.7 303.0L90.8 302.6L93.9 302.2L97.1 301.8L100.2 301.5L103.3 301.3L106.4 301.2L109.6 301.2L112.7 301.2L116.7 301.4L120.6 302.2L124.5 303.3L128.5 304.4L132.4 305.2L136.4 305.7L140.3 305.8L144.3 305.7L148.2 305.5L152.2 305.4L155.4 305.6L158.6 306.2L161.8 307.3L165.0 309.1L168.1 311.5L171.3 314.3L174.5 317.3L177.7 320.0L180.9 321.8L184.1 322.5M184.1 300.5L186.6 300.5L189.0 300.5L191.5 300.5L193.9 300.6L196.4 301.0L198.9 301.5L201.3 302.2L203.8 302.8L206.2 303.3L208.7 303.5"/><path d="M34.8 350.6L37.2 350.1L39.5 348.5L41.9 346.4L44.2 343.9L46.6 341.6L49.0 339.8L51.3 338.5L53.7 337.7L56.0 337.3L58.4 337.2L60.7 337.0L63.0 336.7L65.3 336.5L67.6 336.6L69.9 337.2L72.2 338.3L74.5 339.8L76.8 341.2L79.1 342.3L81.4 342.7L84.5 342.9L87.7 343.4L90.8 344.2L93.9 345.1L97.1 346.0L100.2 346.9L103.3 347.6L106.4 348.1L109.6 348.4L112.7 348.5L116.7 348.8L120.6 349.8L124.5 351.1L128.5 352.5L132.4 354.0L136.4 355.1L140.3 356.0L144.3 356.5L148.2 356.8L152.2 356.9L155.4 356.6L158.6 356.0L161.8 355.0L165.0 353.7L168.1 352.3L171.3 350.9L174.5 349.7L177.7 348.6L180.9 348.0L184.1 347.8M184.1 342.5L186.6 342.5L189.0 342.6L191.5 343.1L193.9 344.2L196.4 346.2L198.9 348.9L201.3 352.0L203.8 354.8L206.2 356.9L208.7 357.6"/><path d="M34.8 513.4L37.2 513.3L39.5 513.3L41.9 513.3L44.2 513.2L46.6 513.2L49.0 513.1L51.3 513.0L53.7 513.0L56.0 513.0L58.4 513.0L60.7 512.9L63.0 512.9L65.3 512.8L67.6 512.7L69.9 512.6L72.2 512.5L74.5 512.4L76.8 512.3L79.1 512.3L81.4 512.3L84.5 512.3L87.7 512.3L90.8 512.3L93.9 512.3L97.1 512.4L100.2 512.4L103.3 512.4L106.4 512.4L109.6 512.4L112.7 512.4L116.7 512.5L120.6 512.5L124.5 512.6L128.5 512.6L132.4 512.7L136.4 512.8L140.3 512.9L144.3 512.9L148.2 513.0L152.2 513.0L155.4 513.0L158.6 512.9L161.8 512.8L165.0 512.7L168.1 512.6L171.3 512.5L174.5 512.4L177.7 512.3L180.9 512.2L184.1 512.2M184.1 512.0L186.6 512.0L189.0 512.1L191.5 512.2L193.9 512.3L196.4 512.5L198.9 512.6L201.3 512.8L203.8 512.9L206.2 513.0L208.7 513.0"/><path d="M34.8 513.0L37.2 513.0L39.5 513.0L41.9 512.9L44.2 512.9L46.6 512.8L49.0 512.7L51.3 512.7L53.7 512.6L56.0 512.6L58.4 512.6L60.7 512.6L63.0 512.6L65.3 512.6L67.6 512.5L69.9 512.5L72.2 512.5L74.5 512.5L76.8 512.5L79.1 512.5L81.4 512.5L84.5 512.5L87.7 512.5L90.8 512.5L93.9 512.5L97.1 512.5L100.2 512.5L103.3 512.5L106.4 512.5L109.6 512.5L112.7 512.5L116.7 512.5L120.6 512.5L124.5 512.6L128.5 512.6L132.4 512.7L136.4 512.8L140.3 512.9L144.3 512.9L148.2 513.0L152.2 513.0L155.4 513.0L158.6 513.0L161.8 513.0L165.0 513.0L168.1 513.0L171.3 513.0L174.5 513.0L177.7 513.0L180.9 513.0L184.1 513.0M184.1 512.9L186.6 512.9L189.0 512.9L191.5 512.9L193.9 512.9L196.4 512.9L198.9 513.0L201.3 513.0L203.8 513.0L206.2 513.0L208.7 513.0"/><path d="M34.8 512.6L37.2 512.6L39.5 512.6L41.9 512.6L44.2 512.6L46.6 512.6L49.0 512.6L51.3 512.6L53.7 512.7L56.0 512.7L58.4 512.7L60.7 512.7L63.0 512.6L65.3 512.5L67.6 512.5L69.9 512.4L72.2 512.3L74.5 512.2L76.8 512.1L79.1 512.1L81.4 512.1L84.5 512.1L87.7 512.2L90.8 512.3L93.9 512.4L97.1 512.5L100.2 512.7L103.3 512.8L106.4 512.9L109.6 513.0L112.7 513.0L116.7 513.0L120.6 513.0L124.5 513.0L128.5 513.0L132.4 513.0L136.4 513.0L140.3 513.0L144.3 513.0L148.2 513.0L152.2 513.0L155.4 513.0L158.6 513.1L161.8 513.1L165.0 513.2L168.1 513.3L171.3 513.4L174.5 513.5L177.7 513.6L180.9 513.6L184.1 513.6M184.1 512.5L186.6 512.5L189.0 512.5L191.5 512.6L193.9 512.7L196.4 512.7L198.9 512.8L201.3 512.9L203.8 512.9L206.2 513.0L208.7 513.0"/><path d="M34.8 557.0L37.2 556.7L39.5 555.7L41.9 554.5L44.2 553.2L46.6 552.2L49.0 551.5L51.3 551.3L53.7 551.4L56.0 551.5L58.4 551.6L60.7 551.7L63.0 552.1L65.3 552.5L67.6 552.9L69.9 553.2L72.2 553.3L74.5 553.2L76.8 553.0L79.1 552.8L81.4 552.7L84.5 552.7L87.7 552.6L90.8 552.6L93.9 552.6L97.1 552.7L100.2 552.8L103.3 553.1L106.4 553.3L109.6 553.5L112.7 553.6L116.7 553.4L120.6 552.9L124.5 551.9L128.5 550.6L132.4 548.8L136.4 546.8L140.3 544.7L144.3 542.9L148.2 541.7L152.2 541.3L155.4 541.6L158.6 542.5L161.8 543.9L165.0 545.7L168.1 547.7L171.3 549.7L174.5 551.6L177.7 553.1L180.9 554.1L184.1 554.5M184.1 551.7L186.6 551.4L189.0 550.6L191.5 549.4L193.9 547.7L196.4 545.9L198.9 544.0L201.3 542.3L203.8 540.9L206.2 540.0L208.7 539.7"/><path d="M34.8 555.0L37.2 555.1L39.5 555.2L41.9 555.3L44.2 555.0L46.6 554.3L49.0 553.2L51.3 551.9L53.7 550.6L56.0 549.7L58.4 549.4L60.7 549.5L63.0 549.8L65.3 550.3L67.6 550.8L69.9 551.2L72.2 551.6L74.5 551.8L76.8 551.9L79.1 552.0L81.4 552.0L84.5 551.9L87.7 551.7L90.8 551.4L93.9 551.4L97.1 551.6L100.2 552.1L103.3 552.8L106.4 553.5L109.6 554.1L112.7 554.3L116.7 553.4L120.6 550.8L124.5 546.9L128.5 542.1L132.4 536.8L136.4 531.7L140.3 527.2L144.3 523.8L148.2 521.6L152.2 520.8L155.4 521.6L158.6 523.9L161.8 527.6L165.0 532.4L168.1 537.7L171.3 543.1L174.5 548.2L177.7 552.2L180.9 554.8L184.1 555.7M184.1 548.3L186.6 548.0L189.0 547.3L191.5 546.1L193.9 544.5L196.4 542.5L198.9 540.3L201.3 538.2L203.8 536.4L206.2 535.2L208.7 534.8"/><path d="M34.8 556.7L37.2 556.5L39.5 556.2L41.9 555.7L44.2 555.2L46.6 554.8L49.0 554.6L51.3 554.6L53.7 554.7L56.0 554.8L58.4 554.8L60.7 554.9L63.0 554.9L65.3 555.0L67.6 555.0L69.9 555.0L72.2 554.9L74.5 554.8L76.8 554.7L79.1 554.6L81.4 554.6L84.5 554.4L87.7 554.0L90.8 553.4L93.9 552.8L97.1 552.3L100.2 552.1L103.3 552.0L106.4 552.1L109.6 552.3L112.7 552.3L116.7 551.9L120.6 550.6L124.5 548.7L128.5 546.5L132.4 544.1L136.4 542.0L140.3 540.2L144.3 538.8L148.2 538.0L152.2 537.7L155.4 538.1L158.6 539.1L161.8 540.7L165.0 542.7L168.1 545.0L171.3 547.4L174.5 549.5L177.7 551.3L180.9 552.4L184.1 552.8M184.1 554.2L186.6 554.1L189.0 553.9L191.5 553.5L193.9 552.9L196.4 552.2L198.9 551.3L201.3 550.3L203.8 549.5L206.2 549.0L208.7 548.8"/><path d="M34.8 549.0L37.2 548.9L39.5 548.6L41.9 548.1L44.2 547.6L46.6 547.0L49.0 546.5L51.3 546.1L53.7 545.7L56.0 545.5L58.4 545.5L60.7 545.5L63.0 545.5L65.3 545.8L67.6 546.3L69.9 547.3L72.2 548.6L74.5 550.2L76.8 551.6L79.1 552.6L81.4 553.0L84.5 552.9L87.7 552.7L90.8 552.3L93.9 551.8L97.1 551.1L100.2 550.3L103.3 549.5L106.4 548.9L109.6 548.4L112.7 548.3L116.7 547.6L120.6 545.5L124.5 542.4L128.5 538.4L132.4 534.2L136.4 530.0L140.3 526.3L144.3 523.4L148.2 521.6L152.2 521.0L155.4 521.7L158.6 523.7L161.8 526.9L165.0 530.8L168.1 535.2L171.3 539.5L174.5 543.3L177.7 546.4L180.9 548.3L184.1 549.0M184.1 554.6L186.6 554.0L189.0 552.5L191.5 550.2L193.9 547.4L196.4 544.5L198.9 541.7L201.3 539.3L203.8 537.5L206.2 536.4L208.7 536.0"/><path d="M34.8 553.9L37.2 553.8L39.5 553.4L41.9 552.7L44.2 551.8L46.6 550.6L49.0 549.2L51.3 547.9L53.7 546.7L56.0 545.9L58.4 545.6L60.7 545.7L63.0 546.2L65.3 547.0L67.6 548.0L69.9 549.2L72.2 550.4L74.5 551.7L76.8 552.7L79.1 553.4L81.4 553.6L84.5 553.4L87.7 552.7L90.8 551.8L93.9 550.7L97.1 549.6L100.2 548.7L103.3 548.0L106.4 547.6L109.6 547.3L112.7 547.2L116.7 546.9L120.6 545.8L124.5 544.3L128.5 542.5L132.4 540.5L136.4 538.6L140.3 536.9L144.3 535.7L148.2 534.9L152.2 534.6L155.4 535.2L158.6 536.8L161.8 539.2L165.0 542.1L168.1 545.3L171.3 548.4L174.5 551.1L177.7 553.1L180.9 554.4L184.1 554.9M184.1 549.8L186.6 549.5L189.0 548.7L191.5 547.5L193.9 546.1L196.4 544.7L198.9 543.5L201.3 542.5L203.8 541.8L206.2 541.4L208.7 541.2"/><path d="M34.8 550.9L37.2 550.8L39.5 550.4L41.9 549.8L44.2 549.0L46.6 548.2L49.0 547.3L51.3 546.5L53.7 545.9L56.0 545.6L58.4 545.4L60.7 545.6L63.0 546.1L65.3 546.9L67.6 547.8L69.9 548.9L72.2 550.0L74.5 550.9L76.8 551.7L79.1 552.2L81.4 552.4L84.5 552.3L87.7 552.1L90.8 551.8L93.9 551.3L97.1 550.6L100.2 549.8L103.3 549.0L106.4 548.4L109.6 547.9L112.7 547.7L116.7 547.0L120.6 545.1L124.5 542.0L128.5 538.0L132.4 533.5L136.4 529.0L140.3 524.8L144.3 521.5L148.2 519.4L152.2 518.6L155.4 519.3L158.6 521.4L161.8 524.6L165.0 528.8L168.1 533.6L171.3 538.5L174.5 543.0L177.7 546.7L180.9 549.1L184.1 549.9M184.1 544.4L186.6 544.4L189.0 544.2L191.5 543.8L193.9 543.4L196.4 542.9L198.9 542.4L201.3 541.8L203.8 541.4L206.2 541.1L208.7 541.0"/><path d="M34.8 544.4L37.2 544.8L39.5 545.9L41.9 547.5L44.2 549.3L46.6 551.2L49.0 552.9L51.3 554.2L53.7 555.1L56.0 555.6L58.4 555.8L60.7 555.8L63.0 555.7L65.3 555.6L67.6 555.3L69.9 554.8L72.2 554.1L74.5 553.3L76.8 552.5L79.1 552.0L81.4 551.8L84.5 551.9L87.7 552.2L90.8 552.6L93.9 552.9L97.1 552.9L100.2 552.5L103.3 552.0L106.4 551.3L109.6 550.9L112.7 550.7L116.7 550.4L120.6 549.4L124.5 547.9L128.5 545.9L132.4 543.7L136.4 541.4L140.3 539.3L144.3 537.6L148.2 536.5L152.2 536.1L155.4 536.3L158.6 536.8L161.8 537.6L165.0 538.6L168.1 539.7L171.3 540.8L174.5 541.8L177.7 542.7L180.9 543.2L184.1 543.4M184.1 538.9L186.6 538.6L189.0 537.9L191.5 536.9L193.9 535.6L196.4 534.3L198.9 533.2L201.3 532.2L203.8 531.5L206.2 531.1L208.7 530.9"/><path d="M34.8 550.7L37.2 550.4L39.5 549.5L41.9 548.2L44.2 546.6L46.6 545.1L49.0 543.8L51.3 542.7L53.7 542.0L56.0 541.5L58.4 541.4L60.7 541.6L63.0 542.3L65.3 543.3L67.6 544.5L69.9 545.7L72.2 546.8L74.5 547.7L76.8 548.4L79.1 548.8L81.4 548.9L84.5 548.7L87.7 548.3L90.8 547.8L93.9 547.2L97.1 546.8L100.2 546.6L103.3 546.5L106.4 546.7L109.6 546.8L112.7 546.8L116.7 546.5L120.6 545.7L124.5 544.3L128.5 542.5L132.4 540.4L136.4 538.3L140.3 536.3L144.3 534.7L148.2 533.6L152.2 533.2L155.4 533.8L158.6 535.3L161.8 537.5L165.0 540.2L168.1 542.9L171.3 545.5L174.5 547.6L177.7 549.2L180.9 550.1L184.1 550.5M184.1 539.5L186.6 539.2L189.0 538.4L191.5 537.4L193.9 536.3L196.4 535.5L198.9 535.1L201.3 535.0L203.8 535.1L206.2 535.3L208.7 535.4"/><path d="M34.8 552.9L37.2 552.8L39.5 552.6L41.9 552.3L44.2 551.8L46.6 551.3L49.0 550.7L51.3 550.1L53.7 549.6L56.0 549.3L58.4 549.1L60.7 549.1L63.0 549.1L65.3 549.0L67.6 548.6L69.9 547.9L72.2 546.9L74.5 545.7L76.8 544.6L79.1 543.8L81.4 543.5L84.5 543.6L87.7 544.0L90.8 544.5L93.9 545.1L97.1 546.0L100.2 546.9L103.3 547.8L106.4 548.5L109.6 549.0L112.7 549.2L116.7 549.0L120.6 548.6L124.5 547.9L128.5 546.8L132.4 545.5L136.4 543.9L140.3 542.3L144.3 540.9L148.2 540.0L152.2 539.6L155.4 539.8L158.6 540.3L161.8 541.2L165.0 542.1L168.1 543.1L171.3 544.1L174.5 544.9L177.7 545.5L180.9 545.8L184.1 545.9M184.1 541.6L186.6 541.7L189.0 542.1L191.5 542.6L193.9 543.2L196.4 543.8L198.9 544.4L201.3 545.0L203.8 545.4L206.2 545.6L208.7 545.7"/><path d="M34.8 534.9L37.2 535.4L39.5 536.9L41.9 538.9L44.2 541.0L46.6 542.9L49.0 544.2L51.3 544.9L53.7 545.1L56.0 545.1L58.4 545.1L60.7 544.9L63.0 544.5L65.3 544.1L67.6 543.8L69.9 543.7L72.2 544.0L74.5 544.5L76.8 545.1L79.1 545.6L81.4 545.8L84.5 545.8L87.7 545.7L90.8 545.7L93.9 545.8L97.1 545.9L100.2 546.2L103.3 546.6L106.4 547.0L109.6 547.2L112.7 547.3L116.7 546.8L120.6 545.1L124.5 542.4L128.5 538.9L132.4 534.9L136.4 530.7L140.3 526.8L144.3 523.6L148.2 521.5L152.2 520.7L155.4 521.1L158.6 522.1L161.8 523.7L165.0 525.8L168.1 528.2L171.3 530.7L174.5 533.0L177.7 534.9L180.9 536.1L184.1 536.5M184.1 544.9L186.6 544.6L189.0 543.7L191.5 542.4L193.9 540.7L196.4 538.9L198.9 537.0L201.3 535.4L203.8 534.2L206.2 533.3L208.7 533.1"/><path d="M34.8 526.8L37.2 527.2L39.5 528.2L41.9 529.8L44.2 531.8L46.6 534.0L49.0 536.1L51.3 537.9L53.7 539.4L56.0 540.3L58.4 540.6L60.7 540.7L63.0 540.9L65.3 541.2L67.6 541.3L69.9 541.2L72.2 540.8L74.5 540.2L76.8 539.6L79.1 539.1L81.4 538.9L84.5 538.1L87.7 536.0L90.8 532.8L93.9 529.0L97.1 525.3L100.2 522.0L103.3 519.4L106.4 517.6L109.6 516.6L112.7 516.2L116.7 516.2L120.6 516.1L124.5 516.0L128.5 515.8L132.4 515.6L136.4 515.4L140.3 515.3L144.3 515.1L148.2 515.0L152.2 515.0L155.4 515.7L158.6 517.8L161.8 521.3L165.0 526.1L168.1 532.0L171.3 538.3L174.5 544.5L177.7 549.7L180.9 553.1L184.1 554.4M184.1 539.4L186.6 539.3L189.0 538.9L191.5 538.4L193.9 537.7L196.4 536.9L198.9 536.1L201.3 535.2L203.8 534.5L206.2 534.1L208.7 533.9"/><path d="M34.8 531.5L37.2 531.6L39.5 531.8L41.9 532.3L44.2 532.9L46.6 533.7L49.0 534.6L51.3 535.5L53.7 536.3L56.0 536.8L58.4 537.0L60.7 537.0L63.0 537.3L65.3 537.8L67.6 538.8L69.9 540.3L72.2 542.2L74.5 544.3L76.8 546.2L79.1 547.5L81.4 548.0L84.5 547.1L87.7 544.7L90.8 540.9L93.9 536.2L97.1 531.1L100.2 526.2L103.3 521.9L106.4 518.5L109.6 516.4L112.7 515.7L116.7 516.2L120.6 517.7L124.5 520.0L128.5 522.9L132.4 525.9L136.4 528.9L140.3 531.5L144.3 533.5L148.2 534.7L152.2 535.1L155.4 535.1L158.6 535.0L161.8 534.9L165.0 534.9L168.1 535.0L171.3 535.2L174.5 535.5L177.7 535.7L180.9 536.0L184.1 536.0M184.1 529.7L186.6 529.3L189.0 528.0L191.5 526.3L193.9 524.7L196.4 523.4L198.9 522.8L201.3 522.8L203.8 523.1L206.2 523.5L208.7 523.7"/><path d="M34.8 521.5L37.2 521.6L39.5 521.9L41.9 522.5L44.2 523.2L46.6 524.3L49.0 525.5L51.3 526.7L53.7 527.8L56.0 528.5L58.4 528.8L60.7 528.7L63.0 528.5L65.3 528.3L67.6 528.1L69.9 527.9L72.2 527.9L74.5 527.9L76.8 528.0L79.1 528.0L81.4 528.1L84.5 528.5L87.7 529.7L90.8 531.6L93.9 534.1L97.1 536.9L100.2 539.7L103.3 542.4L106.4 544.5L109.6 545.9L112.7 546.3L116.7 545.6L120.6 543.5L124.5 540.2L128.5 536.3L132.4 532.2L136.4 528.3L140.3 525.0L144.3 522.6L148.2 521.0L152.2 520.5L155.4 520.7L158.6 521.3L161.8 522.2L165.0 523.5L168.1 525.1L171.3 526.9L174.5 528.6L177.7 530.0L180.9 531.0L184.1 531.3M184.1 537.9L186.6 537.7L189.0 537.1L191.5 536.2L193.9 535.1L196.4 534.0L198.9 532.9L201.3 532.0L203.8 531.3L206.2 530.9L208.7 530.8"/><path d="M34.8 522.3L37.2 522.5L39.5 523.2L41.9 524.3L44.2 525.9L46.6 528.0L49.0 530.2L51.3 532.5L53.7 534.4L56.0 535.7L58.4 536.2L60.7 536.4L63.0 536.9L65.3 537.7L67.6 538.6L69.9 539.6L72.2 540.4L74.5 541.1L76.8 541.5L79.1 541.8L81.4 541.9L84.5 542.2L87.7 543.1L90.8 544.3L93.9 545.4L97.1 546.4L100.2 546.9L103.3 547.0L106.4 546.8L109.6 546.6L112.7 546.5L116.7 545.8L120.6 543.7L124.5 540.5L128.5 536.6L132.4 532.5L136.4 528.7L140.3 525.4L144.3 523.0L148.2 521.5L152.2 521.0L155.4 521.0L158.6 521.0L161.8 521.1L165.0 521.5L168.1 522.2L171.3 523.1L174.5 524.2L177.7 525.1L180.9 525.8L184.1 526.1M184.1 528.8L186.6 529.1L189.0 529.7L191.5 530.6L193.9 531.5L196.4 532.1L198.9 532.5L201.3 532.5L203.8 532.4L206.2 532.2L208.7 532.1"/><path d="M34.8 523.1L37.2 523.3L39.5 523.6L41.9 524.2L44.2 524.8L46.6 525.3L49.0 525.7L51.3 526.0L53.7 526.2L56.0 526.2L58.4 526.2L60.7 526.7L63.0 528.1L65.3 530.3L67.6 532.9L69.9 535.8L72.2 538.6L74.5 541.0L76.8 542.9L79.1 544.1L81.4 544.5L84.5 543.8L87.7 541.8L90.8 538.6L93.9 534.5L97.1 529.9L100.2 525.3L103.3 521.0L106.4 517.6L109.6 515.5L112.7 514.7L116.7 515.0L120.6 516.0L124.5 517.4L128.5 519.1L132.4 520.9L136.4 522.6L140.3 524.1L144.3 525.2L148.2 525.8L152.2 526.1L155.4 525.9L158.6 525.5L161.8 524.8L165.0 524.1L168.1 523.5L171.3 523.0L174.5 522.7L177.7 522.6L180.9 522.6L184.1 522.5M184.1 526.5L186.6 526.6L189.0 526.9L191.5 527.2L193.9 527.5L196.4 527.6L198.9 527.5L201.3 527.3L203.8 527.0L206.2 526.7L208.7 526.6"/><path d="M34.8 520.6L37.2 521.0L39.5 522.2L41.9 523.9L44.2 525.9L46.6 527.9L49.0 529.6L51.3 530.9L53.7 531.8L56.0 532.3L58.4 532.4L60.7 532.2L63.0 531.6L65.3 530.6L67.6 529.4L69.9 528.2L72.2 527.0L74.5 526.1L76.8 525.3L79.1 524.9L81.4 524.7L84.5 525.4L87.7 527.2L90.8 530.0L93.9 533.4L97.1 536.9L100.2 540.2L103.3 543.0L106.4 545.1L109.6 546.4L112.7 546.8L116.7 546.1L120.6 544.0L124.5 540.7L128.5 536.7L132.4 532.4L136.4 528.1L140.3 524.3L144.3 521.3L148.2 519.5L152.2 518.8L155.4 519.1L158.6 519.8L161.8 520.9L165.0 522.2L168.1 523.4L171.3 524.6L174.5 525.5L177.7 526.1L180.9 526.4L184.1 526.6M184.1 535.2L186.6 534.9L189.0 534.2L191.5 533.2L193.9 531.9L196.4 530.6L198.9 529.3L201.3 528.3L203.8 527.5L206.2 527.0L208.7 526.8"/><path d="M34.8 540.1L37.2 539.6L39.5 538.1L41.9 535.7L44.2 532.6L46.6 529.0L49.0 525.3L51.3 521.7L53.7 518.8L56.0 516.9L58.4 516.2L60.7 516.7L63.0 517.9L65.3 519.9L67.6 522.4L69.9 525.2L72.2 528.1L74.5 530.7L76.8 532.9L79.1 534.3L81.4 534.8L84.5 534.3L87.7 533.0L90.8 530.9L93.9 528.2L97.1 525.2L100.2 522.1L103.3 519.4L106.4 517.2L109.6 515.7L112.7 515.2L116.7 515.3L120.6 515.6L124.5 516.0L128.5 516.2L132.4 516.3L136.4 516.1L140.3 515.7L144.3 515.2L148.2 514.9L152.2 514.7L155.4 515.0L158.6 515.9L161.8 517.3L165.0 519.0L168.1 521.1L171.3 523.3L174.5 525.3L177.7 527.0L180.9 528.0L184.1 528.4M184.1 528.2L186.6 528.1L189.0 527.9L191.5 527.5L193.9 526.7L196.4 525.4L198.9 523.8L201.3 522.0L203.8 520.4L206.2 519.3L208.7 518.9"/><path d="M34.8 515.8L37.2 516.1L39.5 517.0L41.9 518.5L44.2 520.2L46.6 521.9L49.0 523.4L51.3 524.7L53.7 525.6L56.0 526.1L58.4 526.3L60.7 526.5L63.0 527.1L65.3 527.9L67.6 528.8L69.9 529.7L72.2 530.5L74.5 531.0L76.8 531.4L79.1 531.5L81.4 531.6L84.5 531.1L87.7 529.6L90.8 527.3L93.9 524.7L97.1 521.9L100.2 519.4L103.3 517.3L106.4 515.8L109.6 514.8L112.7 514.5L116.7 514.9L120.6 516.1L124.5 518.0L128.5 520.5L132.4 523.4L136.4 526.4L140.3 529.3L144.3 531.6L148.2 533.1L152.2 533.6L155.4 533.4L158.6 532.6L161.8 531.4L165.0 529.8L168.1 527.8L171.3 525.8L174.5 523.8L177.7 522.2L180.9 521.1L184.1 520.8M184.1 523.7L186.6 523.7L189.0 523.7L191.5 523.7L193.9 523.6L196.4 523.5L198.9 523.3L201.3 523.0L203.8 522.8L206.2 522.6L208.7 522.5"/><path d="M34.8 513.1L37.2 513.5L39.5 514.8L41.9 516.8L44.2 519.3L46.6 522.2L49.0 525.2L51.3 527.9L53.7 530.1L56.0 531.6L58.4 532.1L60.7 531.9L63.0 531.5L65.3 530.7L67.6 529.7L69.9 528.6L72.2 527.4L74.5 526.3L76.8 525.4L79.1 524.8L81.4 524.6L84.5 524.2L87.7 523.1L90.8 521.4L93.9 519.4L97.1 517.5L100.2 515.7L103.3 514.3L106.4 513.3L109.6 512.8L112.7 512.6L116.7 512.8L120.6 513.4L124.5 514.4L128.5 515.6L132.4 516.8L136.4 518.1L140.3 519.2L144.3 520.0L148.2 520.6L152.2 520.8L155.4 520.7L158.6 520.4L161.8 520.2L165.0 519.9L168.1 519.9L171.3 520.0L174.5 520.3L177.7 520.7L180.9 521.0L184.1 521.1M184.1 523.0L186.6 522.8L189.0 522.4L191.5 521.8L193.9 521.1L196.4 520.4L198.9 519.8L201.3 519.3L203.8 518.9L206.2 518.7L208.7 518.7"/><path d="M34.8 513.7L37.2 513.9L39.5 514.4L41.9 515.0L44.2 515.6L46.6 515.9L49.0 515.9L51.3 515.7L53.7 515.4L56.0 515.1L58.4 514.9L60.7 514.8L63.0 514.6L65.3 514.2L67.6 514.1L69.9 514.1L72.2 514.5L74.5 515.1L76.8 515.7L79.1 516.2L81.4 516.4L84.5 516.3L87.7 516.1L90.8 515.8L93.9 515.3L97.1 514.7L100.2 514.0L103.3 513.2L106.4 512.6L109.6 512.1L112.7 512.0L116.7 512.2L120.6 512.7L124.5 513.4L128.5 514.1L132.4 514.5L136.4 514.7L140.3 514.6L144.3 514.3L148.2 514.0L152.2 513.9L155.4 513.7L158.6 513.3L161.8 512.8L165.0 512.2L168.1 511.9L171.3 511.8L174.5 512.0L177.7 512.2L180.9 512.5L184.1 512.6M184.1 530.4L186.6 530.5L189.0 530.7L191.5 531.0L193.9 531.3L196.4 531.3L198.9 531.1L201.3 530.7L203.8 530.2L206.2 529.9L208.7 529.8"/><path d="M34.8 511.5L37.2 511.5L39.5 511.8L41.9 512.1L44.2 512.5L46.6 512.8L49.0 513.2L51.3 513.4L53.7 513.5L56.0 513.6L58.4 513.7L60.7 513.9L63.0 514.7L65.3 515.9L67.6 517.5L69.9 519.4L72.2 521.4L74.5 523.3L76.8 524.8L79.1 525.8L81.4 526.2L84.5 525.8L87.7 524.8L90.8 523.1L93.9 521.0L97.1 518.5L100.2 516.0L103.3 513.7L106.4 511.8L109.6 510.6L112.7 510.1L116.7 510.4L120.6 511.1L124.5 512.0L128.5 512.9L132.4 513.5L136.4 513.8L140.3 513.7L144.3 513.4L148.2 513.1L152.2 512.9L155.4 513.1L158.6 513.6L161.8 514.3L165.0 514.8L168.1 515.0L171.3 514.8L174.5 514.3L177.7 513.6L180.9 513.1L184.1 512.9M184.1 524.2L186.6 524.1L189.0 523.9L191.5 523.5L193.9 522.7L196.4 521.6L198.9 520.1L201.3 518.4L203.8 516.9L206.2 515.9L208.7 515.5"/><path d="M34.8 512.4L37.2 512.9L39.5 514.3L41.9 516.6L44.2 519.5L46.6 522.7L49.0 526.0L51.3 528.9L53.7 531.2L56.0 532.7L58.4 533.2L60.7 533.1L63.0 532.8L65.3 532.1L67.6 531.1L69.9 529.5L72.2 527.7L74.5 525.7L76.8 523.9L79.1 522.7L81.4 522.2L84.5 521.9L87.7 521.1L90.8 519.8L93.9 518.5L97.1 517.3L100.2 516.4L103.3 515.8L106.4 515.5L109.6 515.4L112.7 515.4L116.7 515.4L120.6 515.4L124.5 515.4L128.5 515.3L132.4 514.9L136.4 514.5L140.3 513.9L144.3 513.3L148.2 512.9L152.2 512.8L155.4 513.9L158.6 516.9L161.8 521.4L165.0 526.6L168.1 531.7L171.3 536.1L174.5 539.5L177.7 541.9L180.9 543.2L184.1 543.6M184.1 517.6L186.6 517.3L189.0 516.4L191.5 515.1L193.9 513.8L196.4 512.6L198.9 511.7L201.3 511.2L203.8 511.0L206.2 510.9L208.7 510.9"/><path d="M34.8 505.5L37.2 505.9L39.5 507.2L41.9 509.2L44.2 511.6L46.6 514.3L49.0 516.8L51.3 519.0L53.7 520.7L56.0 521.8L58.4 522.2L60.7 522.1L63.0 522.0L65.3 521.9L67.6 522.1L69.9 522.5L72.2 523.2L74.5 524.1L76.8 525.0L79.1 525.7L81.4 525.9L84.5 525.2L87.7 523.3L90.8 520.3L93.9 516.6L97.1 512.5L100.2 508.5L103.3 504.9L106.4 502.2L109.6 500.4L112.7 499.8L116.7 500.1L120.6 501.2L124.5 502.8L128.5 504.7L132.4 506.8L136.4 508.8L140.3 510.5L144.3 511.8L148.2 512.7L152.2 512.9L155.4 512.9L158.6 512.9L161.8 512.8L165.0 512.5L168.1 511.9L171.3 511.1L174.5 510.3L177.7 509.5L180.9 508.9L184.1 508.7M184.1 521.6L186.6 521.5L189.0 520.9L191.5 520.2L193.9 519.3L196.4 518.4L198.9 517.6L201.3 517.0L203.8 516.5L206.2 516.2L208.7 516.1"/><path d="M34.8 545.7L37.2 544.9L39.5 542.5L41.9 538.7L44.2 533.9L46.6 528.6L49.0 523.3L51.3 518.4L53.7 514.5L56.0 512.0L58.4 511.2L60.7 511.4L63.0 512.1L65.3 513.2L67.6 514.3L69.9 515.4L72.2 516.2L74.5 516.9L76.8 517.2L79.1 517.4L81.4 517.5L84.5 517.6L87.7 517.9L90.8 518.2L93.9 518.3L97.1 518.1L100.2 517.7L103.3 517.0L106.4 516.2L109.6 515.7L112.7 515.5L116.7 515.3L120.6 514.7L124.5 514.0L128.5 513.2L132.4 512.7L136.4 512.4L140.3 512.3L144.3 512.4L148.2 512.6L152.2 512.7L155.4 512.9L158.6 513.5L161.8 514.2L165.0 514.8L168.1 515.0L171.3 514.8L174.5 514.3L177.7 513.6L180.9 513.0L184.1 512.8M184.1 512.9L186.6 512.7L189.0 512.3L191.5 511.6L193.9 511.1L196.4 510.8L198.9 510.8L201.3 511.1L203.8 511.5L206.2 511.9L208.7 512.0"/><path d="M34.8 495.2L37.2 495.4L39.5 495.9L41.9 496.7L44.2 497.9L46.6 499.2L49.0 500.6L51.3 502.0L53.7 503.2L56.0 504.0L58.4 504.2L60.7 504.7L63.0 506.1L65.3 508.0L67.6 510.2L69.9 512.1L72.2 513.6L74.5 514.5L76.8 515.0L79.1 515.2L81.4 515.2L84.5 514.5L87.7 512.6L90.8 509.8L93.9 506.4L97.1 502.9L100.2 499.7L103.3 497.1L106.4 495.1L109.6 494.0L112.7 493.6L116.7 494.0L120.6 495.3L124.5 497.3L128.5 499.9L132.4 502.8L136.4 505.9L140.3 508.7L144.3 511.0L148.2 512.5L152.2 513.1L155.4 513.1L158.6 513.3L161.8 513.6L165.0 513.9L168.1 514.3L171.3 514.8L174.5 515.1L177.7 515.4L180.9 515.6L184.1 515.7M184.1 511.1L186.6 511.1L189.0 511.3L191.5 511.5L193.9 512.0L196.4 512.6L198.9 513.4L201.3 514.2L203.8 514.9L206.2 515.4L208.7 515.6"/><path d="M34.8 502.2L37.2 502.3L39.5 502.7L41.9 503.2L44.2 503.8L46.6 504.3L49.0 504.7L51.3 504.9L53.7 505.0L56.0 505.0L58.4 505.0L60.7 504.9L63.0 504.5L65.3 504.2L67.6 504.1L69.9 504.3L72.2 504.9L74.5 505.8L76.8 506.7L79.1 507.4L81.4 507.7L84.5 508.0L87.7 509.1L90.8 510.4L93.9 511.8L97.1 512.8L100.2 513.3L103.3 513.3L106.4 513.0L109.6 512.7L112.7 512.6L116.7 512.6L120.6 512.7L124.5 512.7L128.5 512.7L132.4 512.6L136.4 512.5L140.3 512.2L144.3 512.0L148.2 511.8L152.2 511.8L155.4 511.5L158.6 510.8L161.8 509.5L165.0 507.7L168.1 505.4L171.3 502.7L174.5 500.0L177.7 497.7L180.9 496.1L184.1 495.6M184.1 503.7L186.6 503.6L189.0 503.6L191.5 503.6L193.9 503.8L196.4 504.1L198.9 504.6L201.3 505.2L203.8 505.8L206.2 506.2L208.7 506.4"/><path d="M34.8 544.0L37.2 543.4L39.5 541.6L41.9 538.6L44.2 534.7L46.6 530.0L49.0 525.0L51.3 520.2L53.7 516.2L56.0 513.6L58.4 512.7L60.7 512.8L63.0 513.1L65.3 513.4L67.6 513.7L69.9 513.8L72.2 513.7L74.5 513.4L76.8 513.1L79.1 512.8L81.4 512.7L84.5 512.0L87.7 509.9L90.8 506.6L93.9 502.5L97.1 498.0L100.2 493.6L103.3 489.6L106.4 486.5L109.6 484.5L112.7 483.8L116.7 483.3L120.6 482.1L124.5 480.4L128.5 478.3L132.4 476.1L136.4 474.2L140.3 472.7L144.3 471.6L148.2 470.9L152.2 470.7L155.4 471.4L158.6 473.7L161.8 477.3L165.0 482.0L168.1 487.6L171.3 493.6L174.5 499.2L177.7 503.8L180.9 506.9L184.1 508.0M184.1 514.6L186.6 514.0L189.0 512.5L191.5 510.2L193.9 507.4L196.4 504.4L198.9 501.4L201.3 498.9L203.8 496.9L206.2 495.7L208.7 495.3"/><path d="M34.8 496.7L37.2 497.2L39.5 498.4L41.9 500.4L44.2 503.0L46.6 505.8L49.0 508.6L51.3 511.2L53.7 513.2L56.0 514.5L58.4 515.0L60.7 515.1L63.0 515.4L65.3 515.6L67.6 515.6L69.9 515.2L72.2 514.4L74.5 513.3L76.8 512.2L79.1 511.4L81.4 511.1L84.5 511.0L87.7 510.7L90.8 510.2L93.9 509.5L97.1 508.6L100.2 507.6L103.3 506.5L106.4 505.7L109.6 505.1L112.7 504.9L116.7 505.1L120.6 505.9L124.5 506.9L128.5 508.1L132.4 509.1L136.4 510.0L140.3 510.6L144.3 510.9L148.2 511.1L152.2 511.1L155.4 510.4L158.6 508.2L161.8 504.9L165.0 500.9L168.1 496.7L171.3 492.6L174.5 489.1L177.7 486.4L180.9 484.7L184.1 484.2M184.1 507.0L186.6 507.1L189.0 507.4L191.5 507.8L193.9 508.2L196.4 508.7L198.9 509.0L201.3 509.3L203.8 509.5L206.2 509.6L208.7 509.6"/><path d="M34.8 486.8L37.2 487.1L39.5 488.0L41.9 489.5L44.2 491.4L46.6 493.7L49.0 496.2L51.3 498.5L53.7 500.4L56.0 501.7L58.4 502.1L60.7 502.7L63.0 504.4L65.3 506.9L67.6 510.1L69.9 513.5L72.2 516.8L74.5 519.6L76.8 521.8L79.1 523.2L81.4 523.7L84.5 522.6L87.7 519.4L90.8 514.4L93.9 508.3L97.1 501.7L100.2 495.2L103.3 489.5L106.4 485.1L109.6 482.3L112.7 481.3L116.7 481.0L120.6 480.0L124.5 478.7L128.5 477.2L132.4 475.9L136.4 474.8L140.3 474.0L144.3 473.6L148.2 473.4L152.2 473.3L155.4 474.0L158.6 475.8L161.8 478.8L165.0 482.7L168.1 487.2L171.3 492.0L174.5 496.4L177.7 500.0L180.9 502.3L184.1 503.1M184.1 519.0L186.6 519.0L189.0 519.2L191.5 519.3L193.9 519.4L196.4 519.3L198.9 519.0L201.3 518.6L203.8 518.2L206.2 517.8L208.7 517.7"/><path d="M34.8 499.8L37.2 500.1L39.5 501.0L41.9 502.3L44.2 503.7L46.6 505.0L49.0 506.0L51.3 506.7L53.7 507.1L56.0 507.2L58.4 507.3L60.7 507.1L63.0 506.8L65.3 506.1L67.6 505.0L69.9 503.5L72.2 501.9L74.5 500.1L76.8 498.6L79.1 497.5L81.4 497.2L84.5 496.6L87.7 495.0L90.8 492.6L93.9 489.6L97.1 486.4L100.2 483.3L103.3 480.6L106.4 478.6L109.6 477.3L112.7 476.9L116.7 476.6L120.6 476.0L124.5 474.9L128.5 473.5L132.4 471.8L136.4 470.1L140.3 468.3L144.3 466.9L148.2 466.0L152.2 465.7L155.4 466.3L158.6 468.0L161.8 470.7L165.0 474.1L168.1 477.9L171.3 481.6L174.5 485.0L177.7 487.7L180.9 489.4L184.1 490.0M184.1 484.5L186.6 484.7L189.0 485.3L191.5 486.4L193.9 488.0L196.4 490.2L198.9 492.6L201.3 495.0L203.8 497.2L206.2 498.6L208.7 499.1"/><path d="M34.8 477.9L37.2 478.2L39.5 479.1L41.9 480.7L44.2 482.8L46.6 485.4L49.0 488.2L51.3 491.1L53.7 493.5L56.0 495.1L58.4 495.7L60.7 495.8L63.0 496.1L65.3 496.6L67.6 497.3L69.9 498.0L72.2 498.7L74.5 499.4L76.8 499.9L79.1 500.3L81.4 500.4L84.5 500.2L87.7 499.8L90.8 499.0L93.9 497.9L97.1 496.5L100.2 494.9L103.3 493.3L106.4 492.0L109.6 491.0L112.7 490.7L116.7 491.3L120.6 493.0L124.5 495.6L128.5 498.7L132.4 502.0L136.4 505.2L140.3 507.9L144.3 509.9L148.2 511.2L152.2 511.6L155.4 510.9L158.6 508.8L161.8 505.4L165.0 501.0L168.1 495.9L171.3 490.6L174.5 485.7L177.7 481.6L180.9 479.0L184.1 478.0M184.1 500.9L186.6 501.0L189.0 501.5L191.5 502.2L193.9 503.0L196.4 504.0L198.9 505.0L201.3 505.9L203.8 506.6L206.2 507.0L208.7 507.2"/><path d="M34.8 477.5L37.2 477.7L39.5 478.4L41.9 479.4L44.2 480.7L46.6 482.2L49.0 483.7L51.3 485.1L53.7 486.2L56.0 486.9L58.4 487.1L60.7 487.7L63.0 489.2L65.3 491.7L67.6 494.9L69.9 498.5L72.2 502.4L74.5 506.0L76.8 508.9L79.1 510.9L81.4 511.5L84.5 510.4L87.7 507.1L90.8 502.1L93.9 496.1L97.1 489.7L100.2 483.6L103.3 478.4L106.4 474.4L109.6 471.9L112.7 471.1L116.7 471.1L120.6 471.0L124.5 471.0L128.5 471.1L132.4 471.3L136.4 471.7L140.3 472.1L144.3 472.6L148.2 472.9L152.2 473.0L155.4 473.4L158.6 474.7L161.8 476.4L165.0 478.4L168.1 480.3L171.3 481.8L174.5 482.9L177.7 483.6L180.9 483.9L184.1 484.0M184.1 495.0L186.6 495.1L189.0 495.4L191.5 496.0L193.9 496.9L196.4 498.1L198.9 499.5L201.3 501.0L203.8 502.3L206.2 503.2L208.7 503.5"/><path d="M34.8 493.9L37.2 493.8L39.5 493.8L41.9 493.6L44.2 493.4L46.6 493.1L49.0 492.8L51.3 492.5L53.7 492.3L56.0 492.1L58.4 492.1L60.7 492.1L63.0 492.2L65.3 492.2L67.6 492.0L69.9 491.6L72.2 490.9L74.5 490.1L76.8 489.3L79.1 488.8L81.4 488.6L84.5 488.2L87.7 487.2L90.8 485.6L93.9 483.6L97.1 481.4L100.2 479.2L103.3 477.2L106.4 475.6L109.6 474.5L112.7 474.2L116.7 475.2L120.6 478.1L124.5 482.6L128.5 488.0L132.4 493.8L136.4 499.4L140.3 504.3L144.3 508.0L148.2 510.3L152.2 511.1L155.4 510.5L158.6 508.6L161.8 505.7L165.0 501.9L168.1 497.7L171.3 493.4L174.5 489.4L177.7 486.2L180.9 484.1L184.1 483.4M184.1 495.8L186.6 496.0L189.0 496.5L191.5 497.3L193.9 498.2L196.4 499.2L198.9 500.1L201.3 500.9L203.8 501.5L206.2 501.9L208.7 502.0"/><path d="M34.8 471.0L37.2 471.0L39.5 470.9L41.9 471.2L44.2 472.1L46.6 473.9L49.0 476.3L51.3 479.2L53.7 481.9L56.0 483.9L58.4 484.6L60.7 485.0L63.0 486.2L65.3 488.1L67.6 490.7L69.9 493.7L72.2 497.0L74.5 500.2L76.8 502.8L79.1 504.5L81.4 505.1L84.5 504.2L87.7 501.6L90.8 497.5L93.9 492.6L97.1 487.4L100.2 482.3L103.3 478.0L106.4 474.7L109.6 472.6L112.7 471.9L116.7 473.1L120.6 476.5L124.5 481.7L128.5 488.2L132.4 495.3L136.4 502.2L140.3 508.3L144.3 513.1L148.2 516.1L152.2 517.2L155.4 516.0L158.6 512.7L161.8 507.5L165.0 501.2L168.1 494.3L171.3 487.6L174.5 481.8L177.7 477.2L180.9 474.3L184.1 473.4M184.1 503.0L186.6 502.7L189.0 501.9L191.5 500.5L193.9 498.5L196.4 496.0L198.9 493.2L201.3 490.4L203.8 488.0L206.2 486.4L208.7 485.8"/><path d="M34.8 483.5L37.2 483.1L39.5 482.1L41.9 480.6L44.2 478.8L46.6 477.0L49.0 475.2L51.3 473.8L53.7 472.7L56.0 472.1L58.4 471.9L60.7 472.8L63.0 475.5L65.3 479.7L67.6 484.7L69.9 490.1L72.2 495.3L74.5 499.9L76.8 503.3L79.1 505.5L81.4 506.2L84.5 505.3L87.7 502.5L90.8 498.1L93.9 492.3L97.1 485.7L100.2 478.7L103.3 472.2L106.4 466.9L109.6 463.4L112.7 462.2L116.7 462.3L120.6 462.7L124.5 463.3L128.5 464.1L132.4 465.2L136.4 466.4L140.3 467.7L144.3 468.7L148.2 469.5L152.2 469.7L155.4 470.4L158.6 472.4L161.8 475.4L165.0 479.0L168.1 482.7L171.3 486.2L174.5 489.1L177.7 491.3L180.9 492.6L184.1 493.1M184.1 467.5L186.6 467.7L189.0 468.3L191.5 469.1L193.9 469.8L196.4 470.2L198.9 470.3L201.3 470.1L203.8 469.7L206.2 469.3L208.7 469.2"/><path d="M34.8 474.5L37.2 474.3L39.5 473.9L41.9 473.1L44.2 472.0L46.6 470.8L49.0 469.4L51.3 468.0L53.7 466.9L56.0 466.1L58.4 465.9L60.7 466.6L63.0 468.7L65.3 471.9L67.6 475.8L69.9 479.8L72.2 483.6L74.5 486.8L76.8 489.2L79.1 490.6L81.4 491.1L84.5 490.9L87.7 490.4L90.8 489.4L93.9 488.0L97.1 486.2L100.2 484.2L103.3 482.1L106.4 480.4L109.6 479.2L112.7 478.8L116.7 479.5L120.6 481.6L124.5 485.0L128.5 489.2L132.4 494.1L136.4 499.0L140.3 503.6L144.3 507.2L148.2 509.6L152.2 510.5L155.4 509.6L158.6 507.1L161.8 503.0L165.0 497.7L168.1 491.6L171.3 485.3L174.5 479.4L177.7 474.6L180.9 471.5L184.1 470.4M184.1 469.5L186.6 469.5L189.0 469.5L191.5 469.4L193.9 469.3L196.4 469.1L198.9 468.9L201.3 468.6L203.8 468.4L206.2 468.3L208.7 468.2"/><path d="M34.8 459.4L37.2 459.9L39.5 461.2L41.9 463.2L44.2 465.8L46.6 468.4L49.0 471.1L51.3 473.4L53.7 475.1L56.0 476.2L58.4 476.6L60.7 476.5L63.0 476.0L65.3 475.3L67.6 474.3L69.9 473.2L72.2 472.0L74.5 470.9L76.8 470.0L79.1 469.4L81.4 469.2L84.5 468.9L87.7 467.8L90.8 466.2L93.9 464.3L97.1 462.2L100.2 460.2L103.3 458.5L106.4 457.2L109.6 456.3L112.7 456.1L116.7 456.2L120.6 456.5L124.5 457.1L128.5 457.9L132.4 459.0L136.4 460.3L140.3 461.5L144.3 462.6L148.2 463.4L152.2 463.6L155.4 463.6L158.6 463.7L161.8 463.7L165.0 463.8L168.1 463.9L171.3 464.1L174.5 464.2L177.7 464.4L180.9 464.5L184.1 464.5M184.1 474.8L186.6 474.7L189.0 474.4L191.5 474.0L193.9 473.4L196.4 472.8L198.9 472.0L201.3 471.3L203.8 470.7L206.2 470.3L208.7 470.2"/><path d="M34.8 454.2L37.2 454.6L39.5 455.8L41.9 457.5L44.2 459.4L46.6 461.3L49.0 463.0L51.3 464.3L53.7 465.2L56.0 465.8L58.4 465.9L60.7 466.4L63.0 467.6L65.3 469.4L67.6 471.5L69.9 473.4L72.2 475.0L74.5 476.1L76.8 476.8L79.1 477.2L81.4 477.3L84.5 477.1L87.7 476.4L90.8 475.4L93.9 474.1L97.1 472.7L100.2 471.3L103.3 470.1L106.4 469.1L109.6 468.5L112.7 468.2L116.7 469.2L120.6 472.1L124.5 476.7L128.5 482.5L132.4 489.0L136.4 495.6L140.3 501.6L144.3 506.4L148.2 509.5L152.2 510.6L155.4 509.6L158.6 506.6L161.8 502.0L165.0 496.4L168.1 490.3L171.3 484.3L174.5 479.0L177.7 474.9L180.9 472.3L184.1 471.4M184.1 475.1L186.6 475.6L189.0 477.0L191.5 479.3L193.9 482.1L196.4 485.2L198.9 488.3L201.3 491.1L203.8 493.2L206.2 494.6L208.7 495.1"/><path d="M34.8 461.5L37.2 461.9L39.5 462.8L41.9 464.3L44.2 466.5L46.6 469.1L49.0 471.9L51.3 474.7L53.7 477.1L56.0 478.6L58.4 479.2L60.7 479.0L63.0 478.6L65.3 477.9L67.6 477.0L69.9 476.0L72.2 475.0L74.5 474.1L76.8 473.4L79.1 473.0L81.4 472.9L84.5 472.4L87.7 471.1L90.8 469.1L93.9 466.6L97.1 463.8L100.2 461.2L103.3 458.8L106.4 456.9L109.6 455.7L112.7 455.3L116.7 455.6L120.6 456.3L124.5 457.6L128.5 459.1L132.4 460.7L136.4 462.4L140.3 463.9L144.3 465.1L148.2 465.9L152.2 466.1L155.4 466.2L158.6 466.2L161.8 466.0L165.0 465.3L168.1 464.0L171.3 462.0L174.5 459.6L177.7 457.4L180.9 455.8L184.1 455.2M184.1 465.8L186.6 465.8L189.0 465.8L191.5 465.8L193.9 466.0L196.4 466.3L198.9 466.8L201.3 467.3L203.8 467.8L206.2 468.2L208.7 468.3"/><path d="M34.8 454.1L37.2 454.3L39.5 455.2L41.9 456.5L44.2 458.1L46.6 459.9L49.0 461.7L51.3 463.3L53.7 464.6L56.0 465.5L58.4 465.7L60.7 465.9L63.0 466.3L65.3 466.9L67.6 467.9L69.9 469.1L72.2 470.4L74.5 471.7L76.8 472.8L79.1 473.6L81.4 473.8L84.5 473.5L87.7 472.5L90.8 470.8L93.9 468.5L97.1 465.6L100.2 462.4L103.3 459.3L106.4 456.6L109.6 454.8L112.7 454.2L116.7 454.8L120.6 456.7L124.5 459.4L128.5 462.5L132.4 465.5L136.4 468.2L140.3 470.3L144.3 471.7L148.2 472.4L152.2 472.7L155.4 473.0L158.6 473.7L161.8 474.8L165.0 476.0L168.1 477.3L171.3 478.4L174.5 479.3L177.7 479.9L180.9 480.2L184.1 480.4M184.1 462.6L186.6 462.8L189.0 463.4L191.5 464.3L193.9 465.3L196.4 466.2L198.9 467.0L201.3 467.5L203.8 467.9L206.2 468.1L208.7 468.1"/><path d="M34.8 457.5L37.2 457.8L39.5 458.5L41.9 459.5L44.2 460.4L46.6 461.2L49.0 461.6L51.3 461.7L53.7 461.6L56.0 461.4L58.4 461.3L60.7 461.6L63.0 462.3L65.3 463.3L67.6 464.5L69.9 465.8L72.2 467.1L74.5 468.1L76.8 468.9L79.1 469.3L81.4 469.5L84.5 469.1L87.7 467.9L90.8 466.1L93.9 463.9L97.1 461.4L100.2 458.9L103.3 456.7L106.4 454.9L109.6 453.7L112.7 453.3L116.7 453.7L120.6 454.8L124.5 456.6L128.5 458.9L132.4 461.4L136.4 464.0L140.3 466.4L144.3 468.4L148.2 469.6L152.2 470.0L155.4 470.0L158.6 469.9L161.8 469.7L165.0 469.3L168.1 468.6L171.3 467.8L174.5 466.9L177.7 466.1L180.9 465.5L184.1 465.3M184.1 465.0L186.6 464.8L189.0 464.5L191.5 464.0L193.9 463.5L196.4 463.1L198.9 462.8L201.3 462.8L203.8 462.8L206.2 462.9L208.7 463.0"/><path d="M34.8 458.3L37.2 458.5L39.5 459.1L41.9 460.0L44.2 461.0L46.6 462.0L49.0 463.0L51.3 463.8L53.7 464.4L56.0 464.8L58.4 464.9L60.7 465.4L63.0 466.7L65.3 468.9L67.6 471.6L69.9 474.5L72.2 477.4L74.5 480.0L76.8 482.1L79.1 483.4L81.4 483.8L84.5 483.3L87.7 481.8L90.8 479.6L93.9 477.2L97.1 474.7L100.2 472.6L103.3 471.0L106.4 470.0L109.6 469.4L112.7 469.2L116.7 469.0L120.6 468.4L124.5 467.7L128.5 466.9L132.4 466.1L136.4 465.5L140.3 465.1L144.3 464.9L148.2 464.8L152.2 464.7L155.4 464.7L158.6 464.7L161.8 464.5L165.0 464.3L168.1 463.9L171.3 463.5L174.5 463.0L177.7 462.6L180.9 462.3L184.1 462.2M184.1 490.8L186.6 490.4L189.0 489.4L191.5 488.0L193.9 486.3L196.4 484.6L198.9 483.1L201.3 481.9L203.8 481.1L206.2 480.6L208.7 480.5"/></g><clipPath id="cb3"><rect x="477.1" y="312.1" width="172.69999999999993" height="242.39999999999998"/></clipPath><g clip-path="url(#cb3)" fill="none" stroke="#c0c0c0" stroke-width="1.15"><path d="M477.1 381.8L479.4 382.1L481.6 382.8L483.9 383.7L486.1 384.5L488.4 384.6L490.7 384.2L492.9 383.3L495.2 382.2L497.4 381.3L499.7 381.0L502.0 380.6L504.3 379.5L506.5 377.6L508.8 375.0L511.1 371.9L513.4 368.4L515.7 365.1L517.9 362.3L520.2 360.4L522.5 359.7L525.8 360.3L529.1 361.8L532.4 364.0L535.7 366.8L539.0 369.7L542.4 372.5L545.7 374.9L549.0 376.7L552.3 377.8L555.6 378.2L559.4 377.4L563.3 375.2L567.1 371.8L571.0 367.6L574.8 363.1L578.6 358.8L582.5 355.1L586.3 352.2L590.2 350.4L594.0 349.8L597.2 350.3L600.5 352.0L603.8 354.6L607.0 358.1L610.2 362.3L613.5 366.8L616.8 371.2L620.0 374.8L623.2 377.2L626.5 378.0M626.5 359.8L628.8 359.9L631.2 360.0L633.5 359.8L635.8 359.2L638.1 357.8L640.5 355.8L642.8 353.4L645.1 351.1L647.5 349.4L649.8 348.8"/><path d="M477.1 379.3L479.4 378.9L481.6 377.9L483.9 376.2L486.1 373.9L488.4 371.0L490.7 367.9L492.9 364.8L495.2 362.3L497.4 360.5L499.7 359.9L502.0 359.9L504.3 360.0L506.5 360.0L508.8 360.0L511.1 360.1L513.4 360.1L515.7 360.1L517.9 360.1L520.2 360.1L522.5 360.1L525.8 360.5L529.1 361.7L532.4 363.7L535.7 366.5L539.0 369.8L542.4 373.4L545.7 376.8L549.0 379.7L552.3 381.7L555.6 382.4L559.4 381.6L563.3 379.2L567.1 375.6L571.0 371.1L574.8 366.4L578.6 361.8L582.5 357.8L586.3 354.7L590.2 352.8L594.0 352.1L597.2 352.2L600.5 352.5L603.8 353.1L607.0 354.1L610.2 355.4L613.5 356.9L616.8 358.5L620.0 359.9L623.2 360.9L626.5 361.2M626.5 358.2L628.8 358.0L631.2 357.6L633.5 356.9L635.8 355.9L638.1 354.6L640.5 353.3L642.8 351.9L645.1 350.8L647.5 350.0L649.8 349.8"/><path d="M477.1 381.0L479.4 380.7L481.6 379.8L483.9 378.1L486.1 375.8L488.4 372.8L490.7 369.5L492.9 366.2L495.2 363.4L497.4 361.5L499.7 360.8L502.0 360.8L504.3 360.7L506.5 360.5L508.8 360.4L511.1 360.4L513.4 360.5L515.7 360.7L517.9 361.0L520.2 361.2L522.5 361.2L525.8 361.7L529.1 363.1L532.4 365.2L535.7 367.9L539.0 370.9L542.4 373.9L545.7 376.6L549.0 378.8L552.3 380.2L555.6 380.6L559.4 379.8L563.3 377.6L567.1 374.1L571.0 369.8L574.8 365.1L578.6 360.6L582.5 356.7L586.3 353.7L590.2 351.8L594.0 351.1L597.2 351.7L600.5 353.2L603.8 355.2L607.0 357.2L610.2 358.7L613.5 359.5L616.8 359.5L620.0 359.0L623.2 358.5L626.5 358.3M626.5 350.6L628.8 350.6L631.2 350.6L633.5 350.5L635.8 350.3L638.1 350.0L640.5 349.5L642.8 349.1L645.1 348.7L647.5 348.4L649.8 348.3"/><path d="M477.1 376.4L479.4 375.9L481.6 374.6L483.9 372.6L486.1 370.2L488.4 367.8L490.7 365.5L492.9 363.6L495.2 362.2L497.4 361.3L499.7 361.1L502.0 360.8L504.3 360.2L506.5 359.1L508.8 357.5L511.1 355.7L513.4 353.6L515.7 351.6L517.9 349.9L520.2 348.8L522.5 348.4L525.8 349.0L529.1 351.0L532.4 354.0L535.7 358.0L539.0 362.5L542.4 367.1L545.7 371.4L549.0 374.8L552.3 377.1L555.6 377.9L559.4 377.5L563.3 376.3L567.1 374.3L571.0 371.3L574.8 367.4L578.6 363.0L582.5 358.6L586.3 354.7L590.2 352.1L594.0 351.2L597.2 351.5L600.5 352.4L603.8 353.7L607.0 355.2L610.2 356.6L613.5 357.8L616.8 358.6L620.0 359.1L623.2 359.4L626.5 359.5M626.5 346.4L628.8 346.6L631.2 347.1L633.5 347.8L635.8 348.5L638.1 349.2L640.5 349.8L642.8 350.1L645.1 350.4L647.5 350.5L649.8 350.5"/><path d="M477.1 343.2L479.4 343.5L481.6 344.4L483.9 345.9L486.1 347.8L488.4 350.1L490.7 352.6L492.9 355.0L495.2 356.9L497.4 358.2L499.7 358.7L502.0 358.5L504.3 358.0L506.5 357.4L508.8 356.9L511.1 356.8L513.4 357.1L515.7 357.8L517.9 358.6L520.2 359.2L522.5 359.4L525.8 359.0L529.1 357.9L532.4 356.1L535.7 353.8L539.0 351.2L542.4 348.5L545.7 346.0L549.0 344.0L552.3 342.6L555.6 342.2L559.4 342.5L563.3 343.4L567.1 344.7L571.0 346.2L574.8 347.7L578.6 349.0L582.5 350.0L586.3 350.7L590.2 351.1L594.0 351.2L597.2 351.0L600.5 350.3L603.8 349.3L607.0 348.1L610.2 346.8L613.5 345.7L616.8 344.7L620.0 344.0L623.2 343.6L626.5 343.5M626.5 336.0L628.8 336.4L631.2 337.4L633.5 339.1L635.8 341.3L638.1 343.8L640.5 346.5L642.8 349.0L645.1 351.0L647.5 352.4L649.8 352.8"/><path d="M477.1 341.5L479.4 341.4L481.6 341.1L483.9 340.7L486.1 340.5L488.4 340.5L490.7 340.8L492.9 341.3L495.2 341.9L497.4 342.4L499.7 342.6L502.0 342.7L504.3 343.1L506.5 343.5L508.8 343.6L511.1 343.1L513.4 342.1L515.7 340.8L517.9 339.4L520.2 338.4L522.5 338.0L525.8 338.3L529.1 339.3L532.4 340.7L535.7 342.0L539.0 343.2L542.4 344.0L545.7 344.3L549.0 344.3L552.3 344.2L555.6 344.2L559.4 344.3L563.3 344.7L567.1 345.4L571.0 346.2L574.8 347.0L578.6 347.8L582.5 348.4L586.3 348.9L590.2 349.3L594.0 349.4L597.2 349.1L600.5 348.3L603.8 347.0L607.0 345.4L610.2 343.6L613.5 341.7L616.8 339.9L620.0 338.5L623.2 337.6L626.5 337.3M626.5 336.2L628.8 336.6L631.2 337.8L633.5 339.5L635.8 341.5L638.1 343.6L640.5 345.6L642.8 347.2L645.1 348.3L647.5 349.0L649.8 349.3"/><path d="M477.1 342.8L479.4 342.9L481.6 343.0L483.9 343.1L486.1 343.0L488.4 342.6L490.7 341.9L492.9 340.9L495.2 340.0L497.4 339.3L499.7 339.1L502.0 339.0L504.3 338.8L506.5 338.6L508.8 338.2L511.1 337.8L513.4 337.3L515.7 336.8L517.9 336.4L520.2 336.1L522.5 336.0L525.8 336.1L529.1 336.3L532.4 336.7L535.7 337.3L539.0 338.1L542.4 339.0L545.7 339.9L549.0 340.7L552.3 341.3L555.6 341.5L559.4 341.8L563.3 342.9L567.1 344.4L571.0 346.3L574.8 348.2L578.6 350.0L582.5 351.6L586.3 352.7L590.2 353.4L594.0 353.6L597.2 353.2L600.5 351.8L603.8 349.7L607.0 347.1L610.2 344.4L613.5 341.7L616.8 339.4L620.0 337.6L623.2 336.4L626.5 336.1M626.5 348.1L628.8 348.2L631.2 348.5L633.5 349.0L635.8 349.5L638.1 349.9L640.5 350.2L642.8 350.3L645.1 350.4L647.5 350.3L649.8 350.3"/><path d="M477.1 335.1L479.4 335.4L481.6 336.0L483.9 336.8L486.1 337.4L488.4 337.7L490.7 337.4L492.9 336.8L495.2 336.0L497.4 335.4L499.7 335.2L502.0 335.7L504.3 337.1L506.5 339.2L508.8 341.5L511.1 343.7L513.4 345.5L515.7 346.8L517.9 347.6L520.2 348.0L522.5 348.1L525.8 347.6L529.1 346.2L532.4 344.1L535.7 341.7L539.0 339.3L542.4 337.3L545.7 335.7L549.0 334.6L552.3 334.0L555.6 333.8L559.4 334.1L563.3 335.1L567.1 336.8L571.0 338.9L574.8 341.5L578.6 344.2L582.5 346.8L586.3 349.0L590.2 350.4L594.0 350.9L597.2 350.2L600.5 348.2L603.8 345.3L607.0 341.8L610.2 338.4L613.5 335.2L616.8 332.7L620.0 331.0L623.2 329.9L626.5 329.6M626.5 351.8L628.8 351.8L631.2 351.7L633.5 351.6L635.8 351.5L638.1 351.4L640.5 351.3L642.8 351.2L645.1 351.1L647.5 351.1L649.8 351.1"/><path d="M477.1 333.1L479.4 333.5L481.6 334.6L483.9 335.9L486.1 337.0L488.4 337.6L490.7 337.4L492.9 336.6L495.2 335.5L497.4 334.6L499.7 334.2L502.0 334.3L504.3 334.5L506.5 334.8L508.8 335.2L511.1 335.7L513.4 336.3L515.7 336.9L517.9 337.4L520.2 337.8L522.5 337.9L525.8 338.0L529.1 338.4L532.4 338.6L535.7 338.5L539.0 337.7L542.4 336.2L545.7 334.4L549.0 332.5L552.3 331.2L555.6 330.7L559.4 331.2L563.3 332.5L567.1 334.7L571.0 337.5L574.8 340.7L578.6 343.9L582.5 346.8L586.3 349.2L590.2 350.7L594.0 351.2L597.2 351.0L600.5 350.5L603.8 349.7L607.0 348.5L610.2 347.2L613.5 345.8L616.8 344.5L620.0 343.4L623.2 342.7L626.5 342.4M626.5 336.8L628.8 337.4L631.2 339.0L633.5 341.2L635.8 343.6L638.1 345.7L640.5 347.3L642.8 348.2L645.1 348.6L647.5 348.7L649.8 348.7"/><path d="M477.1 329.4L479.4 329.7L481.6 330.5L483.9 331.6L486.1 333.1L488.4 334.6L490.7 336.1L492.9 337.3L495.2 338.2L497.4 338.8L499.7 339.0L502.0 338.6L504.3 337.2L506.5 335.3L508.8 332.8L511.1 330.2L513.4 327.8L515.7 325.6L517.9 324.0L520.2 322.9L522.5 322.6L525.8 322.7L529.1 323.1L532.4 323.7L535.7 324.4L539.0 325.0L542.4 325.5L545.7 325.9L549.0 326.2L552.3 326.3L555.6 326.4L559.4 327.1L563.3 329.0L567.1 332.0L571.0 335.7L574.8 339.7L578.6 343.6L582.5 347.0L586.3 349.6L590.2 351.3L594.0 351.9L597.2 352.1L600.5 352.8L603.8 353.7L607.0 354.8L610.2 356.0L613.5 357.0L616.8 357.7L620.0 358.3L623.2 358.6L626.5 358.7M626.5 355.8L628.8 355.7L631.2 355.3L633.5 354.7L635.8 353.9L638.1 352.8L640.5 351.6L642.8 350.4L645.1 349.4L647.5 348.7L649.8 348.5"/><path d="M477.1 327.1L479.4 327.1L481.6 327.3L483.9 327.3L486.1 327.1L488.4 326.4L490.7 325.4L492.9 324.1L495.2 322.8L497.4 321.9L499.7 321.6L502.0 321.8L504.3 322.3L506.5 322.9L508.8 323.5L511.1 323.9L513.4 324.0L515.7 323.8L517.9 323.4L520.2 323.1L522.5 323.0L525.8 323.1L529.1 323.3L532.4 323.7L535.7 324.3L539.0 325.2L542.4 326.3L545.7 327.5L549.0 328.5L552.3 329.2L555.6 329.5L559.4 330.0L563.3 331.6L567.1 334.1L571.0 337.2L574.8 340.5L578.6 343.9L582.5 346.8L586.3 349.1L590.2 350.6L594.0 351.1L597.2 350.7L600.5 349.6L603.8 347.8L607.0 345.7L610.2 343.5L613.5 341.5L616.8 339.7L620.0 338.4L623.2 337.6L626.5 337.4M626.5 321.6L628.8 322.2L631.2 323.8L633.5 326.3L635.8 329.8L638.1 333.8L640.5 338.2L642.8 342.3L645.1 345.8L647.5 348.1L649.8 348.9"/><path d="M477.1 313.5L479.4 313.3L481.6 312.7L483.9 312.0L486.1 311.1L488.4 310.4L490.7 310.0L492.9 309.7L495.2 309.7L497.4 309.7L499.7 309.7L502.0 309.7L504.3 309.7L506.5 309.7L508.8 309.7L511.1 309.6L513.4 309.5L515.7 309.4L517.9 309.2L520.2 309.1L522.5 309.1L525.8 309.3L529.1 310.0L532.4 310.9L535.7 311.8L539.0 312.5L542.4 312.9L545.7 313.1L549.0 313.0L552.3 312.9L555.6 312.9L559.4 312.6L563.3 311.7L567.1 310.4L571.0 308.8L574.8 307.1L578.6 305.4L582.5 303.9L586.3 302.7L590.2 302.0L594.0 301.7L597.2 302.1L600.5 303.0L603.8 304.6L607.0 306.9L610.2 309.8L613.5 313.0L616.8 316.1L620.0 318.9L623.2 320.7L626.5 321.4M626.5 310.6L628.8 310.4L631.2 309.8L633.5 308.9L635.8 307.8L638.1 306.7L640.5 305.8L642.8 305.1L645.1 304.6L647.5 304.4L649.8 304.3"/><path d="M477.1 300.0L479.4 300.6L481.6 302.2L483.9 304.7L486.1 307.8L488.4 311.0L490.7 314.2L492.9 316.9L495.2 319.0L497.4 320.4L499.7 320.8L502.0 320.1L504.3 318.2L506.5 315.3L508.8 311.8L511.1 308.3L513.4 305.2L515.7 302.6L517.9 300.7L520.2 299.5L522.5 299.2L525.8 299.2L529.1 299.4L532.4 299.7L535.7 300.0L539.0 300.4L542.4 300.7L545.7 300.9L549.0 301.1L552.3 301.2L555.6 301.2L559.4 301.5L563.3 302.3L567.1 303.2L571.0 304.2L574.8 304.8L578.6 304.9L582.5 304.7L586.3 304.2L590.2 303.8L594.0 303.7L597.2 303.8L600.5 304.1L603.8 304.6L607.0 305.3L610.2 306.0L613.5 306.7L616.8 307.4L620.0 308.0L623.2 308.3L626.5 308.4M626.5 299.6L628.8 299.5L631.2 299.1L633.5 298.8L635.8 298.6L638.1 298.8L640.5 299.5L642.8 300.4L645.1 301.4L647.5 302.2L649.8 302.5"/><path d="M477.1 319.3L479.4 319.1L481.6 318.7L483.9 317.9L486.1 316.5L488.4 314.5L490.7 311.9L492.9 309.2L495.2 306.8L497.4 305.1L499.7 304.5L502.0 304.7L504.3 305.2L506.5 305.9L508.8 306.8L511.1 307.6L513.4 308.3L515.7 308.8L517.9 309.2L520.2 309.4L522.5 309.5L525.8 309.6L529.1 309.9L532.4 310.6L535.7 311.6L539.0 313.0L542.4 314.5L545.7 316.2L549.0 317.6L552.3 318.6L555.6 318.9L559.4 318.4L563.3 316.8L567.1 314.2L571.0 311.1L574.8 307.5L578.6 304.0L582.5 300.9L586.3 298.4L590.2 296.8L594.0 296.2L597.2 296.4L600.5 296.8L603.8 297.4L607.0 298.0L610.2 298.5L613.5 298.9L616.8 299.0L620.0 299.0L623.2 299.0L626.5 299.0M626.5 304.8L628.8 304.9L631.2 304.9L633.5 304.7L635.8 304.3L638.1 303.5L640.5 302.4L642.8 301.1L645.1 299.9L647.5 299.1L649.8 298.7"/><path d="M477.1 317.4L479.4 317.1L481.6 316.0L483.9 314.3L486.1 311.9L488.4 308.8L490.7 305.4L492.9 302.0L495.2 299.1L497.4 297.1L499.7 296.4L502.0 296.7L504.3 297.7L506.5 299.1L508.8 301.0L511.1 303.0L513.4 305.1L515.7 306.9L517.9 308.3L520.2 309.3L522.5 309.6L525.8 309.9L529.1 311.0L532.4 312.4L535.7 313.9L539.0 315.2L542.4 316.2L545.7 316.8L549.0 317.1L552.3 317.2L555.6 317.2L559.4 316.8L563.3 315.8L567.1 314.1L571.0 311.7L574.8 308.7L578.6 305.3L582.5 302.1L586.3 299.3L590.2 297.4L594.0 296.7L597.2 296.7L600.5 296.7L603.8 296.9L607.0 297.2L610.2 297.8L613.5 298.7L616.8 299.8L620.0 300.7L623.2 301.4L626.5 301.7M626.5 297.6L628.8 297.9L631.2 298.7L633.5 299.8L635.8 300.9L638.1 301.7L640.5 302.1L642.8 302.0L645.1 301.7L647.5 301.3L649.8 301.2"/><path d="M477.1 299.2L479.4 299.2L481.6 299.2L483.9 299.5L486.1 300.0L488.4 300.9L490.7 302.1L492.9 303.5L495.2 304.8L497.4 305.7L499.7 306.0L502.0 306.2L504.3 306.8L506.5 307.5L508.8 308.3L511.1 309.0L513.4 309.4L515.7 309.7L517.9 309.7L520.2 309.7L522.5 309.7L525.8 309.7L529.1 309.9L532.4 310.3L535.7 310.9L539.0 311.6L542.4 312.5L545.7 313.4L549.0 314.2L552.3 314.8L555.6 315.0L559.4 314.5L563.3 313.1L567.1 311.0L571.0 308.6L574.8 306.2L578.6 304.0L582.5 302.3L586.3 301.1L590.2 300.3L594.0 300.1L597.2 300.4L600.5 301.2L603.8 302.6L607.0 304.7L610.2 307.2L613.5 310.1L616.8 313.0L620.0 315.5L623.2 317.2L626.5 317.8M626.5 313.3L628.8 313.3L631.2 313.3L633.5 313.0L635.8 312.5L638.1 311.5L640.5 310.1L642.8 308.5L645.1 307.0L647.5 306.0L649.8 305.6"/><path d="M477.1 310.3L479.4 310.6L481.6 311.4L483.9 312.6L486.1 314.0L488.4 315.5L490.7 316.9L492.9 318.1L495.2 318.9L497.4 319.4L499.7 319.6L502.0 319.1L504.3 317.7L506.5 315.5L508.8 312.7L511.1 309.4L513.4 306.0L515.7 302.8L517.9 300.3L520.2 298.6L522.5 298.0L525.8 297.7L529.1 296.8L532.4 295.5L535.7 294.1L539.0 292.7L542.4 291.6L545.7 290.7L549.0 290.2L552.3 289.9L555.6 289.8L559.4 290.2L563.3 291.4L567.1 293.3L571.0 296.1L574.8 299.5L578.6 303.2L582.5 306.9L586.3 310.1L590.2 312.2L594.0 313.0L597.2 312.9L600.5 312.7L603.8 312.2L607.0 311.6L610.2 310.6L613.5 309.6L616.8 308.5L620.0 307.5L623.2 306.8L626.5 306.6M626.5 317.1L628.8 316.4L631.2 314.4L633.5 311.3L635.8 307.5L638.1 303.4L640.5 299.4L642.8 295.8L645.1 293.1L647.5 291.3L649.8 290.7"/><path d="M477.1 343.8L479.4 343.5L481.6 342.6L483.9 341.4L486.1 339.9L488.4 338.6L490.7 337.4L492.9 336.5L495.2 335.9L497.4 335.6L499.7 335.5L502.0 335.5L504.3 335.5L506.5 335.5L508.8 335.4L511.1 335.2L513.4 335.0L515.7 334.8L517.9 334.6L520.2 334.5L522.5 334.5L525.8 334.4L529.1 334.2L532.4 334.0L535.7 334.1L539.0 334.5L542.4 335.3L545.7 336.3L549.0 337.4L552.3 338.1L555.6 338.4L559.4 338.8L563.3 339.8L567.1 341.3L571.0 343.1L574.8 344.9L578.6 346.6L582.5 347.9L586.3 348.8L590.2 349.3L594.0 349.5L597.2 349.0L600.5 347.5L603.8 345.3L607.0 342.9L610.2 340.7L613.5 339.0L616.8 338.0L620.0 337.4L623.2 337.1L626.5 337.1M626.5 344.8L628.8 345.0L631.2 345.5L633.5 346.3L635.8 347.1L638.1 348.0L640.5 348.6L642.8 349.1L645.1 349.4L647.5 349.6L649.8 349.7"/><path d="M477.1 317.0L479.4 316.6L481.6 315.4L483.9 313.5L486.1 311.3L488.4 308.8L490.7 306.4L492.9 304.3L495.2 302.6L497.4 301.6L499.7 301.2L502.0 301.1L504.3 300.8L506.5 300.5L508.8 300.2L511.1 300.0L513.4 300.1L515.7 300.3L517.9 300.6L520.2 300.8L522.5 300.9L525.8 301.3L529.1 302.4L532.4 304.2L535.7 306.6L539.0 309.4L542.4 312.5L545.7 315.4L549.0 317.8L552.3 319.5L555.6 320.0L559.4 319.9L563.3 319.4L567.1 318.6L571.0 317.4L574.8 315.9L578.6 314.1L582.5 312.2L586.3 310.7L590.2 309.6L594.0 309.2L597.2 309.4L600.5 310.0L603.8 310.7L607.0 311.3L610.2 311.4L613.5 311.1L616.8 310.3L620.0 309.5L623.2 308.8L626.5 308.5M626.5 298.9L628.8 299.0L631.2 299.2L633.5 299.5L635.8 299.8L638.1 300.2L640.5 300.6L642.8 300.9L645.1 301.2L647.5 301.4L649.8 301.4"/><path d="M477.1 330.9L479.4 330.8L481.6 330.4L483.9 329.5L486.1 328.2L488.4 326.4L490.7 324.2L492.9 321.9L495.2 319.9L497.4 318.5L499.7 318.0L502.0 319.0L504.3 322.0L506.5 326.6L508.8 332.1L511.1 338.0L513.4 343.6L515.7 348.4L517.9 352.0L520.2 354.3L522.5 355.1L525.8 354.8L529.1 353.9L532.4 352.4L535.7 350.4L539.0 347.9L542.4 345.1L545.7 342.5L549.0 340.2L552.3 338.7L555.6 338.2L559.4 338.5L563.3 339.5L567.1 341.0L571.0 342.8L574.8 344.9L578.6 346.8L582.5 348.6L586.3 350.0L590.2 350.9L594.0 351.2L597.2 350.4L600.5 348.2L603.8 344.7L607.0 340.2L610.2 335.3L613.5 330.3L616.8 325.8L620.0 322.2L623.2 319.9L626.5 319.1M626.5 353.5L628.8 353.5L631.2 353.5L633.5 353.4L635.8 353.2L638.1 352.9L640.5 352.3L642.8 351.7L645.1 351.2L647.5 350.8L649.8 350.6"/><path d="M477.1 338.6L479.4 339.2L481.6 341.0L483.9 343.8L486.1 347.2L488.4 350.9L490.7 354.5L492.9 357.7L495.2 360.2L497.4 361.8L499.7 362.3L502.0 362.4L504.3 362.5L506.5 362.6L508.8 362.3L511.1 361.4L513.4 360.1L515.7 358.4L517.9 356.7L520.2 355.6L522.5 355.1L525.8 354.5L529.1 352.7L532.4 350.0L535.7 346.6L539.0 342.8L542.4 339.0L545.7 335.6L549.0 332.9L552.3 331.2L555.6 330.6L559.4 331.0L563.3 332.4L567.1 334.4L571.0 337.1L574.8 340.0L578.6 342.9L582.5 345.6L586.3 347.7L590.2 349.1L594.0 349.5L597.2 349.2L600.5 348.5L603.8 347.3L607.0 346.0L610.2 344.7L613.5 343.5L616.8 342.6L620.0 342.0L623.2 341.6L626.5 341.5M626.5 346.7L628.8 346.8L631.2 347.2L633.5 347.7L635.8 348.2L638.1 348.8L640.5 349.2L642.8 349.6L645.1 349.8L647.5 349.9L649.8 349.9"/><path d="M477.1 318.6L479.4 318.2L481.6 317.1L483.9 315.1L486.1 312.5L488.4 309.3L490.7 306.0L492.9 302.7L495.2 300.0L497.4 298.2L499.7 297.5L502.0 297.8L504.3 298.7L506.5 300.1L508.8 301.8L511.1 303.6L513.4 305.4L515.7 307.0L517.9 308.2L520.2 309.0L522.5 309.2L525.8 309.0L529.1 308.3L532.4 307.4L535.7 306.3L539.0 305.2L542.4 304.3L545.7 303.6L549.0 303.1L552.3 302.8L555.6 302.8L559.4 302.9L563.3 303.4L567.1 304.3L571.0 305.5L574.8 307.0L578.6 308.6L582.5 310.3L586.3 311.7L590.2 312.7L594.0 313.0L597.2 312.5L600.5 311.3L603.8 309.6L607.0 307.7L610.2 306.2L613.5 305.2L616.8 304.7L620.0 304.7L623.2 304.8L626.5 304.8M626.5 305.0L628.8 304.5L631.2 303.0L633.5 300.7L635.8 298.0L638.1 295.3L640.5 292.8L642.8 290.8L645.1 289.3L647.5 288.4L649.8 288.2"/><path d="M477.1 509.8L479.4 509.8L481.6 509.9L483.9 510.0L486.1 510.2L488.4 510.3L490.7 510.5L492.9 510.7L495.2 510.8L497.4 510.9L499.7 510.9L502.0 510.9L504.3 510.8L506.5 510.6L508.8 510.5L511.1 510.2L513.4 510.0L515.7 509.9L517.9 509.7L520.2 509.6L522.5 509.6L525.8 509.6L529.1 509.6L532.4 509.6L535.7 509.6L539.0 509.5L542.4 509.5L545.7 509.5L549.0 509.5L552.3 509.5L555.6 509.5L559.4 509.5L563.3 509.5L567.1 509.6L571.0 509.6L574.8 509.7L578.6 509.8L582.5 509.8L586.3 509.9L590.2 509.9L594.0 509.9L597.2 509.9L600.5 509.8L603.8 509.8L607.0 509.7L610.2 509.6L613.5 509.5L616.8 509.4L620.0 509.3L623.2 509.3L626.5 509.2M626.5 508.5L628.8 508.5L631.2 508.6L633.5 508.8L635.8 509.0L638.1 509.2L640.5 509.4L642.8 509.6L645.1 509.8L647.5 509.9L649.8 509.9"/><path d="M477.1 509.5L479.4 509.5L481.6 509.6L483.9 509.7L486.1 509.8L488.4 510.0L490.7 510.2L492.9 510.3L495.2 510.5L497.4 510.5L499.7 510.6L502.0 510.6L504.3 510.5L506.5 510.5L508.8 510.4L511.1 510.4L513.4 510.3L515.7 510.3L517.9 510.2L520.2 510.2L522.5 510.2L525.8 510.2L529.1 510.2L532.4 510.1L535.7 510.1L539.0 510.0L542.4 510.0L545.7 510.0L549.0 509.9L552.3 509.9L555.6 509.9L559.4 509.9L563.3 509.9L567.1 509.9L571.0 509.9L574.8 509.9L578.6 509.9L582.5 509.9L586.3 509.9L590.2 509.9L594.0 509.9L597.2 509.9L600.5 509.9L603.8 509.9L607.0 509.8L610.2 509.8L613.5 509.8L616.8 509.8L620.0 509.7L623.2 509.7L626.5 509.7M626.5 508.3L628.8 508.3L631.2 508.5L633.5 508.6L635.8 508.9L638.1 509.1L640.5 509.3L642.8 509.6L645.1 509.7L647.5 509.9L649.8 509.9"/><path d="M477.1 510.5L479.4 510.5L481.6 510.4L483.9 510.3L486.1 510.2L488.4 510.0L490.7 509.9L492.9 509.7L495.2 509.6L497.4 509.6L499.7 509.5L502.0 509.5L504.3 509.5L506.5 509.5L508.8 509.5L511.1 509.5L513.4 509.5L515.7 509.5L517.9 509.5L520.2 509.6L522.5 509.6L525.8 509.6L529.1 509.6L532.4 509.7L535.7 509.8L539.0 509.9L542.4 510.0L545.7 510.1L549.0 510.2L552.3 510.2L555.6 510.2L559.4 510.2L563.3 510.2L567.1 510.2L571.0 510.1L574.8 510.1L578.6 510.0L582.5 510.0L586.3 509.9L590.2 509.9L594.0 509.9L597.2 509.9L600.5 510.0L603.8 510.1L607.0 510.2L610.2 510.3L613.5 510.4L616.8 510.5L620.0 510.6L623.2 510.7L626.5 510.7M626.5 510.4L628.8 510.4L631.2 510.4L633.5 510.3L635.8 510.2L638.1 510.2L640.5 510.1L642.8 510.0L645.1 509.9L647.5 509.9L649.8 509.9"/><path d="M477.1 550.9L479.4 551.0L481.6 551.2L483.9 551.5L486.1 551.7L488.4 551.8L490.7 551.7L492.9 551.4L495.2 551.0L497.4 550.8L499.7 550.7L502.0 550.6L504.3 550.5L506.5 550.3L508.8 550.0L511.1 549.6L513.4 549.2L515.7 548.9L517.9 548.6L520.2 548.3L522.5 548.3L525.8 548.2L529.1 548.0L532.4 547.8L535.7 547.6L539.0 547.4L542.4 547.3L545.7 547.3L549.0 547.3L552.3 547.3L555.6 547.3L559.4 546.8L563.3 545.1L567.1 542.5L571.0 539.2L574.8 535.5L578.6 531.6L582.5 528.1L586.3 525.2L590.2 523.4L594.0 522.7L597.2 523.3L600.5 525.0L603.8 527.7L607.0 531.1L610.2 534.9L613.5 538.8L616.8 542.3L620.0 545.2L623.2 547.0L626.5 547.6M626.5 544.4L628.8 543.9L631.2 542.5L633.5 540.5L635.8 538.2L638.1 535.9L640.5 533.8L642.8 532.1L645.1 531.0L647.5 530.3L649.8 530.1"/><path d="M477.1 550.1L479.4 550.1L481.6 550.1L483.9 549.9L486.1 549.7L488.4 549.3L490.7 548.8L492.9 548.3L495.2 547.8L497.4 547.5L499.7 547.3L502.0 547.3L504.3 547.3L506.5 547.1L508.8 546.9L511.1 546.7L513.4 546.3L515.7 546.0L517.9 545.6L520.2 545.4L522.5 545.3L525.8 545.4L529.1 545.8L532.4 546.2L535.7 546.6L539.0 546.8L542.4 546.9L545.7 546.8L549.0 546.6L552.3 546.4L555.6 546.3L559.4 546.0L563.3 545.0L567.1 543.3L571.0 541.2L574.8 538.7L578.6 536.1L582.5 533.7L586.3 531.6L590.2 530.3L594.0 529.9L597.2 530.3L600.5 531.7L603.8 533.8L607.0 536.4L610.2 539.3L613.5 542.3L616.8 544.9L620.0 547.0L623.2 548.3L626.5 548.8M626.5 547.3L628.8 547.2L631.2 546.6L633.5 545.8L635.8 544.7L638.1 543.5L640.5 542.2L642.8 540.9L645.1 539.9L647.5 539.3L649.8 539.0"/><path d="M477.1 543.3L479.4 543.5L481.6 543.9L483.9 544.4L486.1 544.8L488.4 545.0L490.7 544.9L492.9 544.7L495.2 544.3L497.4 544.0L499.7 543.8L502.0 543.9L504.3 544.0L506.5 544.3L508.8 544.7L511.1 545.3L513.4 545.9L515.7 546.6L517.9 547.3L520.2 547.7L522.5 547.8L525.8 547.7L529.1 547.5L532.4 547.0L535.7 546.5L539.0 545.8L542.4 545.1L545.7 544.4L549.0 543.8L552.3 543.4L555.6 543.3L559.4 543.1L563.3 542.7L567.1 542.1L571.0 541.2L574.8 540.1L578.6 539.0L582.5 537.9L586.3 536.9L590.2 536.3L594.0 536.1L597.2 536.3L600.5 536.9L603.8 537.8L607.0 538.8L610.2 540.0L613.5 541.0L616.8 541.9L620.0 542.6L623.2 543.0L626.5 543.2M626.5 547.7L628.8 547.7L631.2 547.4L633.5 546.9L635.8 546.0L638.1 544.7L640.5 543.2L642.8 541.5L645.1 540.1L647.5 539.1L649.8 538.7"/><path d="M477.1 551.6L479.4 551.5L481.6 551.0L483.9 550.4L486.1 549.5L488.4 548.5L490.7 547.5L492.9 546.6L495.2 545.8L497.4 545.3L499.7 545.1L502.0 545.1L504.3 545.2L506.5 545.4L508.8 545.7L511.1 546.1L513.4 546.7L515.7 547.4L517.9 548.0L520.2 548.4L522.5 548.5L525.8 548.5L529.1 548.4L532.4 548.3L535.7 548.3L539.0 548.2L542.4 548.2L545.7 548.2L549.0 548.3L552.3 548.3L555.6 548.3L559.4 547.5L563.3 545.2L567.1 541.5L571.0 536.9L574.8 531.7L578.6 526.5L582.5 521.7L586.3 517.9L590.2 515.5L594.0 514.6L597.2 515.4L600.5 517.8L603.8 521.4L607.0 526.0L610.2 531.0L613.5 535.9L616.8 540.2L620.0 543.7L623.2 545.9L626.5 546.6M626.5 548.2L628.8 548.1L631.2 547.8L633.5 547.1L635.8 546.1L638.1 544.5L640.5 542.6L642.8 540.6L645.1 538.8L647.5 537.5L649.8 537.0"/><path d="M477.1 550.6L479.4 550.4L481.6 549.9L483.9 549.2L486.1 548.4L488.4 547.7L490.7 547.2L492.9 547.0L495.2 546.9L497.4 547.0L499.7 547.0L502.0 546.8L504.3 546.3L506.5 545.6L508.8 545.0L511.1 544.4L513.4 544.1L515.7 544.0L517.9 544.0L520.2 544.1L522.5 544.2L525.8 543.9L529.1 543.0L532.4 541.9L535.7 540.8L539.0 540.0L542.4 539.8L545.7 539.9L549.0 540.3L552.3 540.7L555.6 540.9L559.4 540.3L563.3 538.8L567.1 536.4L571.0 533.4L574.8 529.9L578.6 526.4L582.5 523.1L586.3 520.5L590.2 518.8L594.0 518.2L597.2 518.8L600.5 520.7L603.8 523.7L607.0 527.6L610.2 532.1L613.5 536.7L616.8 541.0L620.0 544.5L623.2 546.8L626.5 547.6M626.5 541.3L628.8 540.9L631.2 539.8L633.5 538.1L635.8 536.1L638.1 534.0L640.5 532.2L642.8 530.7L645.1 529.6L647.5 529.0L649.8 528.8"/><path d="M477.1 539.3L479.4 539.3L481.6 539.5L483.9 539.8L486.1 540.3L488.4 540.8L490.7 541.4L492.9 541.9L495.2 542.4L497.4 542.7L499.7 542.8L502.0 542.7L504.3 542.6L506.5 542.3L508.8 541.8L511.1 541.1L513.4 540.2L515.7 539.2L517.9 538.3L520.2 537.6L522.5 537.4L525.8 537.4L529.1 537.4L532.4 537.5L535.7 537.8L539.0 538.4L542.4 539.2L545.7 540.1L549.0 540.9L552.3 541.5L555.6 541.8L559.4 541.6L563.3 541.0L567.1 540.1L571.0 539.0L574.8 537.7L578.6 536.4L582.5 535.2L586.3 534.3L590.2 533.6L594.0 533.4L597.2 533.9L600.5 535.1L603.8 536.9L607.0 539.0L610.2 541.1L613.5 542.8L616.8 544.2L620.0 545.2L623.2 545.7L626.5 545.8M626.5 535.0L628.8 535.0L631.2 534.9L633.5 534.6L635.8 534.3L638.1 533.8L640.5 533.2L642.8 532.6L645.1 532.0L647.5 531.6L649.8 531.5"/><path d="M477.1 535.5L479.4 536.0L481.6 537.1L483.9 538.8L486.1 540.4L488.4 541.8L490.7 542.6L492.9 542.9L495.2 542.9L497.4 542.7L499.7 542.6L502.0 542.8L504.3 543.4L506.5 544.1L508.8 544.8L511.1 545.2L513.4 545.2L515.7 544.9L517.9 544.5L520.2 544.1L522.5 544.0L525.8 543.8L529.1 543.4L532.4 542.7L535.7 542.0L539.0 541.4L542.4 540.9L545.7 540.6L549.0 540.4L552.3 540.4L555.6 540.3L559.4 539.9L563.3 538.5L567.1 536.3L571.0 533.2L574.8 529.4L578.6 525.3L582.5 521.3L586.3 517.9L590.2 515.7L594.0 514.9L597.2 515.4L600.5 517.1L603.8 519.6L607.0 522.8L610.2 526.2L613.5 529.5L616.8 532.4L620.0 534.7L623.2 536.1L626.5 536.6M626.5 543.9L628.8 544.1L631.2 544.5L633.5 545.0L635.8 545.2L638.1 545.1L640.5 544.5L642.8 543.5L645.1 542.5L647.5 541.8L649.8 541.5"/><path d="M477.1 546.7L479.4 546.5L481.6 545.9L483.9 544.9L486.1 543.7L488.4 542.5L490.7 541.3L492.9 540.2L495.2 539.4L497.4 538.9L499.7 538.7L502.0 538.7L504.3 538.5L506.5 538.2L508.8 537.8L511.1 537.5L513.4 537.2L515.7 536.9L517.9 536.8L520.2 536.7L522.5 536.6L525.8 536.6L529.1 536.3L532.4 536.2L535.7 536.2L539.0 536.5L542.4 537.3L545.7 538.2L549.0 539.1L552.3 539.9L555.6 540.1L559.4 539.6L563.3 538.0L567.1 535.5L571.0 532.4L574.8 528.8L578.6 525.2L582.5 522.0L586.3 519.3L590.2 517.6L594.0 517.0L597.2 517.5L600.5 519.1L603.8 521.7L607.0 525.2L610.2 529.3L613.5 533.7L616.8 537.9L620.0 541.4L623.2 543.7L626.5 544.5M626.5 529.9L628.8 529.8L631.2 529.5L633.5 529.1L635.8 528.7L638.1 528.3L640.5 528.0L642.8 527.9L645.1 527.8L647.5 527.8L649.8 527.8"/><path d="M477.1 532.1L479.4 532.3L481.6 533.1L483.9 534.2L486.1 535.5L488.4 536.9L490.7 538.1L492.9 539.2L495.2 540.0L497.4 540.4L499.7 540.6L502.0 540.6L504.3 540.7L506.5 540.6L508.8 540.3L511.1 539.6L513.4 538.5L515.7 537.3L517.9 536.1L520.2 535.2L522.5 534.9L525.8 535.0L529.1 535.1L532.4 535.4L535.7 536.0L539.0 536.8L542.4 537.8L545.7 538.9L549.0 540.0L552.3 540.7L555.6 540.9L559.4 540.5L563.3 539.2L567.1 537.3L571.0 535.2L574.8 533.1L578.6 531.4L582.5 530.1L586.3 529.2L590.2 528.8L594.0 528.6L597.2 528.8L600.5 529.4L603.8 530.3L607.0 531.3L610.2 532.3L613.5 533.2L616.8 533.8L620.0 534.3L623.2 534.5L626.5 534.6M626.5 534.5L628.8 534.3L631.2 533.8L633.5 532.9L635.8 531.6L638.1 530.0L640.5 528.2L642.8 526.4L645.1 524.9L647.5 523.9L649.8 523.5"/><path d="M477.1 547.6L479.4 546.8L481.6 544.3L483.9 540.6L486.1 536.3L488.4 532.0L490.7 528.1L492.9 524.9L495.2 522.7L497.4 521.4L499.7 520.9L502.0 521.3L504.3 522.4L506.5 524.0L508.8 526.0L511.1 528.2L513.4 530.2L515.7 532.0L517.9 533.3L520.2 534.2L522.5 534.5L525.8 534.6L529.1 535.1L532.4 535.8L535.7 536.6L539.0 537.5L542.4 538.5L545.7 539.3L549.0 539.9L552.3 540.3L555.6 540.5L559.4 540.3L563.3 539.6L567.1 538.5L571.0 537.0L574.8 535.3L578.6 533.6L582.5 531.8L586.3 530.4L590.2 529.5L594.0 529.2L597.2 529.7L600.5 531.2L603.8 533.4L607.0 535.9L610.2 538.3L613.5 540.4L616.8 542.0L620.0 543.0L623.2 543.6L626.5 543.8M626.5 540.6L628.8 540.2L631.2 539.3L633.5 537.7L635.8 535.7L638.1 533.5L640.5 531.1L642.8 529.0L645.1 527.3L647.5 526.2L649.8 525.8"/><path d="M477.1 541.6L479.4 541.5L481.6 541.2L483.9 540.6L486.1 539.5L488.4 538.1L490.7 536.4L492.9 534.6L495.2 533.0L497.4 531.9L499.7 531.5L502.0 531.5L504.3 531.2L506.5 530.9L508.8 530.5L511.1 530.1L513.4 529.7L515.7 529.4L517.9 529.2L520.2 529.1L522.5 529.0L525.8 529.2L529.1 529.6L532.4 530.4L535.7 531.6L539.0 533.1L542.4 534.9L545.7 536.8L549.0 538.5L552.3 539.6L555.6 540.0L559.4 539.5L563.3 537.9L567.1 535.3L571.0 532.0L574.8 528.2L578.6 524.2L582.5 520.6L586.3 517.7L590.2 515.7L594.0 515.1L597.2 515.6L600.5 517.3L603.8 519.9L607.0 523.4L610.2 527.3L613.5 531.4L616.8 535.2L620.0 538.3L623.2 540.4L626.5 541.1M626.5 534.0L628.8 534.1L631.2 534.1L633.5 534.0L635.8 533.7L638.1 533.1L640.5 532.3L642.8 531.3L645.1 530.4L647.5 529.7L649.8 529.5"/><path d="M477.1 529.5L479.4 529.6L481.6 529.7L483.9 530.0L486.1 530.6L488.4 531.5L490.7 532.5L492.9 533.7L495.2 534.8L497.4 535.5L499.7 535.8L502.0 535.4L504.3 534.3L506.5 532.7L508.8 530.9L511.1 529.2L513.4 527.8L515.7 526.8L517.9 526.2L520.2 525.9L522.5 525.8L525.8 525.3L529.1 523.8L532.4 521.7L535.7 519.3L539.0 516.9L542.4 514.8L545.7 513.1L549.0 512.0L552.3 511.4L555.6 511.1L559.4 511.5L563.3 512.4L567.1 513.8L571.0 515.5L574.8 517.2L578.6 518.8L582.5 520.2L586.3 521.2L590.2 521.8L594.0 522.0L597.2 522.3L600.5 523.1L603.8 524.2L607.0 525.4L610.2 526.5L613.5 527.3L616.8 527.7L620.0 528.0L623.2 528.0L626.5 528.0M626.5 528.4L628.8 528.3L631.2 527.9L633.5 527.2L635.8 526.2L638.1 524.9L640.5 523.3L642.8 521.7L645.1 520.3L647.5 519.3L649.8 519.0"/><path d="M477.1 513.0L479.4 513.3L481.6 514.1L483.9 515.4L486.1 517.1L488.4 519.0L490.7 521.0L492.9 522.9L495.2 524.3L497.4 525.3L499.7 525.6L502.0 525.7L504.3 525.8L506.5 526.1L508.8 526.8L511.1 527.9L513.4 529.2L515.7 530.8L517.9 532.2L520.2 533.2L522.5 533.5L525.8 532.9L529.1 531.3L532.4 528.8L535.7 525.6L539.0 522.1L542.4 518.7L545.7 515.6L549.0 513.2L552.3 511.6L555.6 511.1L559.4 511.8L563.3 513.6L567.1 516.5L571.0 519.8L574.8 523.3L578.6 526.5L582.5 529.1L586.3 531.0L590.2 532.2L594.0 532.6L597.2 532.6L600.5 532.4L603.8 532.1L607.0 531.4L610.2 530.5L613.5 529.3L616.8 528.0L620.0 526.9L623.2 526.0L626.5 525.8M626.5 525.3L628.8 524.9L631.2 523.8L633.5 522.2L635.8 520.4L638.1 518.8L640.5 517.4L642.8 516.5L645.1 516.0L647.5 515.7L649.8 515.6"/><path d="M477.1 521.8L479.4 521.5L481.6 520.7L483.9 519.6L486.1 518.3L488.4 517.2L490.7 516.4L492.9 515.9L495.2 515.7L497.4 515.6L499.7 515.6L502.0 516.2L504.3 517.8L506.5 520.4L508.8 523.7L511.1 527.6L513.4 531.7L515.7 535.5L517.9 538.6L520.2 540.6L522.5 541.3L525.8 540.5L529.1 538.2L532.4 534.7L535.7 530.3L539.0 525.6L542.4 521.0L545.7 517.0L549.0 513.9L552.3 512.0L555.6 511.3L559.4 511.6L563.3 512.2L567.1 513.2L571.0 514.1L574.8 515.0L578.6 515.5L582.5 515.8L586.3 515.9L590.2 515.9L594.0 515.9L597.2 516.3L600.5 517.5L603.8 519.4L607.0 521.6L610.2 523.8L613.5 525.8L616.8 527.5L620.0 528.7L623.2 529.4L626.5 529.7M626.5 526.2L628.8 526.0L631.2 525.3L633.5 524.3L635.8 523.2L638.1 522.2L640.5 521.5L642.8 521.1L645.1 520.9L647.5 520.9L649.8 520.9"/><path d="M477.1 524.4L479.4 524.2L481.6 523.4L483.9 522.3L486.1 520.8L488.4 519.2L490.7 517.6L492.9 516.1L495.2 514.9L497.4 514.1L499.7 513.9L502.0 513.9L504.3 514.2L506.5 514.6L508.8 515.1L511.1 515.8L513.4 516.6L515.7 517.5L517.9 518.2L520.2 518.7L522.5 518.8L525.8 518.8L529.1 518.6L532.4 518.2L535.7 517.4L539.0 516.3L542.4 514.8L545.7 513.2L549.0 511.8L552.3 510.8L555.6 510.5L559.4 510.6L563.3 511.1L567.1 511.5L571.0 511.7L574.8 511.4L578.6 510.7L582.5 509.6L586.3 508.4L590.2 507.5L594.0 507.2L597.2 507.6L600.5 508.9L603.8 510.8L607.0 513.0L610.2 515.2L613.5 517.2L616.8 518.8L620.0 519.9L623.2 520.5L626.5 520.7M626.5 521.2L628.8 521.3L631.2 521.3L633.5 521.3L635.8 521.3L638.1 521.2L640.5 521.0L642.8 520.8L645.1 520.5L647.5 520.4L649.8 520.3"/><path d="M477.1 506.1L479.4 506.3L481.6 507.0L483.9 508.2L486.1 509.8L488.4 511.7L490.7 513.8L492.9 515.8L495.2 517.4L497.4 518.5L499.7 518.9L502.0 518.9L504.3 519.0L506.5 519.3L508.8 519.7L511.1 520.3L513.4 521.1L515.7 521.9L517.9 522.7L520.2 523.2L522.5 523.4L525.8 523.1L529.1 522.1L532.4 520.6L535.7 518.8L539.0 516.9L542.4 515.0L545.7 513.4L549.0 512.2L552.3 511.4L555.6 511.2L559.4 511.2L563.3 511.4L567.1 511.5L571.0 511.4L574.8 510.9L578.6 510.1L582.5 509.0L586.3 507.9L590.2 507.2L594.0 506.9L597.2 507.1L600.5 507.9L603.8 509.0L607.0 510.5L610.2 512.1L613.5 513.8L616.8 515.3L620.0 516.5L623.2 517.3L626.5 517.5M626.5 526.5L628.8 526.3L631.2 525.8L633.5 525.0L635.8 524.0L638.1 523.0L640.5 522.1L642.8 521.3L645.1 520.8L647.5 520.4L649.8 520.3"/><path d="M477.1 506.3L479.4 506.8L481.6 508.3L483.9 510.7L486.1 513.7L488.4 517.0L490.7 520.4L492.9 523.5L495.2 525.9L497.4 527.5L499.7 528.0L502.0 528.1L504.3 528.2L506.5 528.5L508.8 528.9L511.1 529.3L513.4 529.8L515.7 530.2L517.9 530.6L520.2 530.8L522.5 530.9L525.8 530.2L529.1 528.3L532.4 525.4L535.7 521.8L539.0 517.8L542.4 514.0L545.7 510.6L549.0 508.0L552.3 506.4L555.6 505.8L559.4 506.5L563.3 508.3L567.1 511.1L571.0 514.5L574.8 518.1L578.6 521.6L582.5 524.5L586.3 526.7L590.2 528.1L594.0 528.6L597.2 528.4L600.5 528.0L603.8 527.2L607.0 526.3L610.2 525.3L613.5 524.3L616.8 523.4L620.0 522.7L623.2 522.3L626.5 522.1M626.5 520.1L628.8 519.8L631.2 518.8L633.5 517.2L635.8 514.8L638.1 511.9L640.5 508.7L642.8 505.5L645.1 502.7L647.5 500.9L649.8 500.2"/><path d="M477.1 515.2L479.4 515.1L481.6 514.6L483.9 513.9L486.1 513.1L488.4 512.3L490.7 511.5L492.9 510.8L495.2 510.3L497.4 509.9L499.7 509.8L502.0 509.9L504.3 510.3L506.5 510.9L508.8 511.9L511.1 513.2L513.4 514.9L515.7 516.6L517.9 518.1L520.2 519.1L522.5 519.5L525.8 519.1L529.1 518.0L532.4 516.5L535.7 514.7L539.0 513.0L542.4 511.5L545.7 510.5L549.0 509.7L552.3 509.4L555.6 509.2L559.4 509.0L563.3 508.6L567.1 508.1L571.0 507.7L574.8 507.8L578.6 508.3L582.5 509.2L586.3 510.2L590.2 510.9L594.0 511.2L597.2 511.4L600.5 512.1L603.8 513.2L607.0 514.7L610.2 516.4L613.5 518.3L616.8 520.1L620.0 521.5L623.2 522.5L626.5 522.8M626.5 525.4L628.8 525.3L631.2 524.9L633.5 524.1L635.8 523.1L638.1 521.9L640.5 520.5L642.8 519.2L645.1 518.1L647.5 517.3L649.8 517.0"/><path d="M477.1 508.6L479.4 508.5L481.6 508.3L483.9 508.0L486.1 507.7L488.4 507.5L490.7 507.4L492.9 507.5L495.2 507.6L497.4 507.7L499.7 507.8L502.0 507.9L504.3 508.4L506.5 509.1L508.8 510.0L511.1 511.2L513.4 512.4L515.7 513.6L517.9 514.6L520.2 515.3L522.5 515.6L525.8 515.4L529.1 514.8L532.4 513.8L535.7 512.5L539.0 510.8L542.4 509.0L545.7 507.1L549.0 505.6L552.3 504.6L555.6 504.2L559.4 504.2L563.3 504.2L567.1 504.4L571.0 505.1L574.8 506.4L578.6 508.3L582.5 510.4L586.3 512.4L590.2 513.9L594.0 514.4L597.2 514.4L600.5 514.6L603.8 514.9L607.0 515.5L610.2 516.3L613.5 517.4L616.8 518.6L620.0 519.6L623.2 520.3L626.5 520.6M626.5 513.0L628.8 513.1L631.2 513.2L633.5 513.4L635.8 513.4L638.1 513.2L640.5 512.8L642.8 512.3L645.1 511.7L647.5 511.3L649.8 511.2"/><path d="M477.1 504.7L479.4 504.7L481.6 504.8L483.9 504.8L486.1 504.6L488.4 504.4L490.7 503.9L492.9 503.4L495.2 502.9L497.4 502.5L499.7 502.4L502.0 502.8L504.3 504.0L506.5 505.9L508.8 508.3L511.1 511.0L513.4 513.6L515.7 515.9L517.9 517.7L520.2 518.9L522.5 519.3L525.8 519.4L529.1 519.6L532.4 519.6L535.7 519.0L539.0 517.8L542.4 515.7L545.7 513.3L549.0 510.9L552.3 509.2L555.6 508.6L559.4 508.7L563.3 508.8L567.1 509.2L571.0 509.8L574.8 510.6L578.6 511.5L582.5 512.6L586.3 513.5L590.2 514.1L594.0 514.4L597.2 514.2L600.5 513.9L603.8 513.4L607.0 512.8L610.2 512.1L613.5 511.4L616.8 510.9L620.0 510.4L623.2 510.1L626.5 510.0M626.5 517.0L628.8 516.4L631.2 514.7L633.5 512.1L635.8 508.9L638.1 505.3L640.5 501.8L642.8 498.7L645.1 496.2L647.5 494.6L649.8 494.1"/><path d="M477.1 505.9L479.4 505.7L481.6 505.4L483.9 505.0L486.1 504.6L488.4 504.5L490.7 504.5L492.9 504.7L495.2 505.0L497.4 505.3L499.7 505.4L502.0 505.3L504.3 505.3L506.5 505.3L508.8 505.5L511.1 506.0L513.4 506.6L515.7 507.5L517.9 508.3L520.2 508.8L522.5 509.0L525.8 509.0L529.1 508.9L532.4 508.7L535.7 508.4L539.0 508.1L542.4 507.8L545.7 507.5L549.0 507.3L552.3 507.1L555.6 507.1L559.4 507.2L563.3 507.6L567.1 508.0L571.0 508.4L574.8 508.5L578.6 508.5L582.5 508.2L586.3 507.8L590.2 507.5L594.0 507.4L597.2 507.6L600.5 508.3L603.8 509.5L607.0 510.9L610.2 512.4L613.5 513.9L616.8 515.3L620.0 516.3L623.2 517.0L626.5 517.2M626.5 506.6L628.8 506.7L631.2 507.1L633.5 507.5L635.8 507.9L638.1 508.1L640.5 508.0L642.8 507.8L645.1 507.4L647.5 507.1L649.8 507.0"/><path d="M477.1 504.1L479.4 504.2L481.6 504.3L483.9 504.3L486.1 503.9L488.4 503.1L490.7 501.8L492.9 500.2L495.2 498.7L497.4 497.6L499.7 497.2L502.0 497.7L504.3 499.0L506.5 501.2L508.8 504.0L511.1 507.1L513.4 510.5L515.7 513.5L517.9 516.1L520.2 517.7L522.5 518.3L525.8 518.1L529.1 517.5L532.4 516.5L535.7 515.0L539.0 513.1L542.4 511.0L545.7 508.9L549.0 507.0L552.3 505.8L555.6 505.3L559.4 505.2L563.3 505.1L567.1 505.0L571.0 505.2L574.8 505.8L578.6 506.8L582.5 508.2L586.3 509.5L590.2 510.4L594.0 510.8L597.2 510.8L600.5 510.7L603.8 510.6L607.0 510.3L610.2 509.8L613.5 509.2L616.8 508.5L620.0 507.8L623.2 507.4L626.5 507.2M626.5 512.1L628.8 512.3L631.2 512.8L633.5 513.3L635.8 513.6L638.1 513.3L640.5 512.6L642.8 511.4L645.1 510.1L647.5 509.2L649.8 508.8"/><path d="M477.1 499.5L479.4 499.8L481.6 500.6L483.9 501.9L486.1 503.5L488.4 505.3L490.7 506.9L492.9 508.4L495.2 509.5L497.4 510.3L499.7 510.5L502.0 510.2L504.3 509.5L506.5 508.7L508.8 508.1L511.1 508.0L513.4 508.6L515.7 509.6L517.9 510.7L520.2 511.6L522.5 512.0L525.8 511.7L529.1 510.8L532.4 509.5L535.7 508.0L539.0 506.3L542.4 504.8L545.7 503.5L549.0 502.6L552.3 502.0L555.6 501.8L559.4 501.2L563.3 499.4L567.1 496.6L571.0 492.8L574.8 488.3L578.6 483.5L582.5 479.0L586.3 475.3L590.2 472.8L594.0 471.9L597.2 473.0L600.5 476.2L603.8 481.0L607.0 487.0L610.2 493.5L613.5 500.0L616.8 505.7L620.0 510.1L623.2 512.9L626.5 513.9M626.5 507.7L628.8 507.5L631.2 507.0L633.5 506.2L635.8 505.4L638.1 504.8L640.5 504.4L642.8 504.2L645.1 504.2L647.5 504.3L649.8 504.3"/><path d="M477.1 506.8L479.4 506.7L481.6 506.4L483.9 505.9L486.1 505.3L488.4 504.5L490.7 503.6L492.9 502.7L495.2 502.0L497.4 501.5L499.7 501.3L502.0 501.5L504.3 501.8L506.5 502.3L508.8 503.0L511.1 503.8L513.4 504.7L515.7 505.5L517.9 506.2L520.2 506.7L522.5 506.9L525.8 506.7L529.1 506.1L532.4 505.1L535.7 503.7L539.0 501.9L542.4 499.9L545.7 497.8L549.0 496.0L552.3 494.8L555.6 494.3L559.4 494.6L563.3 495.6L567.1 497.0L571.0 498.7L574.8 500.7L578.6 502.6L582.5 504.3L586.3 505.7L590.2 506.5L594.0 506.8L597.2 506.8L600.5 506.5L603.8 506.2L607.0 505.8L610.2 505.3L613.5 504.9L616.8 504.5L620.0 504.2L623.2 504.0L626.5 503.9M626.5 499.4L628.8 499.5L631.2 499.8L633.5 500.2L635.8 500.9L638.1 501.6L640.5 502.3L642.8 503.0L645.1 503.6L647.5 503.9L649.8 504.1"/><path d="M477.1 490.8L479.4 491.0L481.6 491.7L483.9 492.9L486.1 494.7L488.4 497.0L490.7 499.7L492.9 502.4L495.2 504.7L497.4 506.3L499.7 506.8L502.0 507.0L504.3 507.3L506.5 507.7L508.8 507.8L511.1 507.4L513.4 506.6L515.7 505.4L517.9 504.2L520.2 503.3L522.5 503.0L525.8 502.9L529.1 502.5L532.4 502.0L535.7 501.5L539.0 501.1L542.4 500.8L545.7 500.8L549.0 500.8L552.3 500.9L555.6 501.0L559.4 501.2L563.3 502.0L567.1 503.0L571.0 504.1L574.8 505.0L578.6 505.7L582.5 506.1L586.3 506.3L590.2 506.3L594.0 506.3L597.2 506.4L600.5 506.4L603.8 506.4L607.0 506.5L610.2 506.5L613.5 506.6L616.8 506.7L620.0 506.7L623.2 506.8L626.5 506.8M626.5 505.2L628.8 505.2L631.2 505.0L633.5 504.9L635.8 505.0L638.1 505.1L640.5 505.5L642.8 506.0L645.1 506.5L647.5 506.8L649.8 507.0"/><path d="M477.1 489.6L479.4 489.7L481.6 490.0L483.9 490.7L486.1 491.6L488.4 492.9L490.7 494.4L492.9 495.9L495.2 497.2L497.4 498.1L499.7 498.4L502.0 498.8L504.3 499.8L506.5 501.6L508.8 503.9L511.1 506.7L513.4 509.7L515.7 512.6L517.9 515.0L520.2 516.7L522.5 517.2L525.8 516.7L529.1 515.3L532.4 513.2L535.7 510.7L539.0 508.0L542.4 505.4L545.7 503.2L549.0 501.5L552.3 500.4L555.6 500.1L559.4 500.3L563.3 500.9L567.1 501.7L571.0 502.7L574.8 503.7L578.6 504.6L582.5 505.3L586.3 505.8L590.2 506.0L594.0 506.1L597.2 506.1L600.5 506.1L603.8 506.0L607.0 505.9L610.2 505.9L613.5 505.8L616.8 505.7L620.0 505.7L623.2 505.7L626.5 505.7M626.5 500.7L628.8 500.9L631.2 501.5L633.5 502.3L635.8 503.3L638.1 504.3L640.5 505.1L642.8 505.8L645.1 506.3L647.5 506.6L649.8 506.6"/><path d="M477.1 478.6L479.4 478.8L481.6 479.4L483.9 480.2L486.1 481.3L488.4 482.6L490.7 483.9L492.9 485.1L495.2 486.0L497.4 486.6L499.7 486.9L502.0 487.3L504.3 488.6L506.5 490.6L508.8 493.1L511.1 496.0L513.4 498.8L515.7 501.4L517.9 503.5L520.2 504.9L522.5 505.3L525.8 504.6L529.1 502.4L532.4 499.2L535.7 495.1L539.0 490.8L542.4 486.6L545.7 483.0L549.0 480.1L552.3 478.4L555.6 477.8L559.4 478.7L563.3 481.4L567.1 485.6L571.0 490.9L574.8 496.7L578.6 502.5L582.5 507.7L586.3 511.8L590.2 514.5L594.0 515.4L597.2 515.2L600.5 514.6L603.8 513.7L607.0 512.4L610.2 510.9L613.5 509.2L616.8 507.6L620.0 506.3L623.2 505.4L626.5 505.1M626.5 495.6L628.8 495.5L631.2 494.9L633.5 494.0L635.8 492.6L638.1 490.9L640.5 488.9L642.8 487.0L645.1 485.3L647.5 484.1L649.8 483.7"/><path d="M477.1 484.7L479.4 484.8L481.6 485.0L483.9 485.2L486.1 485.3L488.4 485.1L490.7 484.7L492.9 484.2L495.2 483.5L497.4 483.1L499.7 482.9L502.0 483.2L504.3 483.8L506.5 484.9L508.8 486.4L511.1 488.0L513.4 489.7L515.7 491.3L517.9 492.6L520.2 493.5L522.5 493.8L525.8 493.8L529.1 493.8L532.4 493.7L535.7 493.3L539.0 492.6L542.4 491.6L545.7 490.4L549.0 489.3L552.3 488.5L555.6 488.2L559.4 487.6L563.3 486.1L567.1 483.7L571.0 480.9L574.8 478.1L578.6 475.5L582.5 473.3L586.3 471.8L590.2 470.8L594.0 470.5L597.2 471.1L600.5 472.6L603.8 475.0L607.0 477.9L610.2 481.0L613.5 483.9L616.8 486.4L620.0 488.2L623.2 489.4L626.5 489.8M626.5 511.7L628.8 511.7L631.2 511.9L633.5 511.9L635.8 511.7L638.1 511.1L640.5 510.2L642.8 509.1L645.1 508.0L647.5 507.2L649.8 506.9"/><path d="M477.1 497.5L479.4 497.6L481.6 498.0L483.9 498.4L486.1 498.8L488.4 498.8L490.7 498.5L492.9 498.0L495.2 497.4L497.4 496.9L499.7 496.7L502.0 496.7L504.3 496.7L506.5 496.7L508.8 496.7L511.1 496.8L513.4 497.0L515.7 497.2L517.9 497.5L520.2 497.6L522.5 497.7L525.8 497.8L529.1 498.1L532.4 498.7L535.7 499.6L539.0 500.6L542.4 501.8L545.7 503.0L549.0 504.0L552.3 504.7L555.6 504.9L559.4 505.0L563.3 505.3L567.1 505.6L571.0 506.0L574.8 506.3L578.6 506.5L582.5 506.6L586.3 506.6L590.2 506.5L594.0 506.5L597.2 506.2L600.5 505.4L603.8 504.2L607.0 502.8L610.2 501.4L613.5 500.2L616.8 499.3L620.0 498.7L623.2 498.3L626.5 498.2M626.5 475.6L628.8 475.6L631.2 475.7L633.5 475.7L635.8 475.7L638.1 475.5L640.5 475.2L642.8 474.7L645.1 474.3L647.5 474.0L649.8 473.9"/><path d="M477.1 470.4L479.4 470.7L481.6 471.7L483.9 473.0L486.1 474.6L488.4 476.2L490.7 477.6L492.9 478.6L495.2 479.4L497.4 479.8L499.7 480.0L502.0 480.5L504.3 482.1L506.5 484.4L508.8 487.3L511.1 490.4L513.4 493.4L515.7 496.0L517.9 497.9L520.2 499.1L522.5 499.6L525.8 499.2L529.1 498.2L532.4 496.6L535.7 494.5L539.0 492.1L542.4 489.6L545.7 487.4L549.0 485.6L552.3 484.4L555.6 484.0L559.4 483.6L563.3 482.7L567.1 481.3L571.0 479.6L574.8 477.7L578.6 475.9L582.5 474.2L586.3 472.9L590.2 472.1L594.0 471.8L597.2 472.4L600.5 474.1L603.8 476.7L607.0 480.0L610.2 483.5L613.5 487.0L616.8 490.1L620.0 492.5L623.2 494.0L626.5 494.5M626.5 483.6L628.8 483.9L631.2 484.9L633.5 486.5L635.8 488.4L638.1 490.7L640.5 493.0L642.8 495.2L645.1 496.9L647.5 498.0L649.8 498.4"/><path d="M477.1 498.8L479.4 498.7L481.6 498.2L483.9 497.5L486.1 496.6L488.4 495.5L490.7 494.4L492.9 493.4L495.2 492.5L497.4 492.0L499.7 491.8L502.0 492.2L504.3 493.4L506.5 495.2L508.8 497.4L511.1 499.8L513.4 502.2L515.7 504.2L517.9 505.8L520.2 506.7L522.5 507.1L525.8 506.9L529.1 506.3L532.4 505.4L535.7 504.3L539.0 503.2L542.4 502.1L545.7 501.3L549.0 500.6L552.3 500.2L555.6 500.1L559.4 499.1L563.3 496.2L567.1 491.8L571.0 486.3L574.8 480.4L578.6 474.6L582.5 469.5L586.3 465.5L590.2 462.9L594.0 462.1L597.2 463.1L600.5 466.2L603.8 470.9L607.0 476.6L610.2 482.9L613.5 489.0L616.8 494.4L620.0 498.6L623.2 501.3L626.5 502.2M626.5 482.7L628.8 482.6L631.2 482.0L633.5 481.1L635.8 479.9L638.1 478.4L640.5 476.7L642.8 475.2L645.1 473.9L647.5 473.0L649.8 472.7"/><path d="M477.1 465.5L479.4 466.3L481.6 468.5L483.9 471.8L486.1 475.6L488.4 479.5L490.7 482.9L492.9 485.5L495.2 487.4L497.4 488.5L499.7 488.9L502.0 488.8L504.3 488.4L506.5 487.9L508.8 487.2L511.1 486.5L513.4 485.7L515.7 485.1L517.9 484.5L520.2 484.2L522.5 484.1L525.8 483.8L529.1 483.1L532.4 482.2L535.7 481.2L539.0 480.5L542.4 480.1L545.7 480.0L549.0 480.1L552.3 480.3L555.6 480.4L559.4 481.0L563.3 482.7L567.1 485.4L571.0 488.8L574.8 492.6L578.6 496.4L582.5 499.9L586.3 502.7L590.2 504.4L594.0 505.1L597.2 504.3L600.5 502.1L603.8 498.7L607.0 494.3L610.2 489.3L613.5 484.3L616.8 479.6L620.0 475.9L623.2 473.5L626.5 472.7M626.5 478.2L628.8 478.7L631.2 480.1L633.5 482.2L635.8 484.4L638.1 486.5L640.5 488.2L642.8 489.4L645.1 490.1L647.5 490.4L649.8 490.5"/><path d="M477.1 473.0L479.4 473.1L481.6 473.1L483.9 473.3L486.1 473.4L488.4 473.5L490.7 473.5L492.9 473.5L495.2 473.5L497.4 473.5L499.7 473.5L502.0 473.9L504.3 475.1L506.5 476.9L508.8 479.4L511.1 482.1L513.4 484.8L515.7 487.4L517.9 489.4L520.2 490.8L522.5 491.2L525.8 490.7L529.1 488.9L532.4 486.3L535.7 482.9L539.0 479.1L542.4 475.2L545.7 471.8L549.0 469.0L552.3 467.2L555.6 466.6L559.4 467.6L563.3 470.6L567.1 475.1L571.0 480.7L574.8 486.8L578.6 492.8L582.5 498.1L586.3 502.2L590.2 504.7L594.0 505.6L597.2 504.8L600.5 502.3L603.8 498.5L607.0 493.7L610.2 488.5L613.5 483.3L616.8 478.8L620.0 475.2L623.2 473.0L626.5 472.2M626.5 502.7L628.8 502.4L631.2 501.2L633.5 499.4L635.8 497.2L638.1 494.7L640.5 492.2L642.8 489.9L645.1 488.0L647.5 486.9L649.8 486.5"/><path d="M477.1 465.2L479.4 465.9L481.6 467.9L483.9 470.9L486.1 474.9L488.4 479.3L490.7 483.9L492.9 488.0L495.2 491.4L497.4 493.6L499.7 494.3L502.0 494.7L504.3 495.7L506.5 497.3L508.8 499.1L511.1 500.9L513.4 502.6L515.7 504.0L517.9 504.9L520.2 505.5L522.5 505.7L525.8 504.8L529.1 502.0L532.4 497.8L535.7 492.5L539.0 486.7L542.4 481.1L545.7 476.1L549.0 472.2L552.3 469.8L555.6 468.9L559.4 469.9L563.3 472.8L567.1 477.1L571.0 482.4L574.8 488.1L578.6 493.7L582.5 498.5L586.3 502.2L590.2 504.5L594.0 505.3L597.2 504.8L600.5 503.5L603.8 501.5L607.0 498.9L610.2 496.0L613.5 493.2L616.8 490.6L620.0 488.5L623.2 487.1L626.5 486.7M626.5 490.2L628.8 490.1L631.2 489.8L633.5 489.4L635.8 488.6L638.1 487.7L640.5 486.6L642.8 485.4L645.1 484.4L647.5 483.7L649.8 483.5"/><path d="M477.1 469.3L479.4 469.1L481.6 468.7L483.9 468.0L486.1 467.1L488.4 466.2L490.7 465.3L492.9 464.5L495.2 463.9L497.4 463.5L499.7 463.4L502.0 463.7L504.3 464.6L506.5 466.1L508.8 467.9L511.1 469.9L513.4 472.0L515.7 473.8L517.9 475.3L520.2 476.2L522.5 476.5L525.8 476.0L529.1 474.4L532.4 471.9L535.7 468.9L539.0 465.6L542.4 462.4L545.7 459.5L549.0 457.3L552.3 456.0L555.6 455.5L559.4 455.8L563.3 456.8L567.1 458.2L571.0 459.8L574.8 461.3L578.6 462.6L582.5 463.5L586.3 464.1L590.2 464.4L594.0 464.5L597.2 465.0L600.5 466.3L603.8 468.3L607.0 470.6L610.2 473.0L613.5 475.1L616.8 476.9L620.0 478.1L623.2 478.9L626.5 479.1M626.5 461.9L628.8 461.9L631.2 461.8L633.5 461.8L635.8 462.2L638.1 462.9L640.5 464.1L642.8 465.5L645.1 466.8L647.5 467.8L649.8 468.2"/><path d="M477.1 454.5L479.4 454.7L481.6 455.3L483.9 456.2L486.1 457.4L488.4 458.8L490.7 460.2L492.9 461.6L495.2 462.7L497.4 463.4L499.7 463.7L502.0 463.9L504.3 464.3L506.5 465.1L508.8 466.2L511.1 467.5L513.4 468.8L515.7 470.1L517.9 471.1L520.2 471.9L522.5 472.1L525.8 471.8L529.1 470.9L532.4 469.6L535.7 468.0L539.0 466.4L542.4 464.9L545.7 463.6L549.0 462.7L552.3 462.1L555.6 461.9L559.4 461.8L563.3 461.4L567.1 460.8L571.0 460.2L574.8 459.7L578.6 459.4L582.5 459.3L586.3 459.2L590.2 459.3L594.0 459.3L597.2 459.2L600.5 459.1L603.8 458.9L607.0 458.7L610.2 458.6L613.5 458.6L616.8 458.7L620.0 458.9L623.2 459.0L626.5 459.0M626.5 464.1L628.8 464.1L631.2 463.9L633.5 463.7L635.8 463.4L638.1 463.2L640.5 463.0L642.8 462.9L645.1 462.9L647.5 462.9L649.8 462.9"/><path d="M477.1 482.1L479.4 481.7L481.6 480.4L483.9 478.4L486.1 475.7L488.4 472.4L490.7 468.9L492.9 465.4L495.2 462.6L497.4 460.7L499.7 460.0L502.0 460.9L504.3 463.4L506.5 467.4L508.8 472.5L511.1 478.1L513.4 483.8L515.7 489.1L517.9 493.2L520.2 496.0L522.5 496.9L525.8 496.2L529.1 494.4L532.4 491.6L535.7 488.2L539.0 484.6L542.4 481.1L545.7 478.1L549.0 475.8L552.3 474.4L555.6 473.9L559.4 473.9L563.3 474.0L567.1 473.9L571.0 473.8L574.8 473.5L578.6 473.1L582.5 472.5L586.3 472.0L590.2 471.6L594.0 471.5L597.2 471.4L600.5 471.2L603.8 470.8L607.0 470.2L610.2 469.3L613.5 468.2L616.8 467.1L620.0 466.1L623.2 465.4L626.5 465.2M626.5 472.0L628.8 471.6L631.2 470.6L633.5 469.2L635.8 467.9L638.1 466.8L640.5 466.3L642.8 466.2L645.1 466.4L647.5 466.6L649.8 466.8"/><path d="M477.1 455.6L479.4 456.0L481.6 457.1L483.9 458.8L486.1 460.7L488.4 462.7L490.7 464.4L492.9 465.8L495.2 466.8L497.4 467.4L499.7 467.6L502.0 467.7L504.3 467.8L506.5 467.9L508.8 467.9L511.1 467.8L513.4 467.6L515.7 467.2L517.9 466.8L520.2 466.6L522.5 466.4L525.8 466.5L529.1 466.5L532.4 466.6L535.7 466.7L539.0 467.0L542.4 467.4L545.7 467.8L549.0 468.1L552.3 468.4L555.6 468.5L559.4 468.7L563.3 469.3L567.1 470.0L571.0 470.6L574.8 471.0L578.6 470.9L582.5 470.5L586.3 470.0L590.2 469.5L594.0 469.4L597.2 468.8L600.5 467.1L603.8 464.6L607.0 461.6L610.2 458.3L613.5 455.3L616.8 452.7L620.0 450.7L623.2 449.5L626.5 449.1M626.5 461.2L628.8 461.1L631.2 460.8L633.5 460.4L635.8 460.2L638.1 460.1L640.5 460.3L642.8 460.6L645.1 461.1L647.5 461.4L649.8 461.5"/><path d="M477.1 454.0L479.4 454.1L481.6 454.4L483.9 454.8L486.1 455.5L488.4 456.2L490.7 457.0L492.9 457.8L495.2 458.4L497.4 458.8L499.7 459.0L502.0 459.2L504.3 459.8L506.5 460.8L508.8 462.3L511.1 464.1L513.4 466.3L515.7 468.5L517.9 470.3L520.2 471.6L522.5 472.1L525.8 472.0L529.1 471.7L532.4 471.3L535.7 471.0L539.0 470.8L542.4 470.9L545.7 471.2L549.0 471.5L552.3 471.8L555.6 471.9L559.4 471.5L563.3 470.3L567.1 468.6L571.0 466.6L574.8 464.7L578.6 463.2L582.5 462.0L586.3 461.2L590.2 460.8L594.0 460.7L597.2 461.0L600.5 461.8L603.8 462.9L607.0 464.1L610.2 465.2L613.5 466.0L616.8 466.4L620.0 466.6L623.2 466.6L626.5 466.6M626.5 470.9L628.8 471.0L631.2 471.2L633.5 471.4L635.8 471.5L638.1 471.4L640.5 471.1L642.8 470.5L645.1 470.0L647.5 469.6L649.8 469.4"/><path d="M477.1 447.8L479.4 448.2L481.6 449.3L483.9 450.9L486.1 452.9L488.4 454.9L490.7 456.8L492.9 458.5L495.2 459.7L497.4 460.4L499.7 460.7L502.0 460.9L504.3 461.3L506.5 461.9L508.8 462.4L511.1 462.8L513.4 462.9L515.7 462.8L517.9 462.6L520.2 462.4L522.5 462.4L525.8 462.2L529.1 461.7L532.4 460.7L535.7 459.2L539.0 457.1L542.4 454.7L545.7 452.2L549.0 449.9L552.3 448.4L555.6 447.8L559.4 448.3L563.3 449.7L567.1 451.8L571.0 454.5L574.8 457.5L578.6 460.6L582.5 463.4L586.3 465.7L590.2 467.2L594.0 467.7L597.2 468.1L600.5 469.4L603.8 471.3L607.0 473.5L610.2 475.8L613.5 477.9L616.8 479.7L620.0 481.0L623.2 481.8L626.5 482.1M626.5 457.6L628.8 457.2L631.2 456.3L633.5 455.2L635.8 454.1L638.1 453.4L640.5 453.2L642.8 453.5L645.1 454.1L647.5 454.6L649.8 454.8"/><path d="M477.1 447.8L479.4 448.2L481.6 449.1L483.9 450.5L486.1 452.2L488.4 454.1L490.7 455.9L492.9 457.4L495.2 458.6L497.4 459.3L499.7 459.6L502.0 459.7L504.3 460.0L506.5 460.6L508.8 461.3L511.1 462.3L513.4 463.3L515.7 464.4L517.9 465.2L520.2 465.8L522.5 466.0L525.8 465.7L529.1 464.9L532.4 463.4L535.7 461.3L539.0 458.8L542.4 456.1L545.7 453.3L549.0 451.0L552.3 449.5L555.6 448.9L559.4 450.1L563.3 453.8L567.1 459.6L571.0 467.3L574.8 476.2L578.6 485.6L582.5 494.4L586.3 501.6L590.2 506.4L594.0 508.1L597.2 506.7L600.5 502.7L603.8 496.6L607.0 489.1L610.2 481.0L613.5 473.1L616.8 466.1L620.0 460.7L623.2 457.3L626.5 456.1M626.5 461.2L628.8 461.0L631.2 460.7L633.5 460.4L635.8 460.3L638.1 460.4L640.5 461.0L642.8 461.7L645.1 462.5L647.5 463.2L649.8 463.4"/><path d="M477.1 453.8L479.4 455.1L481.6 458.8L483.9 464.6L486.1 471.8L488.4 479.6L490.7 487.4L492.9 494.3L495.2 499.7L497.4 503.2L499.7 504.4L502.0 503.8L504.3 502.1L506.5 499.3L508.8 495.7L511.1 491.5L513.4 487.1L515.7 482.9L517.9 479.5L520.2 477.2L522.5 476.4L525.8 475.7L529.1 473.8L532.4 470.7L535.7 466.8L539.0 462.6L542.4 458.3L545.7 454.5L549.0 451.4L552.3 449.5L555.6 448.8L559.4 449.3L563.3 450.6L567.1 452.6L571.0 454.9L574.8 457.5L578.6 459.8L582.5 461.8L586.3 463.4L590.2 464.3L594.0 464.6L597.2 464.1L600.5 462.6L603.8 460.4L607.0 457.8L610.2 455.2L613.5 452.9L616.8 451.0L620.0 449.7L623.2 448.9L626.5 448.7M626.5 455.8L628.8 455.8L631.2 455.7L633.5 455.6L635.8 455.7L638.1 456.0L640.5 456.5L642.8 457.2L645.1 457.8L647.5 458.3L649.8 458.4"/></g><line x1="52.5" y1="141.5" x2="391.5" y2="141.5" stroke="#222" stroke-width="1.3"/><line x1="34.8" y1="453.3" x2="379.0" y2="453.3" stroke="#222" stroke-width="1.3"/><line x1="463.5" y1="73.9" x2="807.0" y2="73.9" stroke="#888" stroke-width="1.4"/><line x1="477.1" y1="447.8" x2="649.8" y2="447.8" stroke="#555" stroke-width="1.4"/><line x1="649.8" y1="444.8" x2="821.0" y2="444.8" stroke="#777" stroke-width="1.4"/><path d="M463.5 90.6L465.9 90.6L468.2 90.6L470.6 90.6L472.9 90.6L475.2 90.5L477.6 90.5L479.9 90.5L482.3 90.5L484.6 90.4L487.0 90.4L489.3 90.0L491.6 88.9L494.0 87.1L496.3 84.9L498.6 82.4L500.9 79.9L503.2 77.7L505.6 75.9L507.9 74.7L510.2 74.4L513.4 74.8L516.6 76.0L519.7 77.9L522.9 80.2L526.1 82.9L529.3 85.5L532.5 87.9L535.6 89.8L538.8 91.0L542.0 91.4L545.9 91.1L549.8 90.2L553.6 88.7L557.5 86.9L561.4 84.8L565.3 82.8L569.2 80.9L573.0 79.5L576.9 78.6L580.8 78.2L584.0 78.5L587.2 79.4L590.4 80.7L593.6 82.5L596.8 84.3L600.1 86.2L603.3 87.9L606.5 89.3L609.7 90.1L612.9 90.4M612.9 74.4L615.2 74.4L617.4 74.7L619.7 75.1L621.9 75.6L624.2 76.1L626.5 76.6L628.7 77.1L631.0 77.5L633.2 77.8L635.5 77.8" fill="none" stroke="#ee2222" stroke-width="1.3"/><path d="M34.8 451.9L37.2 452.2L39.5 453.1L41.9 454.5L44.2 456.2L46.6 458.1L49.0 460.1L51.3 461.8L53.7 463.2L56.0 464.0L58.4 464.3L60.7 464.3L63.0 464.2L65.3 464.1L67.6 463.9L69.9 463.7L72.2 463.4L74.5 463.3L76.8 463.1L79.1 463.0L81.4 463.0L84.5 462.7L87.7 461.9L90.8 460.7L93.9 459.2L97.1 457.5L100.2 455.7L103.3 454.2L106.4 453.0L109.6 452.2L112.7 451.9L116.7 452.2L120.6 453.1L124.5 454.5L128.5 456.2L132.4 458.1L136.4 460.1L140.3 461.8L144.3 463.2L148.2 464.0L152.2 464.3L155.4 464.3L158.6 464.3L161.8 464.3L165.0 464.2L168.1 464.1L171.3 464.1L174.5 464.0L177.7 464.0L180.9 464.0L184.1 463.9M184.1 463.0L186.6 463.0L189.0 463.1L191.5 463.2L193.9 463.3L196.4 463.5L198.9 463.6L201.3 463.7L203.8 463.9L206.2 463.9L208.7 463.9" fill="none" stroke="#ee3333" stroke-width="1.3"/><path d="M34.8 451.9L37.2 452.0L39.5 452.1L41.9 452.2L44.2 452.4L46.6 452.6L49.0 452.8L51.3 453.0L53.7 453.2L56.0 453.3L58.4 453.3L60.7 453.5L63.0 454.2L65.3 455.3L67.6 456.6L69.9 458.1L72.2 459.6L74.5 461.0L76.8 462.1L79.1 462.7L81.4 463.0L84.5 462.7L87.7 461.9L90.8 460.7L93.9 459.2L97.1 457.5L100.2 455.7L103.3 454.2L106.4 453.0L109.6 452.2L112.7 451.9L116.7 452.2L120.6 453.1L124.5 454.5L128.5 456.2L132.4 458.1L136.4 460.1L140.3 461.8L144.3 463.2L148.2 464.0L152.2 464.3L155.4 464.1L158.6 463.3L161.8 462.1L165.0 460.5L168.1 458.8L171.3 457.1L174.5 455.6L177.7 454.3L180.9 453.6L184.1 453.3M184.1 463.0L186.6 463.0L189.0 463.1L191.5 463.2L193.9 463.3L196.4 463.5L198.9 463.6L201.3 463.7L203.8 463.9L206.2 463.9L208.7 463.9" fill="none" stroke="#2222ee" stroke-width="1.4"/><path d="M477.1 444.5L479.4 444.6L481.6 444.9L483.9 445.2L486.1 445.7L488.4 446.2L490.7 446.7L492.9 447.2L495.2 447.5L497.4 447.8L499.7 447.8L502.0 448.0L504.3 448.6L506.5 449.5L508.8 450.7L511.1 451.9L513.4 453.2L515.7 454.3L517.9 455.2L520.2 455.8L522.5 456.0L525.8 455.7L529.1 454.9L532.4 453.6L535.7 452.0L539.0 450.3L542.4 448.5L545.7 446.9L549.0 445.6L552.3 444.8L555.6 444.5L559.4 444.9L563.3 446.0L567.1 447.6L571.0 449.6L574.8 451.9L578.6 454.2L582.5 456.2L586.3 457.9L590.2 458.9L594.0 459.3L597.2 459.0L600.5 458.2L603.8 456.9L607.0 455.3L610.2 453.6L613.5 451.8L616.8 450.2L620.0 448.9L623.2 448.1L626.5 447.8M626.5 456.4L628.8 456.4L631.2 456.6L633.5 456.9L635.8 457.2L638.1 457.5L640.5 457.9L642.8 458.2L645.1 458.5L647.5 458.6L649.8 458.7" fill="none" stroke="#ee2222" stroke-width="1.3"/><path d="M477.1 444.5L479.4 444.6L481.6 444.9L483.9 445.2L486.1 445.7L488.4 446.2L490.7 446.7L492.9 447.2L495.2 447.5L497.4 447.8L499.7 447.8L502.0 447.6L504.3 447.0L506.5 445.9L508.8 444.6L511.1 443.2L513.4 441.8L515.7 440.5L517.9 439.4L520.2 438.8L522.5 438.5L525.8 438.7L529.1 439.1L532.4 439.8L535.7 440.6L539.0 441.5L542.4 442.5L545.7 443.3L549.0 444.0L552.3 444.4L555.6 444.5L559.4 444.4L563.3 443.9L567.1 443.2L571.0 442.3L574.8 441.3L578.6 440.4L582.5 439.5L586.3 438.8L590.2 438.3L594.0 438.1L597.2 438.4L600.5 439.1L603.8 440.1L607.0 441.5L610.2 443.0L613.5 444.5L616.8 445.8L620.0 446.9L623.2 447.6L626.5 447.8M626.5 438.5L628.8 438.5L631.2 438.5L633.5 438.5L635.8 438.5L638.1 438.5L640.5 438.5L642.8 438.5L645.1 438.5L647.5 438.5L649.8 438.5" fill="none" stroke="#2222ee" stroke-width="1.3"/><path d="M477.1 444.5L479.4 444.6L481.6 444.9L483.9 445.2L486.1 445.7L488.4 446.2L490.7 446.7L492.9 447.2L495.2 447.5L497.4 447.8L499.7 447.8L502.0 448.0L504.3 448.3L506.5 448.8L508.8 449.4L511.1 450.1L513.4 450.8L515.7 451.4L517.9 451.9L520.2 452.2L522.5 452.3L525.8 452.1L529.1 451.6L532.4 450.7L535.7 449.6L539.0 448.4L542.4 447.2L545.7 446.1L549.0 445.3L552.3 444.7L555.6 444.5L559.4 444.5L563.3 444.3L567.1 443.9L571.0 443.5L574.8 443.0L578.6 442.5L582.5 442.1L586.3 441.7L590.2 441.5L594.0 441.4L597.2 441.6L600.5 442.1L603.8 442.8L607.0 443.7L610.2 444.6L613.5 445.6L616.8 446.5L620.0 447.2L623.2 447.7L626.5 447.8M626.5 452.5L628.8 452.2L631.2 451.2L633.5 449.6L635.8 447.7L638.1 445.5L640.5 443.4L642.8 441.4L645.1 439.9L647.5 438.9L649.8 438.5" fill="none" stroke="#2222ee" stroke-width="1.3"/><path d="M223.2 82.5C226.2 81.2 239.3 77.2 241.0 75.0C242.8 72.8 230.9 71.2 233.7 69.6C236.5 68.0 257.6 66.6 257.7 65.3C257.9 64.0 232.7 63.4 234.7 62.0C236.8 60.6 268.7 58.7 270.2 57.1C271.8 55.5 240.3 54.0 244.2 52.3C248.0 50.6 291.1 48.1 293.2 46.9C295.3 45.6 253.0 46.0 256.7 44.8C260.4 43.7 310.4 41.5 315.6 40.0C320.8 38.5 296.3 37.3 287.7 36.1C279.1 34.9 270.9 34.1 264.2 32.6C257.5 31.1 252.9 29.0 247.4 27.1C241.9 25.2 231.4 22.7 231.3 21.1C231.2 19.6 246.2 19.1 246.8 17.8C247.4 16.5 234.8 15.1 235.0 13.5C235.1 11.9 245.0 9.2 247.6 8.1C250.3 7.0 250.2 7.3 250.8 7.1" fill="none" stroke="#2222ee" stroke-width="1.3"/><path d="M223.2 81.9C226.3 80.7 239.8 76.6 241.6 74.4C243.4 72.2 231.1 70.6 234.0 69.0C236.9 67.4 258.6 66.0 258.8 64.7C259.0 63.4 232.9 62.8 235.1 61.4C237.2 60.0 270.1 58.1 271.7 56.5C273.3 54.9 240.9 53.4 244.8 51.7C248.8 50.0 292.3 47.5 295.4 46.3C298.4 45.0 256.8 45.4 263.1 44.2C269.4 43.1 327.1 40.9 333.2 39.4C339.3 37.9 310.2 36.7 300.0 35.5C289.8 34.3 280.0 33.5 272.0 32.0C264.0 30.5 258.5 28.4 252.0 26.5C245.5 24.6 233.0 22.1 232.9 20.5C232.8 18.9 250.6 18.5 251.3 17.2C252.0 15.9 237.0 14.5 237.2 12.9C237.4 11.3 249.2 8.6 252.3 7.5C255.4 6.4 255.4 6.7 256.0 6.5" fill="none" stroke="#111111" stroke-width="1.1"/><path d="M224.0 6.5C224.2 7.9 225.4 12.5 225.5 15.0C225.6 17.5 224.0 19.1 224.5 21.6C225.0 24.1 225.9 27.1 228.6 30.2C231.3 33.2 240.1 37.8 240.5 39.9C240.9 42.0 231.9 42.0 230.8 43.1C229.7 44.2 234.7 44.9 234.0 46.3C233.3 47.7 227.2 50.1 226.5 51.7C225.8 53.3 229.9 53.8 229.7 56.0C229.5 58.2 226.3 61.1 225.4 64.7C224.5 68.3 224.7 74.7 224.3 77.6C223.9 80.5 223.4 81.3 223.2 82.0" fill="none" stroke="#ee2222" stroke-width="1.1"/><path d="M223.2 138.5C228.7 139.2 250.3 141.5 256.1 142.7C261.9 143.9 255.9 145.0 258.2 145.9C260.5 146.8 269.7 147.2 269.9 148.1C270.1 149.0 252.8 150.1 259.3 151.2C265.9 152.2 302.3 153.3 309.2 154.4C316.1 155.5 291.8 156.2 300.7 157.6C309.6 159.0 364.2 161.1 362.4 162.9C360.6 164.7 300.7 166.9 290.1 168.2C279.5 169.4 301.1 168.4 298.6 170.4C296.1 172.4 283.7 177.8 275.2 179.9C266.7 182.0 250.4 181.8 247.6 183.1C244.8 184.3 257.5 186.0 258.2 187.4C258.9 188.8 249.1 190.6 251.9 191.6C254.7 192.6 273.1 192.6 275.2 193.7C277.3 194.8 245.5 196.5 264.6 198.0C283.7 199.5 385.4 200.8 390.0 202.7C394.6 204.6 302.8 207.9 292.2 209.7C281.6 211.5 329.0 211.7 326.2 213.3C323.4 214.9 276.6 217.7 275.2 219.2C273.8 220.7 316.3 221.2 317.7 222.4C319.1 223.7 284.4 224.8 283.7 226.7C283.0 228.6 323.4 231.4 313.5 233.7C303.6 236.0 239.1 239.4 224.2 240.5" fill="none" stroke="#111111" stroke-width="1.1"/><path d="M223.2 138.5C228.7 139.2 250.3 141.5 256.1 142.7C261.9 143.9 255.9 145.0 258.2 145.9C260.5 146.8 269.7 147.2 269.9 148.1C270.1 149.0 252.8 150.1 259.3 151.2C265.9 152.2 302.3 153.3 309.2 154.4C316.1 155.5 293.8 156.2 300.7 157.6C307.6 159.0 353.5 161.1 350.7 162.9C347.9 164.7 297.0 165.5 283.7 168.2C270.4 170.9 277.0 176.4 271.0 178.9C265.0 181.4 251.5 181.2 247.6 183.1C243.7 185.0 244.8 188.6 247.6 190.6C250.4 192.6 263.5 193.6 264.6 194.8C265.7 196.0 238.1 196.3 254.0 197.6C269.9 198.9 356.3 200.7 360.2 202.7C364.1 204.7 287.7 208.0 277.4 209.7C267.1 211.4 301.4 211.5 298.6 212.9C295.8 214.3 261.8 216.6 260.4 218.2C259.0 219.8 289.2 221.1 290.1 222.4C291.0 223.7 265.7 224.2 265.7 226.0C265.7 227.8 297.0 231.1 290.1 233.5C283.2 235.9 235.2 239.3 224.2 240.5" fill="none" stroke="#ee2222" stroke-width="1.1"/><path d="M223.2 138.5C223.7 142.4 225.5 157.1 226.4 162.0C227.3 166.9 228.9 164.3 228.5 168.2C228.1 172.1 222.8 179.5 224.2 185.2C225.6 190.9 235.6 198.3 237.0 202.2C238.4 206.1 232.3 206.8 232.8 208.6C233.3 210.4 239.8 211.5 240.2 212.9C240.5 214.3 234.7 215.5 234.9 217.1C235.1 218.7 241.2 220.6 241.2 222.4C241.2 224.2 235.1 225.8 234.9 227.7C234.7 229.6 242.0 232.7 240.2 234.1C238.4 235.5 226.9 235.9 224.2 236.3" fill="none" stroke="#2222ee" stroke-width="1.1"/><path d="M223.2 195.0C225.2 196.3 234.4 200.8 235.0 203.0C235.6 205.2 228.8 204.3 227.0 208.0C225.2 211.7 224.6 220.0 224.0 225.0C223.4 230.0 223.6 235.8 223.5 238.0" fill="none" stroke="#cc33ee" stroke-width="1.1"/><path d="M223.2 196.0C224.0 197.0 227.9 199.7 228.0 202.0C228.1 204.3 224.8 204.3 224.0 210.0C223.2 215.7 223.6 231.7 223.5 236.0" fill="none" stroke="#229922" stroke-width="1.0"/><path d="M638.5 88.5C639.7 87.8 645.8 85.8 645.8 84.2C645.8 82.6 636.4 81.4 638.5 78.9C640.6 76.4 655.7 71.4 658.1 69.3C660.5 67.2 650.9 67.5 653.0 66.2C655.0 64.9 669.7 63.1 670.4 61.3C671.1 59.5 656.8 57.6 657.0 55.6C657.2 53.6 663.8 51.5 671.5 49.2C679.2 47.0 703.1 43.7 703.4 42.1C703.7 40.5 677.2 40.4 673.5 39.6C669.8 38.8 674.5 38.7 681.3 37.5C688.1 36.3 711.4 33.5 714.4 32.2C717.3 31.0 704.4 31.1 699.1 30.0C693.9 28.9 687.0 27.2 683.1 25.8C679.2 24.4 679.7 23.0 675.9 21.6C672.0 20.2 664.7 18.6 659.9 17.3C655.2 16.1 647.7 15.2 647.4 14.1C647.1 13.0 656.4 11.4 658.2 10.9" fill="none" stroke="#2222ee" stroke-width="1.3"/><path d="M638.5 87.9C639.8 87.2 646.0 85.2 646.0 83.6C646.0 82.0 636.4 80.8 638.5 78.3C640.6 75.8 656.2 70.8 658.7 68.7C661.2 66.6 651.3 66.9 653.4 65.6C655.5 64.3 670.7 62.5 671.4 60.7C672.1 58.9 657.4 57.0 657.6 55.0C657.8 53.0 664.5 50.9 672.5 48.6C680.5 46.4 705.0 43.1 705.4 41.5C705.8 39.9 677.2 39.8 674.6 39.0C672.0 38.2 680.5 38.1 689.5 36.9C698.5 35.7 725.3 32.9 728.8 31.6C732.3 30.4 716.9 30.5 710.7 29.4C704.5 28.3 696.2 26.6 691.6 25.2C687.0 23.8 687.6 22.4 683.0 21.0C678.4 19.6 669.6 17.9 664.0 16.7C658.4 15.4 649.5 14.6 649.1 13.5C648.8 12.4 659.8 10.8 661.9 10.3" fill="none" stroke="#111111" stroke-width="1.1"/><path d="M639.0 10.5C639.3 11.4 639.5 13.4 641.0 16.0C642.5 18.6 646.3 23.4 648.0 26.0C649.7 28.6 651.7 29.8 651.0 31.6C650.3 33.4 644.8 34.9 644.0 37.0C643.2 39.1 646.7 41.2 646.0 44.0C645.3 46.8 641.2 48.8 640.0 54.0C638.8 59.2 639.2 69.8 639.0 75.0C638.8 80.2 638.6 83.3 638.5 85.0" fill="none" stroke="#ee2222" stroke-width="1.1"/><path d="M638.6 139.0C642.2 139.7 656.2 141.8 660.2 142.9C664.2 144.0 659.4 144.8 662.3 145.5C665.2 146.2 675.1 146.3 677.4 147.2C679.7 148.1 670.2 149.8 676.3 150.9C682.4 152.0 707.0 152.9 714.0 153.7C721.0 154.4 719.1 154.8 718.4 155.4C717.7 156.1 703.0 156.4 709.8 157.6C716.6 158.8 758.9 161.3 759.3 162.8C759.6 164.3 723.8 164.5 711.9 166.6C700.0 168.7 692.3 172.8 688.2 175.3C684.1 177.8 689.2 180.1 687.1 181.7C685.0 183.3 675.3 183.2 675.3 185.0C675.3 186.8 685.0 190.4 687.1 192.5C689.2 194.6 671.5 195.8 688.2 197.3C704.9 198.9 784.2 199.9 787.4 201.8C790.6 203.7 717.0 206.9 707.6 208.7C698.2 210.4 733.8 210.7 731.3 212.3C728.8 213.9 694.3 216.9 692.5 218.4C690.7 219.9 719.8 220.5 720.5 221.6C721.2 222.7 697.1 223.0 696.8 224.8C696.4 226.6 728.1 229.9 718.4 232.4C708.7 234.9 651.9 238.7 638.6 240.0" fill="none" stroke="#111111" stroke-width="1.1"/><path d="M638.6 139.0C642.2 139.7 656.2 141.8 660.2 142.9C664.2 144.0 659.4 144.8 662.3 145.5C665.2 146.2 675.1 146.3 677.4 147.2C679.7 148.1 670.2 149.8 676.3 150.9C682.4 152.0 707.0 152.9 714.0 153.7C721.0 154.4 719.1 154.8 718.4 155.4C717.7 156.1 704.8 156.4 709.8 157.6C714.8 158.8 750.1 161.1 748.6 162.8C747.1 164.5 712.1 165.6 701.0 167.7C689.9 169.8 687.1 172.6 681.7 175.3C676.3 178.0 669.5 181.8 668.8 183.9C668.1 186.1 676.7 186.4 677.4 188.2C678.1 190.0 660.2 192.6 673.1 194.7C686.0 196.8 751.8 198.7 755.0 201.0C758.2 203.3 700.8 206.8 692.5 208.7C684.2 210.6 707.9 210.7 705.4 212.3C702.9 213.9 679.2 216.9 677.4 218.4C675.6 219.9 694.0 220.5 694.7 221.6C695.4 222.7 681.4 223.0 681.7 224.8C682.1 226.6 704.0 229.9 696.8 232.4C689.6 234.9 648.3 238.7 638.6 240.0" fill="none" stroke="#ee2222" stroke-width="1.1"/><path d="M638.6 138.6C639.0 142.6 640.6 155.5 640.8 162.3C641.0 169.1 638.1 173.1 639.7 179.6C641.3 186.1 649.2 196.4 650.5 201.1C651.8 205.8 646.9 205.8 647.2 207.6C647.6 209.4 652.4 210.3 652.6 211.9C652.8 213.5 648.1 215.7 648.3 217.3C648.5 218.9 653.5 220.2 653.7 221.6C653.9 223.0 649.6 224.1 649.4 225.9C649.2 227.7 654.4 230.4 652.6 232.4C650.8 234.4 640.9 236.9 638.6 237.8" fill="none" stroke="#2222ee" stroke-width="1.1"/><path d="M638.6 199.0C640.4 199.5 648.9 201.1 649.4 202.2C649.9 203.3 643.7 200.2 641.9 205.4C640.1 210.6 639.1 228.8 638.6 233.5" fill="none" stroke="#cc33ee" stroke-width="1.1"/><path d="M638.8 200.0C639.5 200.7 643.0 201.5 643.0 204.0C643.0 206.5 639.7 209.7 639.0 215.0C638.3 220.3 638.8 232.5 638.8 236.0" fill="none" stroke="#229922" stroke-width="1.0"/><path d="M209.2 392.4C212.0 391.2 224.1 386.9 225.8 385.0C227.5 383.1 216.5 382.1 219.6 380.7C222.7 379.3 242.9 377.6 244.3 376.5C245.7 375.4 227.0 376.0 227.8 374.3C228.7 372.6 248.1 368.2 249.5 366.3C250.8 364.4 231.1 363.8 236.1 362.7C241.0 361.6 277.9 360.8 279.3 359.5C280.8 358.2 239.9 356.5 244.9 355.2C249.9 354.0 308.9 353.4 309.2 352.0C309.5 350.6 255.4 348.1 246.7 346.7C238.1 345.3 258.3 345.1 257.4 343.5C256.5 341.9 247.9 339.2 241.4 337.2C234.8 335.3 220.9 333.6 218.2 331.8C215.5 330.0 222.9 327.9 225.3 326.6C227.7 325.3 232.5 324.9 232.5 323.8C232.5 322.7 224.9 321.1 225.3 320.2C225.8 319.3 233.4 318.9 235.1 318.6" fill="none" stroke="#2222ee" stroke-width="1.3"/><path d="M209.2 391.8C212.0 390.6 224.5 386.3 226.3 384.4C228.1 382.4 216.7 381.5 219.9 380.1C223.1 378.7 244.0 377.0 245.4 375.9C246.8 374.8 227.5 375.4 228.4 373.7C229.3 372.0 249.3 367.6 250.7 365.7C252.1 363.8 231.8 363.2 236.9 362.1C242.0 361.0 279.0 360.1 281.5 358.9C284.0 357.6 243.9 355.9 251.7 354.6C259.5 353.4 327.8 352.8 328.2 351.4C328.6 350.0 264.2 347.5 253.9 346.1C243.6 344.7 267.7 344.5 266.6 342.9C265.5 341.3 255.3 338.6 247.5 336.6C239.7 334.7 223.1 333.0 219.9 331.2C216.7 329.4 225.6 327.3 228.4 326.0C231.2 324.7 236.9 324.3 236.9 323.2C236.9 322.1 227.9 320.5 228.4 319.6C228.9 318.7 238.1 318.3 240.0 318.0" fill="none" stroke="#111111" stroke-width="1.1"/><path d="M213.5 318.5C213.2 320.6 209.3 325.9 211.4 331.2C213.5 336.5 225.5 346.3 226.2 350.4C226.9 354.5 217.0 353.6 215.6 355.7C214.2 357.8 218.4 360.1 217.7 363.1C217.0 366.1 212.6 369.1 211.4 373.7C210.2 378.3 210.5 387.9 210.3 390.8" fill="none" stroke="#ee2222" stroke-width="1.1"/><path d="M210.3 451.7C215.4 452.4 233.8 454.3 241.1 455.9C248.4 457.5 253.2 459.9 253.9 461.2C254.6 462.5 242.2 462.7 245.4 463.8C248.6 464.9 257.4 465.4 273.0 467.6C288.6 469.8 338.5 474.7 338.9 477.2C339.2 479.7 286.1 481.1 275.1 482.5C264.1 483.9 276.5 483.2 273.0 485.7C269.5 488.2 260.6 494.6 253.9 497.4C247.2 500.2 230.5 500.9 232.6 502.7C234.7 504.5 262.4 506.6 266.6 508.0C270.9 509.4 243.9 509.2 258.1 511.2C272.3 513.1 347.0 517.2 351.6 519.7C356.2 522.2 293.9 524.5 285.7 526.1C277.5 527.7 306.6 528.0 302.7 529.2C298.8 530.4 263.4 531.9 262.4 533.5C261.3 535.1 296.4 537.0 296.4 538.8C296.4 540.6 261.5 542.3 262.4 544.1C263.3 545.9 310.4 547.3 301.7 549.4C293.0 551.5 225.5 555.6 210.3 556.9" fill="none" stroke="#111111" stroke-width="1.1"/><path d="M210.3 451.7C215.4 452.4 233.8 454.3 241.1 455.9C248.4 457.5 253.2 459.9 253.9 461.2C254.6 462.5 242.2 462.7 245.4 463.8C248.6 464.9 259.2 465.4 273.0 467.6C286.8 469.8 328.9 474.7 328.2 477.2C327.5 479.7 282.1 479.1 268.7 482.5C255.2 485.9 253.9 494.0 247.5 497.4C241.1 500.8 230.2 500.6 230.5 502.7C230.8 504.8 234.7 507.3 249.6 510.1C264.5 512.9 316.9 517.0 319.7 519.7C322.5 522.4 273.7 524.5 266.6 526.1C259.5 527.7 280.4 527.8 277.2 529.2C274.0 530.6 248.6 533.0 247.5 534.6C246.4 536.2 270.9 537.4 270.9 538.8C270.9 540.2 246.4 541.3 247.5 543.1C248.6 544.9 283.4 547.1 277.2 549.4C271.0 551.7 221.5 555.6 210.3 556.9" fill="none" stroke="#ee2222" stroke-width="1.1"/><path d="M210.3 451.7C210.8 455.8 213.3 469.2 213.5 476.1C213.7 483.0 210.9 487.4 211.4 493.1C211.9 498.8 214.8 505.7 216.7 510.1C218.6 514.5 222.6 517.2 223.1 519.7C223.6 522.2 219.6 523.4 219.9 525.0C220.2 526.6 225.0 527.6 225.2 529.2C225.4 530.8 220.6 533.0 220.9 534.6C221.2 536.2 227.3 537.2 227.3 538.8C227.3 540.4 220.9 542.3 220.9 544.1C220.9 545.9 229.1 547.5 227.3 549.4C225.5 551.3 213.1 554.7 210.3 555.8" fill="none" stroke="#2222ee" stroke-width="1.1"/><path d="M211.4 512.2C212.8 513.4 219.6 517.0 219.9 519.1C220.2 521.2 214.9 520.5 213.5 525.0C212.1 529.5 211.8 542.7 211.4 546.2" fill="none" stroke="#cc33ee" stroke-width="1.1"/><path d="M211.0 514.0C211.5 515.0 214.0 517.3 214.0 520.0C214.0 522.7 211.7 525.0 211.2 530.0C210.7 535.0 211.0 546.7 211.0 550.0" fill="none" stroke="#229922" stroke-width="1.0"/><path d="M651.4 387.4C653.1 386.3 661.0 382.8 661.7 381.0C662.4 379.2 653.8 378.1 655.5 376.8C657.2 375.5 671.3 374.5 672.0 373.2C672.7 372.0 655.2 371.2 659.6 369.3C664.1 367.4 696.3 364.0 698.7 361.9C701.1 359.8 676.6 358.1 674.0 356.6C671.4 355.1 684.1 353.9 683.3 352.8C682.5 351.7 660.0 351.6 669.2 350.2C678.5 348.8 733.8 345.9 738.8 344.5C743.9 343.1 704.0 342.4 699.5 341.6C695.1 340.8 711.7 340.3 712.0 339.6C712.4 338.9 706.4 338.4 701.4 337.5C696.3 336.6 688.9 336.1 681.7 334.3C674.6 332.5 660.3 328.9 658.5 326.8C656.7 324.7 670.1 323.2 671.0 321.5C671.8 319.8 664.5 318.0 663.7 316.6C662.8 315.2 665.3 313.6 665.7 313.0" fill="none" stroke="#2222ee" stroke-width="1.3"/><path d="M651.4 386.8C653.2 385.7 661.3 382.2 662.0 380.4C662.7 378.6 653.8 377.5 655.6 376.2C657.4 374.9 671.9 373.9 672.6 372.6C673.3 371.4 655.3 370.6 659.9 368.7C664.5 366.8 697.7 363.4 700.2 361.3C702.7 359.2 677.4 357.5 674.7 356.0C672.1 354.5 684.6 353.3 684.3 352.2C683.9 351.1 660.7 351.0 672.6 349.6C684.5 348.2 749.5 345.3 755.5 343.9C761.5 342.5 714.0 341.8 708.7 341.0C703.4 340.2 723.2 339.7 723.6 339.0C724.0 338.3 716.9 337.8 710.9 336.9C704.9 336.0 696.0 335.5 687.5 333.7C679.0 331.9 662.0 328.3 659.9 326.2C657.8 324.1 673.7 322.6 674.7 320.9C675.7 319.2 667.0 317.4 666.0 316.0C665.0 314.6 668.0 313.0 668.4 312.4" fill="none" stroke="#111111" stroke-width="1.1"/><path d="M653.5 312.4C653.3 314.7 650.4 320.9 652.5 326.2C654.6 331.5 665.7 340.6 666.2 344.3C666.7 348.0 657.0 346.7 655.6 348.6C654.2 350.6 658.1 352.6 657.7 356.0C657.4 359.4 654.4 365.5 653.5 368.7C652.6 371.9 652.7 374.0 652.5 375.1" fill="none" stroke="#ee2222" stroke-width="1.1"/><path d="M652.5 439.0C654.9 440.0 663.2 443.4 666.6 445.1C670.0 446.8 671.8 448.3 673.0 449.4C674.2 450.5 670.0 450.3 674.0 451.6C678.0 452.9 692.6 455.4 696.7 457.0C700.9 458.6 694.6 460.1 698.9 461.3C703.2 462.6 711.6 462.4 722.6 464.5C733.6 466.6 766.4 471.1 764.6 473.8C762.8 476.5 716.8 478.7 711.8 480.7C706.8 482.7 737.0 483.8 734.5 485.6C732.0 487.4 705.2 489.2 696.7 491.4C688.2 493.6 683.4 496.8 683.8 499.0C684.2 501.2 692.4 502.6 698.9 504.4C705.4 506.2 709.0 508.2 722.6 509.8C736.2 511.4 780.1 512.1 780.8 514.1C781.5 516.1 733.9 519.8 726.9 521.6C719.9 523.4 743.1 523.4 738.8 524.8C734.5 526.2 703.9 528.7 701.0 530.2C698.1 531.7 720.4 532.3 721.5 533.9C722.6 535.5 707.1 538.1 707.5 539.9C707.9 541.7 732.9 543.1 723.7 544.9C714.5 546.7 664.4 549.7 652.5 550.7" fill="none" stroke="#111111" stroke-width="1.1"/><path d="M652.5 439.0C654.9 440.0 663.2 443.4 666.6 445.1C670.0 446.8 671.8 448.3 673.0 449.4C674.2 450.5 670.0 450.3 674.0 451.6C678.0 452.9 692.6 455.4 696.7 457.0C700.9 458.6 694.6 460.1 698.9 461.3C703.2 462.6 713.3 462.4 722.6 464.5C731.9 466.6 757.6 471.0 754.9 473.8C752.2 476.6 711.4 479.4 706.4 481.3C701.4 483.2 727.8 483.1 724.7 485.0C721.7 486.9 696.0 490.2 688.1 492.5C680.2 494.8 676.9 497.2 677.3 499.0C677.7 500.8 684.9 501.5 690.3 503.3C695.7 505.1 699.3 508.0 709.7 509.8C720.1 511.6 752.8 512.1 752.8 514.1C752.8 516.1 715.8 519.8 709.7 521.6C703.6 523.4 719.9 523.4 716.1 524.8C712.3 526.2 689.3 528.6 687.0 530.2C684.7 531.8 701.2 532.6 702.1 534.6C703.0 536.6 692.0 540.3 692.4 542.1C692.8 543.9 710.9 544.0 704.3 545.4C697.6 546.8 661.1 549.8 652.5 550.7" fill="none" stroke="#ee2222" stroke-width="1.1"/><path d="M652.5 438.6C652.7 443.3 653.6 458.7 653.6 466.6C653.6 474.5 652.0 480.2 652.5 486.0C653.0 491.8 654.9 496.4 656.9 501.1C658.9 505.8 663.5 511.2 664.4 514.1C665.3 517.0 662.0 516.6 662.2 518.4C662.4 520.2 665.5 522.8 665.5 524.8C665.5 526.8 662.0 528.4 662.2 530.2C662.4 532.0 666.4 534.0 666.6 535.6C666.8 537.2 663.3 538.5 663.3 539.9C663.3 541.3 668.4 542.6 666.6 544.2C664.8 545.8 654.9 548.7 652.5 549.6" fill="none" stroke="#2222ee" stroke-width="1.1"/><path d="M652.5 505.4C654.0 506.8 661.0 511.9 661.2 514.1C661.4 516.3 655.1 513.4 653.6 518.4C652.1 523.4 652.7 539.9 652.5 544.2" fill="none" stroke="#cc33ee" stroke-width="1.1"/><path d="M652.6 507.0C653.2 508.0 655.9 510.5 656.0 513.0C656.1 515.5 653.6 516.5 653.0 522.0C652.4 527.5 652.7 542.0 652.6 546.0" fill="none" stroke="#229922" stroke-width="1.0"/><rect x="52.5" y="6.5" width="339.0" height="241.0" fill="none" stroke="#333" stroke-width="1.3"/><line x1="222.5" y1="6.5" x2="222.5" y2="247.5" stroke="#111" stroke-width="1.5"/><line x1="52.5" y1="237.9" x2="56.5" y2="237.9" stroke="#333" stroke-width="1.2"/><line x1="387.5" y1="237.9" x2="391.5" y2="237.9" stroke="#333" stroke-width="1.2"/><line x1="218.5" y1="237.9" x2="222.5" y2="237.9" stroke="#333" stroke-width="1.2"/><line x1="52.5" y1="218.6" x2="56.5" y2="218.6" stroke="#333" stroke-width="1.2"/><line x1="387.5" y1="218.6" x2="391.5" y2="218.6" stroke="#333" stroke-width="1.2"/><line x1="218.5" y1="218.6" x2="222.5" y2="218.6" stroke="#333" stroke-width="1.2"/><line x1="52.5" y1="199.3" x2="56.5" y2="199.3" stroke="#333" stroke-width="1.2"/><line x1="387.5" y1="199.3" x2="391.5" y2="199.3" stroke="#333" stroke-width="1.2"/><line x1="218.5" y1="199.3" x2="222.5" y2="199.3" stroke="#333" stroke-width="1.2"/><line x1="52.5" y1="180.0" x2="56.5" y2="180.0" stroke="#333" stroke-width="1.2"/><line x1="387.5" y1="180.0" x2="391.5" y2="180.0" stroke="#333" stroke-width="1.2"/><line x1="218.5" y1="180.0" x2="222.5" y2="180.0" stroke="#333" stroke-width="1.2"/><line x1="52.5" y1="160.7" x2="56.5" y2="160.7" stroke="#333" stroke-width="1.2"/><line x1="387.5" y1="160.7" x2="391.5" y2="160.7" stroke="#333" stroke-width="1.2"/><line x1="218.5" y1="160.7" x2="222.5" y2="160.7" stroke="#333" stroke-width="1.2"/><line x1="52.5" y1="141.5" x2="56.5" y2="141.5" stroke="#333" stroke-width="1.2"/><line x1="387.5" y1="141.5" x2="391.5" y2="141.5" stroke="#333" stroke-width="1.2"/><line x1="218.5" y1="141.5" x2="222.5" y2="141.5" stroke="#333" stroke-width="1.2"/><line x1="52.5" y1="122.2" x2="56.5" y2="122.2" stroke="#333" stroke-width="1.2"/><line x1="387.5" y1="122.2" x2="391.5" y2="122.2" stroke="#333" stroke-width="1.2"/><line x1="218.5" y1="122.2" x2="222.5" y2="122.2" stroke="#333" stroke-width="1.2"/><line x1="52.5" y1="102.9" x2="56.5" y2="102.9" stroke="#333" stroke-width="1.2"/><line x1="387.5" y1="102.9" x2="391.5" y2="102.9" stroke="#333" stroke-width="1.2"/><line x1="218.5" y1="102.9" x2="222.5" y2="102.9" stroke="#333" stroke-width="1.2"/><line x1="52.5" y1="83.6" x2="56.5" y2="83.6" stroke="#333" stroke-width="1.2"/><line x1="387.5" y1="83.6" x2="391.5" y2="83.6" stroke="#333" stroke-width="1.2"/><line x1="218.5" y1="83.6" x2="222.5" y2="83.6" stroke="#333" stroke-width="1.2"/><line x1="52.5" y1="64.3" x2="56.5" y2="64.3" stroke="#333" stroke-width="1.2"/><line x1="387.5" y1="64.3" x2="391.5" y2="64.3" stroke="#333" stroke-width="1.2"/><line x1="218.5" y1="64.3" x2="222.5" y2="64.3" stroke="#333" stroke-width="1.2"/><line x1="52.5" y1="45.1" x2="56.5" y2="45.1" stroke="#333" stroke-width="1.2"/><line x1="387.5" y1="45.1" x2="391.5" y2="45.1" stroke="#333" stroke-width="1.2"/><line x1="218.5" y1="45.1" x2="222.5" y2="45.1" stroke="#333" stroke-width="1.2"/><line x1="52.5" y1="25.8" x2="56.5" y2="25.8" stroke="#333" stroke-width="1.2"/><line x1="387.5" y1="25.8" x2="391.5" y2="25.8" stroke="#333" stroke-width="1.2"/><line x1="218.5" y1="25.8" x2="222.5" y2="25.8" stroke="#333" stroke-width="1.2"/><line x1="52.5" y1="6.5" x2="56.5" y2="6.5" stroke="#333" stroke-width="1.2"/><line x1="387.5" y1="6.5" x2="391.5" y2="6.5" stroke="#333" stroke-width="1.2"/><line x1="218.5" y1="6.5" x2="222.5" y2="6.5" stroke="#333" stroke-width="1.2"/><rect x="463.5" y="10.0" width="343.5" height="242.3" fill="none" stroke="#333" stroke-width="1.3"/><line x1="635.5" y1="10.0" x2="635.5" y2="252.3" stroke="#111" stroke-width="1.5"/><line x1="463.5" y1="242.6" x2="467.5" y2="242.6" stroke="#333" stroke-width="1.2"/><line x1="803.0" y1="242.6" x2="807.0" y2="242.6" stroke="#333" stroke-width="1.2"/><line x1="631.5" y1="242.6" x2="635.5" y2="242.6" stroke="#333" stroke-width="1.2"/><line x1="463.5" y1="223.2" x2="467.5" y2="223.2" stroke="#333" stroke-width="1.2"/><line x1="803.0" y1="223.2" x2="807.0" y2="223.2" stroke="#333" stroke-width="1.2"/><line x1="631.5" y1="223.2" x2="635.5" y2="223.2" stroke="#333" stroke-width="1.2"/><line x1="463.5" y1="203.8" x2="467.5" y2="203.8" stroke="#333" stroke-width="1.2"/><line x1="803.0" y1="203.8" x2="807.0" y2="203.8" stroke="#333" stroke-width="1.2"/><line x1="631.5" y1="203.8" x2="635.5" y2="203.8" stroke="#333" stroke-width="1.2"/><line x1="463.5" y1="184.5" x2="467.5" y2="184.5" stroke="#333" stroke-width="1.2"/><line x1="803.0" y1="184.5" x2="807.0" y2="184.5" stroke="#333" stroke-width="1.2"/><line x1="631.5" y1="184.5" x2="635.5" y2="184.5" stroke="#333" stroke-width="1.2"/><line x1="463.5" y1="165.1" x2="467.5" y2="165.1" stroke="#333" stroke-width="1.2"/><line x1="803.0" y1="165.1" x2="807.0" y2="165.1" stroke="#333" stroke-width="1.2"/><line x1="631.5" y1="165.1" x2="635.5" y2="165.1" stroke="#333" stroke-width="1.2"/><line x1="463.5" y1="145.7" x2="467.5" y2="145.7" stroke="#333" stroke-width="1.2"/><line x1="803.0" y1="145.7" x2="807.0" y2="145.7" stroke="#333" stroke-width="1.2"/><line x1="631.5" y1="145.7" x2="635.5" y2="145.7" stroke="#333" stroke-width="1.2"/><line x1="463.5" y1="126.3" x2="467.5" y2="126.3" stroke="#333" stroke-width="1.2"/><line x1="803.0" y1="126.3" x2="807.0" y2="126.3" stroke="#333" stroke-width="1.2"/><line x1="631.5" y1="126.3" x2="635.5" y2="126.3" stroke="#333" stroke-width="1.2"/><line x1="463.5" y1="106.9" x2="467.5" y2="106.9" stroke="#333" stroke-width="1.2"/><line x1="803.0" y1="106.9" x2="807.0" y2="106.9" stroke="#333" stroke-width="1.2"/><line x1="631.5" y1="106.9" x2="635.5" y2="106.9" stroke="#333" stroke-width="1.2"/><line x1="463.5" y1="87.5" x2="467.5" y2="87.5" stroke="#333" stroke-width="1.2"/><line x1="803.0" y1="87.5" x2="807.0" y2="87.5" stroke="#333" stroke-width="1.2"/><line x1="631.5" y1="87.5" x2="635.5" y2="87.5" stroke="#333" stroke-width="1.2"/><line x1="463.5" y1="68.2" x2="467.5" y2="68.2" stroke="#333" stroke-width="1.2"/><line x1="803.0" y1="68.2" x2="807.0" y2="68.2" stroke="#333" stroke-width="1.2"/><line x1="631.5" y1="68.2" x2="635.5" y2="68.2" stroke="#333" stroke-width="1.2"/><line x1="463.5" y1="48.8" x2="467.5" y2="48.8" stroke="#333" stroke-width="1.2"/><line x1="803.0" y1="48.8" x2="807.0" y2="48.8" stroke="#333" stroke-width="1.2"/><line x1="631.5" y1="48.8" x2="635.5" y2="48.8" stroke="#333" stroke-width="1.2"/><line x1="463.5" y1="29.4" x2="467.5" y2="29.4" stroke="#333" stroke-width="1.2"/><line x1="803.0" y1="29.4" x2="807.0" y2="29.4" stroke="#333" stroke-width="1.2"/><line x1="631.5" y1="29.4" x2="635.5" y2="29.4" stroke="#333" stroke-width="1.2"/><line x1="463.5" y1="10.0" x2="467.5" y2="10.0" stroke="#333" stroke-width="1.2"/><line x1="803.0" y1="10.0" x2="807.0" y2="10.0" stroke="#333" stroke-width="1.2"/><line x1="631.5" y1="10.0" x2="635.5" y2="10.0" stroke="#333" stroke-width="1.2"/><rect x="34.8" y="317.6" width="344.2" height="242.29999999999995" fill="none" stroke="#333" stroke-width="1.3"/><line x1="208.7" y1="317.6" x2="208.7" y2="559.9" stroke="#111" stroke-width="1.5"/><line x1="34.8" y1="550.2" x2="38.8" y2="550.2" stroke="#333" stroke-width="1.2"/><line x1="375.0" y1="550.2" x2="379.0" y2="550.2" stroke="#333" stroke-width="1.2"/><line x1="204.7" y1="550.2" x2="208.7" y2="550.2" stroke="#333" stroke-width="1.2"/><line x1="34.8" y1="530.8" x2="38.8" y2="530.8" stroke="#333" stroke-width="1.2"/><line x1="375.0" y1="530.8" x2="379.0" y2="530.8" stroke="#333" stroke-width="1.2"/><line x1="204.7" y1="530.8" x2="208.7" y2="530.8" stroke="#333" stroke-width="1.2"/><line x1="34.8" y1="511.4" x2="38.8" y2="511.4" stroke="#333" stroke-width="1.2"/><line x1="375.0" y1="511.4" x2="379.0" y2="511.4" stroke="#333" stroke-width="1.2"/><line x1="204.7" y1="511.4" x2="208.7" y2="511.4" stroke="#333" stroke-width="1.2"/><line x1="34.8" y1="492.1" x2="38.8" y2="492.1" stroke="#333" stroke-width="1.2"/><line x1="375.0" y1="492.1" x2="379.0" y2="492.1" stroke="#333" stroke-width="1.2"/><line x1="204.7" y1="492.1" x2="208.7" y2="492.1" stroke="#333" stroke-width="1.2"/><line x1="34.8" y1="472.7" x2="38.8" y2="472.7" stroke="#333" stroke-width="1.2"/><line x1="375.0" y1="472.7" x2="379.0" y2="472.7" stroke="#333" stroke-width="1.2"/><line x1="204.7" y1="472.7" x2="208.7" y2="472.7" stroke="#333" stroke-width="1.2"/><line x1="34.8" y1="453.3" x2="38.8" y2="453.3" stroke="#333" stroke-width="1.2"/><line x1="375.0" y1="453.3" x2="379.0" y2="453.3" stroke="#333" stroke-width="1.2"/><line x1="204.7" y1="453.3" x2="208.7" y2="453.3" stroke="#333" stroke-width="1.2"/><line x1="34.8" y1="433.9" x2="38.8" y2="433.9" stroke="#333" stroke-width="1.2"/><line x1="375.0" y1="433.9" x2="379.0" y2="433.9" stroke="#333" stroke-width="1.2"/><line x1="204.7" y1="433.9" x2="208.7" y2="433.9" stroke="#333" stroke-width="1.2"/><line x1="34.8" y1="414.5" x2="38.8" y2="414.5" stroke="#333" stroke-width="1.2"/><line x1="375.0" y1="414.5" x2="379.0" y2="414.5" stroke="#333" stroke-width="1.2"/><line x1="204.7" y1="414.5" x2="208.7" y2="414.5" stroke="#333" stroke-width="1.2"/><line x1="34.8" y1="395.1" x2="38.8" y2="395.1" stroke="#333" stroke-width="1.2"/><line x1="375.0" y1="395.1" x2="379.0" y2="395.1" stroke="#333" stroke-width="1.2"/><line x1="204.7" y1="395.1" x2="208.7" y2="395.1" stroke="#333" stroke-width="1.2"/><line x1="34.8" y1="375.8" x2="38.8" y2="375.8" stroke="#333" stroke-width="1.2"/><line x1="375.0" y1="375.8" x2="379.0" y2="375.8" stroke="#333" stroke-width="1.2"/><line x1="204.7" y1="375.8" x2="208.7" y2="375.8" stroke="#333" stroke-width="1.2"/><line x1="34.8" y1="356.4" x2="38.8" y2="356.4" stroke="#333" stroke-width="1.2"/><line x1="375.0" y1="356.4" x2="379.0" y2="356.4" stroke="#333" stroke-width="1.2"/><line x1="204.7" y1="356.4" x2="208.7" y2="356.4" stroke="#333" stroke-width="1.2"/><line x1="34.8" y1="337.0" x2="38.8" y2="337.0" stroke="#333" stroke-width="1.2"/><line x1="375.0" y1="337.0" x2="379.0" y2="337.0" stroke="#333" stroke-width="1.2"/><line x1="204.7" y1="337.0" x2="208.7" y2="337.0" stroke="#333" stroke-width="1.2"/><line x1="34.8" y1="317.6" x2="38.8" y2="317.6" stroke="#333" stroke-width="1.2"/><line x1="375.0" y1="317.6" x2="379.0" y2="317.6" stroke="#333" stroke-width="1.2"/><line x1="204.7" y1="317.6" x2="208.7" y2="317.6" stroke="#333" stroke-width="1.2"/><rect x="477.1" y="312.1" width="343.9" height="242.39999999999998" fill="none" stroke="#333" stroke-width="1.3"/><line x1="649.8" y1="312.1" x2="649.8" y2="554.5" stroke="#111" stroke-width="1.5"/><line x1="477.1" y1="544.8" x2="481.1" y2="544.8" stroke="#333" stroke-width="1.2"/><line x1="817.0" y1="544.8" x2="821.0" y2="544.8" stroke="#333" stroke-width="1.2"/><line x1="645.8" y1="544.8" x2="649.8" y2="544.8" stroke="#333" stroke-width="1.2"/><line x1="477.1" y1="525.4" x2="481.1" y2="525.4" stroke="#333" stroke-width="1.2"/><line x1="817.0" y1="525.4" x2="821.0" y2="525.4" stroke="#333" stroke-width="1.2"/><line x1="645.8" y1="525.4" x2="649.8" y2="525.4" stroke="#333" stroke-width="1.2"/><line x1="477.1" y1="506.0" x2="481.1" y2="506.0" stroke="#333" stroke-width="1.2"/><line x1="817.0" y1="506.0" x2="821.0" y2="506.0" stroke="#333" stroke-width="1.2"/><line x1="645.8" y1="506.0" x2="649.8" y2="506.0" stroke="#333" stroke-width="1.2"/><line x1="477.1" y1="486.6" x2="481.1" y2="486.6" stroke="#333" stroke-width="1.2"/><line x1="817.0" y1="486.6" x2="821.0" y2="486.6" stroke="#333" stroke-width="1.2"/><line x1="645.8" y1="486.6" x2="649.8" y2="486.6" stroke="#333" stroke-width="1.2"/><line x1="477.1" y1="467.2" x2="481.1" y2="467.2" stroke="#333" stroke-width="1.2"/><line x1="817.0" y1="467.2" x2="821.0" y2="467.2" stroke="#333" stroke-width="1.2"/><line x1="645.8" y1="467.2" x2="649.8" y2="467.2" stroke="#333" stroke-width="1.2"/><line x1="477.1" y1="447.8" x2="481.1" y2="447.8" stroke="#333" stroke-width="1.2"/><line x1="817.0" y1="447.8" x2="821.0" y2="447.8" stroke="#333" stroke-width="1.2"/><line x1="645.8" y1="447.8" x2="649.8" y2="447.8" stroke="#333" stroke-width="1.2"/><line x1="477.1" y1="428.5" x2="481.1" y2="428.5" stroke="#333" stroke-width="1.2"/><line x1="817.0" y1="428.5" x2="821.0" y2="428.5" stroke="#333" stroke-width="1.2"/><line x1="645.8" y1="428.5" x2="649.8" y2="428.5" stroke="#333" stroke-width="1.2"/><line x1="477.1" y1="409.1" x2="481.1" y2="409.1" stroke="#333" stroke-width="1.2"/><line x1="817.0" y1="409.1" x2="821.0" y2="409.1" stroke="#333" stroke-width="1.2"/><line x1="645.8" y1="409.1" x2="649.8" y2="409.1" stroke="#333" stroke-width="1.2"/><line x1="477.1" y1="389.7" x2="481.1" y2="389.7" stroke="#333" stroke-width="1.2"/><line x1="817.0" y1="389.7" x2="821.0" y2="389.7" stroke="#333" stroke-width="1.2"/><line x1="645.8" y1="389.7" x2="649.8" y2="389.7" stroke="#333" stroke-width="1.2"/><line x1="477.1" y1="370.3" x2="481.1" y2="370.3" stroke="#333" stroke-width="1.2"/><line x1="817.0" y1="370.3" x2="821.0" y2="370.3" stroke="#333" stroke-width="1.2"/><line x1="645.8" y1="370.3" x2="649.8" y2="370.3" stroke="#333" stroke-width="1.2"/><line x1="477.1" y1="350.9" x2="481.1" y2="350.9" stroke="#333" stroke-width="1.2"/><line x1="817.0" y1="350.9" x2="821.0" y2="350.9" stroke="#333" stroke-width="1.2"/><line x1="645.8" y1="350.9" x2="649.8" y2="350.9" stroke="#333" stroke-width="1.2"/><line x1="477.1" y1="331.5" x2="481.1" y2="331.5" stroke="#333" stroke-width="1.2"/><line x1="817.0" y1="331.5" x2="821.0" y2="331.5" stroke="#333" stroke-width="1.2"/><line x1="645.8" y1="331.5" x2="649.8" y2="331.5" stroke="#333" stroke-width="1.2"/><line x1="477.1" y1="312.1" x2="481.1" y2="312.1" stroke="#333" stroke-width="1.2"/><line x1="817.0" y1="312.1" x2="821.0" y2="312.1" stroke="#333" stroke-width="1.2"/><line x1="645.8" y1="312.1" x2="649.8" y2="312.1" stroke="#333" stroke-width="1.2"/><text transform="translate(44.0 242.2) scale(1.0 1.03)" text-anchor="end" font-family='"Liberation Serif", serif' font-size="13" fill="#111">−5</text><text transform="translate(399.2 242.2) scale(1.0 1.03)" font-family='"Liberation Serif", serif' font-size="13" fill="#111">−5</text><text transform="translate(44.0 222.9) scale(1.0 1.03)" text-anchor="end" font-family='"Liberation Serif", serif' font-size="13" fill="#111">−4</text><text transform="translate(399.2 222.9) scale(1.0 1.03)" font-family='"Liberation Serif", serif' font-size="13" fill="#111">−4</text><text transform="translate(44.0 203.6) scale(1.0 1.03)" text-anchor="end" font-family='"Liberation Serif", serif' font-size="13" fill="#111">−3</text><text transform="translate(399.2 203.6) scale(1.0 1.03)" font-family='"Liberation Serif", serif' font-size="13" fill="#111">−3</text><text transform="translate(44.0 184.3) scale(1.0 1.03)" text-anchor="end" font-family='"Liberation Serif", serif' font-size="13" fill="#111">−2</text><text transform="translate(399.2 184.3) scale(1.0 1.03)" font-family='"Liberation Serif", serif' font-size="13" fill="#111">−2</text><text transform="translate(44.0 165.0) scale(1.0 1.03)" text-anchor="end" font-family='"Liberation Serif", serif' font-size="13" fill="#111">−1</text><text transform="translate(399.2 165.0) scale(1.0 1.03)" font-family='"Liberation Serif", serif' font-size="13" fill="#111">−1</text><text transform="translate(44.0 145.8) scale(1.0 1.03)" text-anchor="end" font-family='"Liberation Serif", serif' font-size="13" fill="#111">0</text><text transform="translate(398.2 144.5)" font-family='"Liberation Sans", sans-serif' font-size="14" fill="#111">E<tspan font-size="11" dy="3.5">F</tspan></text><text transform="translate(44.0 126.5) scale(1.0 1.03)" text-anchor="end" font-family='"Liberation Serif", serif' font-size="13" fill="#111">1</text><text transform="translate(402.7 126.5) scale(1.0 1.03)" font-family='"Liberation Serif", serif' font-size="13" fill="#111">1</text><text transform="translate(44.0 107.2) scale(1.0 1.03)" text-anchor="end" font-family='"Liberation Serif", serif' font-size="13" fill="#111">2</text><text transform="translate(402.7 107.2) scale(1.0 1.03)" font-family='"Liberation Serif", serif' font-size="13" fill="#111">2</text><text transform="translate(44.0 87.9) scale(1.0 1.03)" text-anchor="end" font-family='"Liberation Serif", serif' font-size="13" fill="#111">3</text><text transform="translate(402.7 87.9) scale(1.0 1.03)" font-family='"Liberation Serif", serif' font-size="13" fill="#111">3</text><text transform="translate(44.0 68.6) scale(1.0 1.03)" text-anchor="end" font-family='"Liberation Serif", serif' font-size="13" fill="#111">4</text><text transform="translate(402.7 68.6) scale(1.0 1.03)" font-family='"Liberation Serif", serif' font-size="13" fill="#111">4</text><text transform="translate(44.0 49.4) scale(1.0 1.03)" text-anchor="end" font-family='"Liberation Serif", serif' font-size="13" fill="#111">5</text><text transform="translate(402.7 49.4) scale(1.0 1.03)" font-family='"Liberation Serif", serif' font-size="13" fill="#111">5</text><text transform="translate(44.0 30.1) scale(1.0 1.03)" text-anchor="end" font-family='"Liberation Serif", serif' font-size="13" fill="#111">6</text><text transform="translate(402.7 30.1) scale(1.0 1.03)" font-family='"Liberation Serif", serif' font-size="13" fill="#111">6</text><text transform="translate(44.0 10.8) scale(1.0 1.03)" text-anchor="end" font-family='"Liberation Serif", serif' font-size="13" fill="#111">7</text><text transform="translate(402.7 10.8) scale(1.0 1.03)" font-family='"Liberation Serif", serif' font-size="13" fill="#111">7</text><text transform="translate(52.5 264.5) scale(1.0 1.05)" text-anchor="middle" font-family='"Liberation Serif", serif' font-size="13" fill="#111">Γ</text><text transform="translate(74.8 264.5) scale(1.0 1.05)" text-anchor="middle" font-family='"Liberation Serif", serif' font-size="13" fill="#111">X</text><text transform="translate(97.4 264.5) scale(1.0 1.05)" text-anchor="middle" font-family='"Liberation Serif", serif' font-size="13" fill="#111">M</text><text transform="translate(128.3 264.5) scale(1.0 1.05)" text-anchor="middle" font-family='"Liberation Serif", serif' font-size="13" fill="#111">Γ</text><text transform="translate(167.5 264.5) scale(1.0 1.05)" text-anchor="middle" font-family='"Liberation Serif", serif' font-size="13" fill="#111">R</text><text transform="translate(200.0 264.5) scale(1.0 1.05)" text-anchor="middle" font-family='"Liberation Serif", serif' font-size="13" fill="#111">X<tspan fill="#777"> | </tspan>M</text><text transform="translate(222.5 264.5) scale(1.0 1.05)" text-anchor="middle" font-family='"Liberation Serif", serif' font-size="13" fill="#111">R</text><text transform="translate(137.5 284.0) scale(1.0 1.05)" text-anchor="middle" font-family='"Liberation Serif", serif' font-size="13" fill="#111">K−Path</text><text transform="translate(307.0 284.0) scale(1.0 1.02)" text-anchor="middle" font-family='"Liberation Serif", serif' font-size="13" fill="#111">PDOS (arb. units)</text><text transform="translate(30 127.0) rotate(-90) scale(1.06 1)" text-anchor="middle" font-family='"Liberation Serif", serif' font-size="13" fill="#111">Energy (eV)</text><text transform="translate(455.7 246.9) scale(1.0 1.03)" text-anchor="end" font-family='"Liberation Serif", serif' font-size="13" fill="#111">−5</text><text transform="translate(817.2 246.9) scale(1.0 1.03)" font-family='"Liberation Serif", serif' font-size="13" fill="#111">−5</text><text transform="translate(455.7 227.5) scale(1.0 1.03)" text-anchor="end" font-family='"Liberation Serif", serif' font-size="13" fill="#111">−4</text><text transform="translate(817.2 227.5) scale(1.0 1.03)" font-family='"Liberation Serif", serif' font-size="13" fill="#111">−4</text><text transform="translate(455.7 208.1) scale(1.0 1.03)" text-anchor="end" font-family='"Liberation Serif", serif' font-size="13" fill="#111">−3</text><text transform="translate(817.2 208.1) scale(1.0 1.03)" font-family='"Liberation Serif", serif' font-size="13" fill="#111">−3</text><text transform="translate(455.7 188.8) scale(1.0 1.03)" text-anchor="end" font-family='"Liberation Serif", serif' font-size="13" fill="#111">−2</text><text transform="translate(817.2 188.8) scale(1.0 1.03)" font-family='"Liberation Serif", serif' font-size="13" fill="#111">−2</text><text transform="translate(455.7 169.4) scale(1.0 1.03)" text-anchor="end" font-family='"Liberation Serif", serif' font-size="13" fill="#111">−1</text><text transform="translate(817.2 169.4) scale(1.0 1.03)" font-family='"Liberation Serif", serif' font-size="13" fill="#111">−1</text><text transform="translate(455.7 150.0) scale(1.0 1.03)" text-anchor="end" font-family='"Liberation Serif", serif' font-size="13" fill="#111">0</text><text transform="translate(820.7 150.0) scale(1.0 1.03)" font-family='"Liberation Serif", serif' font-size="13" fill="#111">0</text><text transform="translate(455.7 130.6) scale(1.0 1.03)" text-anchor="end" font-family='"Liberation Serif", serif' font-size="13" fill="#111">1</text><text transform="translate(820.7 130.6) scale(1.0 1.03)" font-family='"Liberation Serif", serif' font-size="13" fill="#111">1</text><text transform="translate(455.7 111.2) scale(1.0 1.03)" text-anchor="end" font-family='"Liberation Serif", serif' font-size="13" fill="#111">2</text><text transform="translate(820.7 111.2) scale(1.0 1.03)" font-family='"Liberation Serif", serif' font-size="13" fill="#111">2</text><text transform="translate(455.7 91.8) scale(1.0 1.03)" text-anchor="end" font-family='"Liberation Serif", serif' font-size="13" fill="#111">3</text><text transform="translate(820.7 91.8) scale(1.0 1.03)" font-family='"Liberation Serif", serif' font-size="13" fill="#111">3</text><text transform="translate(455.7 72.5) scale(1.0 1.03)" text-anchor="end" font-family='"Liberation Serif", serif' font-size="13" fill="#111">4</text><text transform="translate(820.7 72.5) scale(1.0 1.03)" font-family='"Liberation Serif", serif' font-size="13" fill="#111">4</text><text transform="translate(455.7 53.1) scale(1.0 1.03)" text-anchor="end" font-family='"Liberation Serif", serif' font-size="13" fill="#111">5</text><text transform="translate(820.7 53.1) scale(1.0 1.03)" font-family='"Liberation Serif", serif' font-size="13" fill="#111">5</text><text transform="translate(455.7 33.7) scale(1.0 1.03)" text-anchor="end" font-family='"Liberation Serif", serif' font-size="13" fill="#111">6</text><text transform="translate(820.7 33.7) scale(1.0 1.03)" font-family='"Liberation Serif", serif' font-size="13" fill="#111">6</text><text transform="translate(455.7 14.3) scale(1.0 1.03)" text-anchor="end" font-family='"Liberation Serif", serif' font-size="13" fill="#111">7</text><text transform="translate(820.7 14.3) scale(1.0 1.03)" font-family='"Liberation Serif", serif' font-size="13" fill="#111">7</text><text transform="translate(463.5 269.5) scale(1.0 1.05)" text-anchor="middle" font-family='"Liberation Serif", serif' font-size="13" fill="#111">Γ</text><text transform="translate(487.0 269.5) scale(1.0 1.05)" text-anchor="middle" font-family='"Liberation Serif", serif' font-size="13" fill="#111">X</text><text transform="translate(510.2 269.5) scale(1.0 1.05)" text-anchor="middle" font-family='"Liberation Serif", serif' font-size="13" fill="#111">M</text><text transform="translate(542.0 269.5) scale(1.0 1.05)" text-anchor="middle" font-family='"Liberation Serif", serif' font-size="13" fill="#111">Γ</text><text transform="translate(580.8 269.5) scale(1.0 1.05)" text-anchor="middle" font-family='"Liberation Serif", serif' font-size="13" fill="#111">R</text><text transform="translate(612.9 269.5) scale(1.0 1.05)" text-anchor="middle" font-family='"Liberation Serif", serif' font-size="13" fill="#111">X<tspan fill="#777">|</tspan>M</text><text transform="translate(635.5 269.5) scale(1.0 1.05)" text-anchor="middle" font-family='"Liberation Serif", serif' font-size="13" fill="#111">R</text><text transform="translate(549.5 290.0) scale(1.0 1.05)" text-anchor="middle" font-family='"Liberation Serif", serif' font-size="13" fill="#111">K−Path</text><text transform="translate(721.2 290.0) scale(1.0 1.02)" text-anchor="middle" font-family='"Liberation Serif", serif' font-size="13" fill="#111">PDOS (arb. units)</text><text transform="translate(439.5 131.2) rotate(-90) scale(1.06 1)" text-anchor="middle" font-family='"Liberation Serif", serif' font-size="13" fill="#111">Energy (eV)</text><text transform="translate(27.5 554.5) scale(1.0 1.03)" text-anchor="end" font-family='"Liberation Serif", serif' font-size="13" fill="#111">−5</text><text transform="translate(388.2 554.5) scale(1.0 1.03)" font-family='"Liberation Serif", serif' font-size="13" fill="#111">−5</text><text transform="translate(27.5 535.1) scale(1.0 1.03)" text-anchor="end" font-family='"Liberation Serif", serif' font-size="13" fill="#111">−4</text><text transform="translate(388.2 535.1) scale(1.0 1.03)" font-family='"Liberation Serif", serif' font-size="13" fill="#111">−4</text><text transform="translate(27.5 515.7) scale(1.0 1.03)" text-anchor="end" font-family='"Liberation Serif", serif' font-size="13" fill="#111">−3</text><text transform="translate(388.2 515.7) scale(1.0 1.03)" font-family='"Liberation Serif", serif' font-size="13" fill="#111">−3</text><text transform="translate(27.5 496.4) scale(1.0 1.03)" text-anchor="end" font-family='"Liberation Serif", serif' font-size="13" fill="#111">−2</text><text transform="translate(388.2 496.4) scale(1.0 1.03)" font-family='"Liberation Serif", serif' font-size="13" fill="#111">−2</text><text transform="translate(27.5 477.0) scale(1.0 1.03)" text-anchor="end" font-family='"Liberation Serif", serif' font-size="13" fill="#111">−1</text><text transform="translate(388.2 477.0) scale(1.0 1.03)" font-family='"Liberation Serif", serif' font-size="13" fill="#111">−1</text><text transform="translate(27.5 457.6) scale(1.0 1.03)" text-anchor="end" font-family='"Liberation Serif", serif' font-size="13" fill="#111">0</text><text transform="translate(387.2 456.3)" font-family='"Liberation Sans", sans-serif' font-size="14" fill="#111">E<tspan font-size="11" dy="3.5">F</tspan></text><text transform="translate(27.5 438.2) scale(1.0 1.03)" text-anchor="end" font-family='"Liberation Serif", serif' font-size="13" fill="#111">1</text><text transform="translate(391.7 438.2) scale(1.0 1.03)" font-family='"Liberation Serif", serif' font-size="13" fill="#111">1</text><text transform="translate(27.5 418.8) scale(1.0 1.03)" text-anchor="end" font-family='"Liberation Serif", serif' font-size="13" fill="#111">2</text><text transform="translate(391.7 418.8) scale(1.0 1.03)" font-family='"Liberation Serif", serif' font-size="13" fill="#111">2</text><text transform="translate(27.5 399.4) scale(1.0 1.03)" text-anchor="end" font-family='"Liberation Serif", serif' font-size="13" fill="#111">3</text><text transform="translate(391.7 399.4) scale(1.0 1.03)" font-family='"Liberation Serif", serif' font-size="13" fill="#111">3</text><text transform="translate(27.5 380.1) scale(1.0 1.03)" text-anchor="end" font-family='"Liberation Serif", serif' font-size="13" fill="#111">4</text><text transform="translate(391.7 380.1) scale(1.0 1.03)" font-family='"Liberation Serif", serif' font-size="13" fill="#111">4</text><text transform="translate(27.5 360.7) scale(1.0 1.03)" text-anchor="end" font-family='"Liberation Serif", serif' font-size="13" fill="#111">5</text><text transform="translate(391.7 360.7) scale(1.0 1.03)" font-family='"Liberation Serif", serif' font-size="13" fill="#111">5</text><text transform="translate(27.5 341.3) scale(1.0 1.03)" text-anchor="end" font-family='"Liberation Serif", serif' font-size="13" fill="#111">6</text><text transform="translate(391.7 341.3) scale(1.0 1.03)" font-family='"Liberation Serif", serif' font-size="13" fill="#111">6</text><text transform="translate(27.5 321.9) scale(1.0 1.03)" text-anchor="end" font-family='"Liberation Serif", serif' font-size="13" fill="#111">7</text><text transform="translate(391.7 321.9) scale(1.0 1.03)" font-family='"Liberation Serif", serif' font-size="13" fill="#111">7</text><text transform="translate(34.8 577.5) scale(1.0 1.05)" text-anchor="middle" font-family='"Liberation Serif", serif' font-size="13" fill="#111">Γ</text><text transform="translate(58.4 577.5) scale(1.0 1.05)" text-anchor="middle" font-family='"Liberation Serif", serif' font-size="13" fill="#111">X</text><text transform="translate(81.4 577.5) scale(1.0 1.05)" text-anchor="middle" font-family='"Liberation Serif", serif' font-size="13" fill="#111">M</text><text transform="translate(112.7 577.5) scale(1.0 1.05)" text-anchor="middle" font-family='"Liberation Serif", serif' font-size="13" fill="#111">Γ</text><text transform="translate(152.2 577.5) scale(1.0 1.05)" text-anchor="middle" font-family='"Liberation Serif", serif' font-size="13" fill="#111">R</text><text transform="translate(184.1 577.5) scale(1.0 1.05)" text-anchor="middle" font-family='"Liberation Serif", serif' font-size="13" fill="#111">X<tspan fill="#777"> | </tspan>M</text><text transform="translate(208.7 577.5) scale(1.0 1.05)" text-anchor="middle" font-family='"Liberation Serif", serif' font-size="13" fill="#111">R</text><text transform="translate(121.8 597.0) scale(1.0 1.05)" text-anchor="middle" font-family='"Liberation Serif", serif' font-size="13" fill="#111">K−Path</text><text transform="translate(293.9 597.0) scale(1.0 1.02)" text-anchor="middle" font-family='"Liberation Serif", serif' font-size="13" fill="#111">PDOS (arb. units)</text><text transform="translate(12 438.8) rotate(-90) scale(1.06 1)" text-anchor="middle" font-family='"Liberation Serif", serif' font-size="13" fill="#111">Energy (eV)</text><text transform="translate(469.0 549.1) scale(1.0 1.03)" text-anchor="end" font-family='"Liberation Serif", serif' font-size="13" fill="#111">−5</text><text transform="translate(829.2 549.1) scale(1.0 1.03)" font-family='"Liberation Serif", serif' font-size="13" fill="#111">−5</text><text transform="translate(469.0 529.7) scale(1.0 1.03)" text-anchor="end" font-family='"Liberation Serif", serif' font-size="13" fill="#111">−4</text><text transform="translate(829.2 529.7) scale(1.0 1.03)" font-family='"Liberation Serif", serif' font-size="13" fill="#111">−4</text><text transform="translate(469.0 510.3) scale(1.0 1.03)" text-anchor="end" font-family='"Liberation Serif", serif' font-size="13" fill="#111">−3</text><text transform="translate(829.2 510.3) scale(1.0 1.03)" font-family='"Liberation Serif", serif' font-size="13" fill="#111">−3</text><text transform="translate(469.0 490.9) scale(1.0 1.03)" text-anchor="end" font-family='"Liberation Serif", serif' font-size="13" fill="#111">−2</text><text transform="translate(829.2 490.9) scale(1.0 1.03)" font-family='"Liberation Serif", serif' font-size="13" fill="#111">−2</text><text transform="translate(469.0 471.5) scale(1.0 1.03)" text-anchor="end" font-family='"Liberation Serif", serif' font-size="13" fill="#111">−1</text><text transform="translate(829.2 471.5) scale(1.0 1.03)" font-family='"Liberation Serif", serif' font-size="13" fill="#111">−1</text><text transform="translate(469.0 452.1) scale(1.0 1.03)" text-anchor="end" font-family='"Liberation Serif", serif' font-size="13" fill="#111">0</text><text transform="translate(828.2 447.8)" font-family='"Liberation Sans", sans-serif' font-size="14" fill="#111">E<tspan font-size="11" dy="3.5">F</tspan></text><text transform="translate(469.0 432.8) scale(1.0 1.03)" text-anchor="end" font-family='"Liberation Serif", serif' font-size="13" fill="#111">1</text><text transform="translate(832.7 432.8) scale(1.0 1.03)" font-family='"Liberation Serif", serif' font-size="13" fill="#111">1</text><text transform="translate(469.0 413.4) scale(1.0 1.03)" text-anchor="end" font-family='"Liberation Serif", serif' font-size="13" fill="#111">2</text><text transform="translate(832.7 413.4) scale(1.0 1.03)" font-family='"Liberation Serif", serif' font-size="13" fill="#111">2</text><text transform="translate(469.0 394.0) scale(1.0 1.03)" text-anchor="end" font-family='"Liberation Serif", serif' font-size="13" fill="#111">3</text><text transform="translate(832.7 394.0) scale(1.0 1.03)" font-family='"Liberation Serif", serif' font-size="13" fill="#111">3</text><text transform="translate(469.0 374.6) scale(1.0 1.03)" text-anchor="end" font-family='"Liberation Serif", serif' font-size="13" fill="#111">4</text><text transform="translate(832.7 374.6) scale(1.0 1.03)" font-family='"Liberation Serif", serif' font-size="13" fill="#111">4</text><text transform="translate(469.0 355.2) scale(1.0 1.03)" text-anchor="end" font-family='"Liberation Serif", serif' font-size="13" fill="#111">5</text><text transform="translate(832.7 355.2) scale(1.0 1.03)" font-family='"Liberation Serif", serif' font-size="13" fill="#111">5</text><text transform="translate(469.0 335.8) scale(1.0 1.03)" text-anchor="end" font-family='"Liberation Serif", serif' font-size="13" fill="#111">6</text><text transform="translate(832.7 335.8) scale(1.0 1.03)" font-family='"Liberation Serif", serif' font-size="13" fill="#111">6</text><text transform="translate(469.0 316.4) scale(1.0 1.03)" text-anchor="end" font-family='"Liberation Serif", serif' font-size="13" fill="#111">7</text><text transform="translate(832.7 316.4) scale(1.0 1.03)" font-family='"Liberation Serif", serif' font-size="13" fill="#111">7</text><text transform="translate(477.1 572.5) scale(1.0 1.05)" text-anchor="middle" font-family='"Liberation Serif", serif' font-size="13" fill="#111">Γ</text><text transform="translate(499.7 572.5) scale(1.0 1.05)" text-anchor="middle" font-family='"Liberation Serif", serif' font-size="13" fill="#111">X</text><text transform="translate(522.5 572.5) scale(1.0 1.05)" text-anchor="middle" font-family='"Liberation Serif", serif' font-size="13" fill="#111">M</text><text transform="translate(555.6 572.5) scale(1.0 1.05)" text-anchor="middle" font-family='"Liberation Serif", serif' font-size="13" fill="#111">Γ</text><text transform="translate(594.0 572.5) scale(1.0 1.05)" text-anchor="middle" font-family='"Liberation Serif", serif' font-size="13" fill="#111">R</text><text transform="translate(626.5 572.5) scale(1.0 1.05)" text-anchor="middle" font-family='"Liberation Serif", serif' font-size="13" fill="#111">X<tspan fill="#777"> | </tspan>M</text><text transform="translate(649.8 572.5) scale(1.0 1.05)" text-anchor="middle" font-family='"Liberation Serif", serif' font-size="13" fill="#111">R</text><text transform="translate(563.5 593.0) scale(1.0 1.05)" text-anchor="middle" font-family='"Liberation Serif", serif' font-size="13" fill="#111">K−Path</text><text transform="translate(735.4 593.0) scale(1.0 1.02)" text-anchor="middle" font-family='"Liberation Serif", serif' font-size="13" fill="#111">PDOS (arb. units)</text><text transform="translate(454 433.3) rotate(-90) scale(1.06 1)" text-anchor="middle" font-family='"Liberation Serif", serif' font-size="13" fill="#111">Energy (eV)</text><line x1="651.3" y1="312.1" x2="651.3" y2="554.5" stroke="#9a9a9a" stroke-width="1"/><line x1="359.4" y1="28.4" x2="380.2" y2="28.4" stroke="#ff2020" stroke-width="1.4"/><text transform="translate(352.6 31.9) scale(1 1.09)" text-anchor="end" font-family='"Liberation Serif", serif' font-size="13" fill="#111">O<tspan dy="4.3" font-size="12.5">p</tspan></text><line x1="359.4" y1="41.7" x2="380.2" y2="41.7" stroke="#00e8f0" stroke-width="1.4"/><text transform="translate(352.6 45.2) scale(1 1.09)" text-anchor="end" font-family='"Liberation Serif", serif' font-size="13" fill="#111">Sr<tspan dy="4.3" font-size="12.5">s</tspan></text><line x1="359.4" y1="55.1" x2="380.2" y2="55.1" stroke="#90ee90" stroke-width="1.4" stroke-dasharray="2 1.5"/><text transform="translate(352.6 58.6) scale(1 1.09)" text-anchor="end" font-family='"Liberation Serif", serif' font-size="13" fill="#111">Sr<tspan dy="4.3" font-size="12.5">p</tspan></text><line x1="359.4" y1="68.5" x2="380.2" y2="68.5" stroke="#1a9a1a" stroke-width="1.4"/><text transform="translate(352.6 72.0) scale(1 1.09)" text-anchor="end" font-family='"Liberation Serif", serif' font-size="13" fill="#111">Sr<tspan dy="4.3" font-size="12.5">d</tspan></text><line x1="359.4" y1="81.5" x2="380.2" y2="81.5" stroke="#6060ff" stroke-width="1.4" stroke-dasharray="1.5 1.5"/><text transform="translate(352.6 85.0) scale(1 1.09)" text-anchor="end" font-family='"Liberation Serif", serif' font-size="13" fill="#111">Ti<tspan dy="4.3" font-size="12.5">s</tspan></text><line x1="359.4" y1="94.5" x2="380.2" y2="94.5" stroke="#cc44ff" stroke-width="1.4"/><text transform="translate(352.6 98.0) scale(1 1.09)" text-anchor="end" font-family='"Liberation Serif", serif' font-size="13" fill="#111">Ti<tspan dy="4.3" font-size="12.5">p</tspan></text><line x1="359.4" y1="107.8" x2="380.2" y2="107.8" stroke="#2020ff" stroke-width="1.4"/><text transform="translate(352.6 111.3) scale(1 1.09)" text-anchor="end" font-family='"Liberation Serif", serif' font-size="13" fill="#111">Ti<tspan dy="4.3" font-size="12.5">d</tspan></text><line x1="359.4" y1="120.5" x2="380.2" y2="120.5" stroke="#111" stroke-width="1.4"/><text transform="translate(352.6 125.1) scale(1 1.09)" text-anchor="end" font-family='"Liberation Serif", serif' font-size="13" fill="#111">Total</text><line x1="766.5" y1="31.8" x2="786.5" y2="31.8" stroke="#ffa500" stroke-width="1.4"/><text transform="translate(760.0 35.3) scale(1 1.09)" text-anchor="end" font-family='"Liberation Serif", serif' font-size="13" fill="#111">O<tspan dy="4.3" font-size="12.5">s</tspan></text><line x1="766.5" y1="45.1" x2="786.5" y2="45.1" stroke="#ff2020" stroke-width="1.4"/><text transform="translate(760.0 48.6) scale(1 1.09)" text-anchor="end" font-family='"Liberation Serif", serif' font-size="13" fill="#111">O<tspan dy="4.3" font-size="12.5">p</tspan></text><line x1="766.5" y1="58.4" x2="786.5" y2="58.4" stroke="#00e8f0" stroke-width="1.4"/><text transform="translate(760.0 61.9) scale(1 1.09)" text-anchor="end" font-family='"Liberation Serif", serif' font-size="13" fill="#111">Sr<tspan dy="4.3" font-size="12.5">s</tspan></text><line x1="766.5" y1="71.9" x2="786.5" y2="71.9" stroke="#1a9a1a" stroke-width="1.4"/><text transform="translate(760.0 75.4) scale(1 1.09)" text-anchor="end" font-family='"Liberation Serif", serif' font-size="13" fill="#111">Sr<tspan dy="4.3" font-size="12.5">d</tspan></text><line x1="766.5" y1="85.3" x2="786.5" y2="85.3" stroke="#cc44ff" stroke-width="1.4"/><text transform="translate(760.0 88.8) scale(1 1.09)" text-anchor="end" font-family='"Liberation Serif", serif' font-size="13" fill="#111">Ti<tspan dy="4.3" font-size="12.5">p</tspan></text><line x1="766.5" y1="98.7" x2="786.5" y2="98.7" stroke="#2020ff" stroke-width="1.4"/><text transform="translate(760.0 102.2) scale(1 1.09)" text-anchor="end" font-family='"Liberation Serif", serif' font-size="13" fill="#111">Ti<tspan dy="4.3" font-size="12.5">d</tspan></text><line x1="766.5" y1="112.1" x2="786.5" y2="112.1" stroke="#111" stroke-width="1.4"/><text transform="translate(760.0 116.7) scale(1 1.09)" text-anchor="end" font-family='"Liberation Serif", serif' font-size="13" fill="#111">Total</text><line x1="343.1" y1="362.5" x2="364.3" y2="362.5" stroke="#ff2020" stroke-width="1.4"/><text transform="translate(336.2 366.0) scale(1 1.09)" text-anchor="end" font-family='"Liberation Serif", serif' font-size="13" fill="#111">O<tspan dy="4.3" font-size="12.5">p</tspan></text><line x1="343.1" y1="375.9" x2="364.3" y2="375.9" stroke="#1a9a1a" stroke-width="1.4"/><text transform="translate(336.2 379.4) scale(1 1.09)" text-anchor="end" font-family='"Liberation Serif", serif' font-size="13" fill="#111">Sr<tspan dy="4.3" font-size="12.5">d</tspan></text><line x1="343.1" y1="389.3" x2="364.3" y2="389.3" stroke="#6060ff" stroke-width="1.4" stroke-dasharray="1.5 1.5"/><text transform="translate(336.2 392.8) scale(1 1.09)" text-anchor="end" font-family='"Liberation Serif", serif' font-size="13" fill="#111">Ti<tspan dy="4.3" font-size="12.5">s</tspan></text><line x1="343.1" y1="401.7" x2="364.3" y2="401.7" stroke="#cc44ff" stroke-width="1.4"/><text transform="translate(336.2 405.2) scale(1 1.09)" text-anchor="end" font-family='"Liberation Serif", serif' font-size="13" fill="#111">Ti<tspan dy="4.3" font-size="12.5">p</tspan></text><line x1="343.1" y1="414.9" x2="364.3" y2="414.9" stroke="#2020ff" stroke-width="1.4"/><text transform="translate(336.2 418.4) scale(1 1.09)" text-anchor="end" font-family='"Liberation Serif", serif' font-size="13" fill="#111">Ti<tspan dy="4.3" font-size="12.5">d</tspan></text><line x1="343.1" y1="428.3" x2="364.3" y2="428.3" stroke="#111" stroke-width="1.4"/><text transform="translate(336.2 432.9) scale(1 1.09)" text-anchor="end" font-family='"Liberation Serif", serif' font-size="13" fill="#111">Total</text><line x1="785.9" y1="356.8" x2="806.7" y2="356.8" stroke="#ff2020" stroke-width="1.4"/><text transform="translate(778.6 360.3) scale(1 1.09)" text-anchor="end" font-family='"Liberation Serif", serif' font-size="13" fill="#111">O<tspan dy="4.3" font-size="12.5">p</tspan></text><line x1="785.9" y1="370.1" x2="806.7" y2="370.1" stroke="#1a9a1a" stroke-width="1.4"/><text transform="translate(778.6 373.6) scale(1 1.09)" text-anchor="end" font-family='"Liberation Serif", serif' font-size="13" fill="#111">Sr<tspan dy="4.3" font-size="12.5">d</tspan></text><line x1="785.9" y1="383.5" x2="806.7" y2="383.5" stroke="#6060ff" stroke-width="1.4" stroke-dasharray="1.5 1.5"/><text transform="translate(778.6 387.0) scale(1 1.09)" text-anchor="end" font-family='"Liberation Serif", serif' font-size="13" fill="#111">Ti<tspan dy="4.3" font-size="12.5">s</tspan></text><line x1="785.9" y1="396.8" x2="806.7" y2="396.8" stroke="#cc44ff" stroke-width="1.4"/><text transform="translate(778.6 400.3) scale(1 1.09)" text-anchor="end" font-family='"Liberation Serif", serif' font-size="13" fill="#111">Ti<tspan dy="4.3" font-size="12.5">p</tspan></text><line x1="785.9" y1="410.0" x2="806.7" y2="410.0" stroke="#2020ff" stroke-width="1.4"/><text transform="translate(778.6 413.5) scale(1 1.09)" text-anchor="end" font-family='"Liberation Serif", serif' font-size="13" fill="#111">Ti<tspan dy="4.3" font-size="12.5">d</tspan></text><line x1="785.9" y1="423.5" x2="806.7" y2="423.5" stroke="#111" stroke-width="1.4"/><text transform="translate(778.6 428.1) scale(1 1.09)" text-anchor="end" font-family='"Liberation Serif", serif' font-size="13" fill="#111">Total</text><line x1="114" y1="80.0" x2="142.5" y2="80.0" stroke="#22dddd" stroke-width="1.4"/><line x1="114" y1="141.5" x2="142.5" y2="141.5" stroke="#22dddd" stroke-width="1.4"/><line x1="128.3" y1="81.0" x2="128.3" y2="140.5" stroke="#111" stroke-width="1.2"/><path d="M125.3 88.0 L128.3 80.5 L131.3 88.0 L128.3 85.0Z" fill="#111"/><path d="M125.3 133.5 L128.3 141.0 L131.3 133.5 L128.3 136.5Z" fill="#111"/><text transform="translate(138.6 95.4) scale(1 1.05)" font-family='"Liberation Serif", serif' font-size="13.1" fill="#161680">Ideal STO</text><text transform="translate(138.6 121) scale(1 1.12)" font-family='"Liberation Serif", serif' font-size="13.2" fill="#8a1a1a" textLength="81.5" lengthAdjust="spacingAndGlyphs">E<tspan dy="3.6" font-size="12">gap</tspan><tspan dy="-3.6"> = 3.19 eV</tspan></text><text x="581" y="71.9" font-family='"Liberation Sans", sans-serif' font-size="14" fill="#111">E<tspan dy="4" font-size="12" fill="#1a2a6a">F</tspan></text><text x="509.5" y="122.2" font-family='"Liberation Sans", sans-serif' font-size="14" fill="#2828a0">V<tspan dy="-6" font-size="10">o</tspan><tspan dx="-5.5" dy="9" font-size="11">O</tspan></text><text x="80.5" y="418.7" font-family='"Liberation Sans", sans-serif' font-size="14" fill="#2828a0">V<tspan dy="-7" font-size="10">o</tspan><tspan dx="-5.5" dy="10" font-size="11">Sr</tspan></text><text x="524.5" y="403.6" font-family='"Liberation Sans", sans-serif' font-size="15" fill="#2828a0">V<tspan dy="-7" font-size="10">o</tspan><tspan dx="-5.5" dy="10" font-size="11">Ti</tspan></text></svg>
</body></html>
